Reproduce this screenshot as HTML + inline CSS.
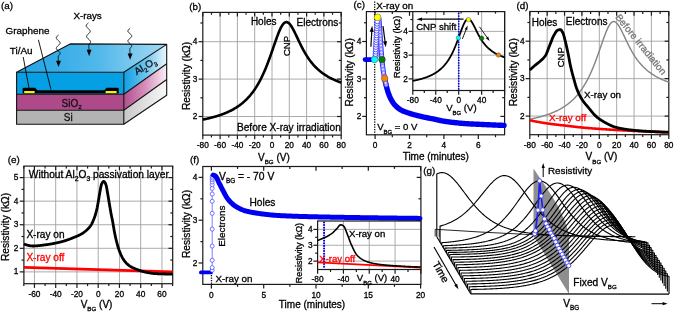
<!DOCTYPE html>
<html><head><meta charset="utf-8"><style>
html,body{margin:0;padding:0;background:#fff;}
svg{display:block;will-change:transform;}
text{font-family:"Liberation Sans", sans-serif;stroke-width:0.3px;}
</style></head><body>
<svg xmlns="http://www.w3.org/2000/svg" width="675" height="313" viewBox="0 0 675 313">
<rect width="675" height="313" fill="#fff"/>
<line x1="220.1" y1="12.4" x2="220.1" y2="135.1" stroke="#a2a2a2" stroke-width="0.9"/>
<line x1="237.4" y1="12.4" x2="237.4" y2="135.1" stroke="#a2a2a2" stroke-width="0.9"/>
<line x1="254.7" y1="12.4" x2="254.7" y2="135.1" stroke="#a2a2a2" stroke-width="0.9"/>
<line x1="272" y1="12.4" x2="272" y2="135.1" stroke="#a2a2a2" stroke-width="0.9"/>
<line x1="289.3" y1="12.4" x2="289.3" y2="135.1" stroke="#a2a2a2" stroke-width="0.9"/>
<line x1="306.6" y1="12.4" x2="306.6" y2="135.1" stroke="#a2a2a2" stroke-width="0.9"/>
<line x1="323.9" y1="12.4" x2="323.9" y2="135.1" stroke="#a2a2a2" stroke-width="0.9"/>
<line x1="202.8" y1="116.5" x2="341.2" y2="116.5" stroke="#a2a2a2" stroke-width="0.9"/>
<line x1="202.8" y1="79.1" x2="341.2" y2="79.1" stroke="#a2a2a2" stroke-width="0.9"/>
<line x1="202.8" y1="41.7" x2="341.2" y2="41.7" stroke="#a2a2a2" stroke-width="0.9"/>
<line x1="202.8" y1="135.1" x2="202.8" y2="139.3" stroke="#1a1a1a" stroke-width="1.2"/>
<line x1="202.8" y1="12.4" x2="202.8" y2="16.6" stroke="#1a1a1a" stroke-width="1.2"/>
<line x1="220.1" y1="135.1" x2="220.1" y2="139.3" stroke="#1a1a1a" stroke-width="1.2"/>
<line x1="220.1" y1="12.4" x2="220.1" y2="16.6" stroke="#1a1a1a" stroke-width="1.2"/>
<line x1="237.4" y1="135.1" x2="237.4" y2="139.3" stroke="#1a1a1a" stroke-width="1.2"/>
<line x1="237.4" y1="12.4" x2="237.4" y2="16.6" stroke="#1a1a1a" stroke-width="1.2"/>
<line x1="254.7" y1="135.1" x2="254.7" y2="139.3" stroke="#1a1a1a" stroke-width="1.2"/>
<line x1="254.7" y1="12.4" x2="254.7" y2="16.6" stroke="#1a1a1a" stroke-width="1.2"/>
<line x1="272" y1="135.1" x2="272" y2="139.3" stroke="#1a1a1a" stroke-width="1.2"/>
<line x1="272" y1="12.4" x2="272" y2="16.6" stroke="#1a1a1a" stroke-width="1.2"/>
<line x1="289.3" y1="135.1" x2="289.3" y2="139.3" stroke="#1a1a1a" stroke-width="1.2"/>
<line x1="289.3" y1="12.4" x2="289.3" y2="16.6" stroke="#1a1a1a" stroke-width="1.2"/>
<line x1="306.6" y1="135.1" x2="306.6" y2="139.3" stroke="#1a1a1a" stroke-width="1.2"/>
<line x1="306.6" y1="12.4" x2="306.6" y2="16.6" stroke="#1a1a1a" stroke-width="1.2"/>
<line x1="323.9" y1="135.1" x2="323.9" y2="139.3" stroke="#1a1a1a" stroke-width="1.2"/>
<line x1="323.9" y1="12.4" x2="323.9" y2="16.6" stroke="#1a1a1a" stroke-width="1.2"/>
<line x1="341.2" y1="135.1" x2="341.2" y2="139.3" stroke="#1a1a1a" stroke-width="1.2"/>
<line x1="341.2" y1="12.4" x2="341.2" y2="16.6" stroke="#1a1a1a" stroke-width="1.2"/>
<line x1="211.45" y1="135.1" x2="211.45" y2="137.5" stroke="#1a1a1a" stroke-width="1.2"/>
<line x1="211.45" y1="12.4" x2="211.45" y2="14.8" stroke="#1a1a1a" stroke-width="1.2"/>
<line x1="228.75" y1="135.1" x2="228.75" y2="137.5" stroke="#1a1a1a" stroke-width="1.2"/>
<line x1="228.75" y1="12.4" x2="228.75" y2="14.8" stroke="#1a1a1a" stroke-width="1.2"/>
<line x1="246.05" y1="135.1" x2="246.05" y2="137.5" stroke="#1a1a1a" stroke-width="1.2"/>
<line x1="246.05" y1="12.4" x2="246.05" y2="14.8" stroke="#1a1a1a" stroke-width="1.2"/>
<line x1="263.35" y1="135.1" x2="263.35" y2="137.5" stroke="#1a1a1a" stroke-width="1.2"/>
<line x1="263.35" y1="12.4" x2="263.35" y2="14.8" stroke="#1a1a1a" stroke-width="1.2"/>
<line x1="280.65" y1="135.1" x2="280.65" y2="137.5" stroke="#1a1a1a" stroke-width="1.2"/>
<line x1="280.65" y1="12.4" x2="280.65" y2="14.8" stroke="#1a1a1a" stroke-width="1.2"/>
<line x1="297.95" y1="135.1" x2="297.95" y2="137.5" stroke="#1a1a1a" stroke-width="1.2"/>
<line x1="297.95" y1="12.4" x2="297.95" y2="14.8" stroke="#1a1a1a" stroke-width="1.2"/>
<line x1="315.25" y1="135.1" x2="315.25" y2="137.5" stroke="#1a1a1a" stroke-width="1.2"/>
<line x1="315.25" y1="12.4" x2="315.25" y2="14.8" stroke="#1a1a1a" stroke-width="1.2"/>
<line x1="332.55" y1="135.1" x2="332.55" y2="137.5" stroke="#1a1a1a" stroke-width="1.2"/>
<line x1="332.55" y1="12.4" x2="332.55" y2="14.8" stroke="#1a1a1a" stroke-width="1.2"/>
<line x1="198.6" y1="116.5" x2="202.8" y2="116.5" stroke="#1a1a1a" stroke-width="1.2"/>
<line x1="337" y1="116.5" x2="341.2" y2="116.5" stroke="#1a1a1a" stroke-width="1.2"/>
<line x1="198.6" y1="79.1" x2="202.8" y2="79.1" stroke="#1a1a1a" stroke-width="1.2"/>
<line x1="337" y1="79.1" x2="341.2" y2="79.1" stroke="#1a1a1a" stroke-width="1.2"/>
<line x1="198.6" y1="41.7" x2="202.8" y2="41.7" stroke="#1a1a1a" stroke-width="1.2"/>
<line x1="337" y1="41.7" x2="341.2" y2="41.7" stroke="#1a1a1a" stroke-width="1.2"/>
<line x1="200.4" y1="97.8" x2="202.8" y2="97.8" stroke="#1a1a1a" stroke-width="1.2"/>
<line x1="338.8" y1="97.8" x2="341.2" y2="97.8" stroke="#1a1a1a" stroke-width="1.2"/>
<line x1="200.4" y1="60.4" x2="202.8" y2="60.4" stroke="#1a1a1a" stroke-width="1.2"/>
<line x1="338.8" y1="60.4" x2="341.2" y2="60.4" stroke="#1a1a1a" stroke-width="1.2"/>
<line x1="200.4" y1="23" x2="202.8" y2="23" stroke="#1a1a1a" stroke-width="1.2"/>
<line x1="338.8" y1="23" x2="341.2" y2="23" stroke="#1a1a1a" stroke-width="1.2"/>
<rect x="202.8" y="12.4" width="138.4" height="122.7" fill="none" stroke="#1a1a1a" stroke-width="1.2"/>
<text x="202.8" y="147.8" font-size="8.3" text-anchor="middle" fill="#000" stroke="#000">-80</text>
<text x="220.1" y="147.8" font-size="8.3" text-anchor="middle" fill="#000" stroke="#000">-60</text>
<text x="237.4" y="147.8" font-size="8.3" text-anchor="middle" fill="#000" stroke="#000">-40</text>
<text x="254.7" y="147.8" font-size="8.3" text-anchor="middle" fill="#000" stroke="#000">-20</text>
<text x="272" y="147.8" font-size="8.3" text-anchor="middle" fill="#000" stroke="#000">0</text>
<text x="289.3" y="147.8" font-size="8.3" text-anchor="middle" fill="#000" stroke="#000">20</text>
<text x="306.6" y="147.8" font-size="8.3" text-anchor="middle" fill="#000" stroke="#000">40</text>
<text x="323.9" y="147.8" font-size="8.3" text-anchor="middle" fill="#000" stroke="#000">60</text>
<text x="341.2" y="147.8" font-size="8.3" text-anchor="middle" fill="#000" stroke="#000">80</text>
<text x="197.4" y="119.1" font-size="8.3" text-anchor="end" fill="#000" stroke="#000">2</text>
<text x="197.4" y="81.7" font-size="8.3" text-anchor="end" fill="#000" stroke="#000">3</text>
<text x="197.4" y="44.3" font-size="8.3" text-anchor="end" fill="#000" stroke="#000">4</text>
<path d="M202.8 119.58 L203.26 119.49 L203.73 119.39 L204.19 119.3 L204.65 119.2 L205.11 119.11 L205.58 119.01 L206.04 118.91 L206.5 118.8 L206.97 118.7 L207.43 118.6 L207.89 118.49 L208.35 118.38 L208.82 118.27 L209.28 118.16 L209.74 118.05 L210.21 117.94 L210.67 117.82 L211.13 117.71 L211.59 117.59 L212.06 117.47 L212.52 117.35 L212.98 117.22 L213.45 117.1 L213.91 116.97 L214.37 116.84 L214.83 116.71 L215.3 116.57 L215.76 116.44 L216.22 116.3 L216.69 116.16 L217.15 116.02 L217.61 115.88 L218.07 115.73 L218.54 115.58 L219 115.43 L219.46 115.28 L219.93 115.12 L220.39 114.97 L220.85 114.81 L221.32 114.64 L221.78 114.48 L222.24 114.31 L222.7 114.14 L223.17 113.96 L223.63 113.79 L224.09 113.61 L224.56 113.42 L225.02 113.24 L225.48 113.05 L225.94 112.85 L226.41 112.66 L226.87 112.46 L227.33 112.26 L227.8 112.05 L228.26 111.84 L228.72 111.63 L229.18 111.41 L229.65 111.19 L230.11 110.96 L230.57 110.73 L231.04 110.5 L231.5 110.26 L231.96 110.02 L232.42 109.77 L232.89 109.52 L233.35 109.26 L233.81 109 L234.28 108.73 L234.74 108.46 L235.2 108.19 L235.66 107.9 L236.13 107.62 L236.59 107.32 L237.05 107.02 L237.52 106.72 L237.98 106.41 L238.44 106.09 L238.9 105.77 L239.37 105.44 L239.83 105.1 L240.29 104.76 L240.76 104.4 L241.22 104.05 L241.68 103.68 L242.14 103.31 L242.61 102.93 L243.07 102.54 L243.53 102.14 L244 101.73 L244.46 101.32 L244.92 100.9 L245.38 100.46 L245.85 100.02 L246.31 99.57 L246.77 99.11 L247.24 98.64 L247.7 98.16 L248.16 97.66 L248.62 97.16 L249.09 96.65 L249.55 96.12 L250.01 95.58 L250.48 95.03 L250.94 94.47 L251.4 93.9 L251.86 93.31 L252.33 92.71 L252.79 92.1 L253.25 91.47 L253.72 90.83 L254.18 90.17 L254.64 89.5 L255.11 88.82 L255.57 88.12 L256.03 87.4 L256.49 86.67 L256.96 85.92 L257.42 85.15 L257.88 84.36 L258.35 83.56 L258.81 82.74 L259.27 81.91 L259.73 81.05 L260.2 80.18 L260.66 79.29 L261.12 78.37 L261.59 77.44 L262.05 76.49 L262.51 75.52 L262.97 74.53 L263.44 73.52 L263.9 72.48 L264.36 71.43 L264.83 70.36 L265.29 69.27 L265.75 68.15 L266.21 67.02 L266.68 65.87 L267.14 64.7 L267.6 63.51 L268.07 62.3 L268.53 61.07 L268.99 59.82 L269.45 58.56 L269.92 57.29 L270.38 55.99 L270.84 54.69 L271.31 53.37 L271.77 52.05 L272.23 50.71 L272.69 49.37 L273.16 48.02 L273.62 46.68 L274.08 45.33 L274.55 43.98 L275.01 42.65 L275.47 41.32 L275.93 40 L276.4 38.7 L276.86 37.42 L277.32 36.16 L277.79 34.93 L278.25 33.74 L278.71 32.57 L279.17 31.45 L279.64 30.38 L280.1 29.35 L280.56 28.38 L281.03 27.46 L281.49 26.61 L281.95 25.82 L282.41 25.1 L282.88 24.45 L283.34 23.87 L283.8 23.38 L284.27 22.96 L284.73 22.62 L285.19 22.37 L285.65 22.19 L286.12 22.1 L286.58 22.09 L287.04 22.16 L287.51 22.31 L287.97 22.54 L288.43 22.84 L288.89 23.21 L289.36 23.65 L289.82 24.16 L290.28 24.72 L290.75 25.34 L291.21 26.02 L291.67 26.74 L292.14 27.5 L292.6 28.31 L293.06 29.15 L293.52 30.02 L293.99 30.92 L294.45 31.84 L294.91 32.78 L295.38 33.73 L295.84 34.7 L296.3 35.67 L296.76 36.65 L297.23 37.64 L297.69 38.62 L298.15 39.6 L298.62 40.58 L299.08 41.55 L299.54 42.52 L300 43.47 L300.47 44.42 L300.93 45.35 L301.39 46.27 L301.86 47.18 L302.32 48.07 L302.78 48.95 L303.24 49.81 L303.71 50.65 L304.17 51.48 L304.63 52.3 L305.1 53.1 L305.56 53.88 L306.02 54.64 L306.48 55.39 L306.95 56.13 L307.41 56.84 L307.87 57.54 L308.34 58.23 L308.8 58.9 L309.26 59.55 L309.72 60.19 L310.19 60.81 L310.65 61.42 L311.11 62.02 L311.58 62.6 L312.04 63.17 L312.5 63.73 L312.96 64.27 L313.43 64.8 L313.89 65.32 L314.35 65.82 L314.82 66.32 L315.28 66.8 L315.74 67.27 L316.2 67.73 L316.67 68.19 L317.13 68.63 L317.59 69.06 L318.06 69.48 L318.52 69.89 L318.98 70.29 L319.44 70.69 L319.91 71.07 L320.37 71.45 L320.83 71.82 L321.3 72.18 L321.76 72.54 L322.22 72.88 L322.68 73.22 L323.15 73.55 L323.61 73.88 L324.07 74.2 L324.54 74.51 L325 74.82 L325.46 75.12 L325.93 75.41 L326.39 75.7 L326.85 75.98 L327.31 76.26 L327.78 76.53 L328.24 76.8 L328.7 77.06 L329.17 77.31 L329.63 77.57 L330.09 77.81 L330.55 78.06 L331.02 78.29 L331.48 78.53 L331.94 78.76 L332.41 78.98 L332.87 79.2 L333.33 79.42 L333.79 79.64 L334.26 79.85 L334.72 80.05 L335.18 80.25 L335.65 80.45 L336.11 80.65 L336.57 80.84 L337.03 81.03 L337.5 81.22 L337.96 81.4 L338.42 81.58 L338.89 81.76 L339.35 81.93 L339.81 82.1 L340.27 82.27 L340.74 82.44 L341.2 82.6" stroke="#000" stroke-width="2.6" fill="none" stroke-linejoin="round"/>
<text x="250.9" y="24.7" font-size="10" text-anchor="start" fill="#000" stroke="#000">Holes</text>
<text x="296.6" y="25.5" font-size="10" text-anchor="start" fill="#000" stroke="#000">Electrons</text>
<text x="290.2" y="46" font-size="9.5" text-anchor="middle" fill="#000" stroke="#000" transform="rotate(-90 290.2 46)">CNP</text>
<text x="237" y="131.2" font-size="10.1" text-anchor="start" fill="#000" stroke="#000">Before X-ray irradiation</text>
<text x="258" y="160.5" font-size="10" text-anchor="start" fill="#000" stroke="#000">V<tspan font-size="6.2" dy="3.5">BG</tspan><tspan dy="-3.5"> (V)</tspan></text>
<text x="190.3" y="76" font-size="10.2" text-anchor="middle" fill="#000" stroke="#000" transform="rotate(-90 190.3 76)">Resistivity (k&#937;)</text>
<text x="189.3" y="9.6" font-size="9.8" text-anchor="start" fill="#000" stroke="#000">(b)</text>
<line x1="375.1" y1="134.8" x2="375.1" y2="139" stroke="#1a1a1a" stroke-width="1.2"/>
<line x1="375.1" y1="11.6" x2="375.1" y2="15.8" stroke="#1a1a1a" stroke-width="1.2"/>
<line x1="409.5" y1="134.8" x2="409.5" y2="139" stroke="#1a1a1a" stroke-width="1.2"/>
<line x1="409.5" y1="11.6" x2="409.5" y2="15.8" stroke="#1a1a1a" stroke-width="1.2"/>
<line x1="443.9" y1="134.8" x2="443.9" y2="139" stroke="#1a1a1a" stroke-width="1.2"/>
<line x1="443.9" y1="11.6" x2="443.9" y2="15.8" stroke="#1a1a1a" stroke-width="1.2"/>
<line x1="478.3" y1="134.8" x2="478.3" y2="139" stroke="#1a1a1a" stroke-width="1.2"/>
<line x1="478.3" y1="11.6" x2="478.3" y2="15.8" stroke="#1a1a1a" stroke-width="1.2"/>
<line x1="392.3" y1="134.8" x2="392.3" y2="137.2" stroke="#1a1a1a" stroke-width="1.2"/>
<line x1="392.3" y1="11.6" x2="392.3" y2="14" stroke="#1a1a1a" stroke-width="1.2"/>
<line x1="426.7" y1="134.8" x2="426.7" y2="137.2" stroke="#1a1a1a" stroke-width="1.2"/>
<line x1="426.7" y1="11.6" x2="426.7" y2="14" stroke="#1a1a1a" stroke-width="1.2"/>
<line x1="461.1" y1="134.8" x2="461.1" y2="137.2" stroke="#1a1a1a" stroke-width="1.2"/>
<line x1="461.1" y1="11.6" x2="461.1" y2="14" stroke="#1a1a1a" stroke-width="1.2"/>
<line x1="495.5" y1="134.8" x2="495.5" y2="137.2" stroke="#1a1a1a" stroke-width="1.2"/>
<line x1="495.5" y1="11.6" x2="495.5" y2="14" stroke="#1a1a1a" stroke-width="1.2"/>
<line x1="362.2" y1="116.4" x2="366.4" y2="116.4" stroke="#1a1a1a" stroke-width="1.2"/>
<line x1="500.4" y1="116.4" x2="504.6" y2="116.4" stroke="#1a1a1a" stroke-width="1.2"/>
<line x1="362.2" y1="78.95" x2="366.4" y2="78.95" stroke="#1a1a1a" stroke-width="1.2"/>
<line x1="500.4" y1="78.95" x2="504.6" y2="78.95" stroke="#1a1a1a" stroke-width="1.2"/>
<line x1="362.2" y1="41.5" x2="366.4" y2="41.5" stroke="#1a1a1a" stroke-width="1.2"/>
<line x1="500.4" y1="41.5" x2="504.6" y2="41.5" stroke="#1a1a1a" stroke-width="1.2"/>
<line x1="364" y1="97.68" x2="366.4" y2="97.68" stroke="#1a1a1a" stroke-width="1.2"/>
<line x1="502.2" y1="97.68" x2="504.6" y2="97.68" stroke="#1a1a1a" stroke-width="1.2"/>
<line x1="364" y1="60.23" x2="366.4" y2="60.23" stroke="#1a1a1a" stroke-width="1.2"/>
<line x1="502.2" y1="60.23" x2="504.6" y2="60.23" stroke="#1a1a1a" stroke-width="1.2"/>
<line x1="364" y1="22.77" x2="366.4" y2="22.77" stroke="#1a1a1a" stroke-width="1.2"/>
<line x1="502.2" y1="22.77" x2="504.6" y2="22.77" stroke="#1a1a1a" stroke-width="1.2"/>
<rect x="366.4" y="11.6" width="138.2" height="123.2" fill="none" stroke="#1a1a1a" stroke-width="1.2"/>
<text x="375.1" y="147.8" font-size="8.3" text-anchor="middle" fill="#000" stroke="#000">0</text>
<text x="409.5" y="147.8" font-size="8.3" text-anchor="middle" fill="#000" stroke="#000">2</text>
<text x="443.9" y="147.8" font-size="8.3" text-anchor="middle" fill="#000" stroke="#000">4</text>
<text x="478.3" y="147.8" font-size="8.3" text-anchor="middle" fill="#000" stroke="#000">6</text>
<text x="361.3" y="119" font-size="8.3" text-anchor="end" fill="#000" stroke="#000">2</text>
<text x="361.3" y="81.55" font-size="8.3" text-anchor="end" fill="#000" stroke="#000">3</text>
<text x="361.3" y="44.1" font-size="8.3" text-anchor="end" fill="#000" stroke="#000">4</text>
<text x="353.6" y="8" font-size="9.8" text-anchor="start" fill="#000" stroke="#000">(c)</text>
<text x="376.2" y="9.3" font-size="9.8" text-anchor="start" fill="#000" stroke="#000">X-ray on</text>
<text x="352.6" y="72.3" font-size="10.2" text-anchor="middle" fill="#000" stroke="#000" transform="rotate(-90 352.6 72.3)">Resistivity (k&#937;)</text>
<text x="435.8" y="159.9" font-size="10" text-anchor="middle" fill="#000" stroke="#000">Time (minutes)</text>
<line x1="374.7" y1="1.5" x2="374.7" y2="134.8" stroke="#000" stroke-width="1.3" stroke-dasharray="1.3 1.2"/>
<line x1="365" y1="59.6" x2="374.5" y2="59.6" stroke="#0000f0" stroke-width="4.6" stroke-linecap="round"/>
<path d="M384.6 78.3 L384.73 79 L384.86 79.7 L385 80.4 L385.14 81.1 L385.29 81.8 L385.45 82.49 L385.61 83.18 L385.77 83.88 L385.94 84.57 L386.11 85.26 L386.29 85.94 L386.47 86.63 L386.65 87.32 L386.83 88 L387.02 88.68 L387.22 89.37 L387.41 90.05 L387.62 90.74 L387.83 91.42 L388.04 92.1 L388.27 92.78 L388.5 93.46 L388.74 94.13 L388.99 94.79 L389.25 95.44 L389.52 96.09 L389.81 96.74 L390.1 97.39 L390.41 98.04 L390.73 98.7 L391.06 99.34 L391.41 99.98 L391.76 100.61 L392.13 101.24 L392.51 101.85 L392.9 102.44 L393.3 103.02 L393.71 103.58 L394.13 104.12 L394.57 104.64 L395.03 105.16 L395.52 105.68 L396.03 106.18 L396.56 106.68 L397.1 107.17 L397.66 107.65 L398.23 108.1 L398.81 108.55 L399.4 108.97 L400 109.37 L400.59 109.74 L401.19 110.09 L401.8 110.41 L402.41 110.72 L403.05 111.01 L403.69 111.29 L404.35 111.56 L405.01 111.82 L405.69 112.07 L406.36 112.31 L407.05 112.55 L407.74 112.78 L408.42 113 L409.11 113.22 L409.8 113.43 L410.48 113.64 L411.16 113.85 L411.84 114.05 L412.52 114.26 L413.2 114.45 L413.88 114.65 L414.57 114.83 L415.26 115.02 L415.94 115.2 L416.63 115.38 L417.32 115.56 L418.01 115.73 L418.71 115.9 L419.4 116.06 L420.09 116.23 L420.78 116.39 L421.48 116.55 L422.17 116.71 L422.86 116.87 L423.56 117.02 L424.25 117.17 L424.95 117.32 L425.64 117.46 L426.34 117.61 L427.04 117.74 L427.73 117.88 L428.43 118.02 L429.13 118.15 L429.83 118.28 L430.53 118.42 L431.23 118.55 L431.92 118.68 L432.62 118.82 L433.32 118.96 L434.02 119.1 L434.71 119.24 L435.41 119.39 L436.1 119.54 L436.8 119.7 L437.49 119.86 L438.18 120.02 L438.88 120.18 L439.57 120.34 L440.26 120.5 L440.96 120.65 L441.66 120.79 L442.35 120.92 L443.05 121.04 L443.75 121.16 L444.45 121.27 L445.15 121.38 L445.86 121.48 L446.56 121.59 L447.26 121.69 L447.97 121.79 L448.67 121.88 L449.38 121.98 L450.09 122.07 L450.79 122.15 L451.5 122.24 L452.21 122.32 L452.91 122.41 L453.62 122.49 L454.33 122.56 L455.03 122.64 L455.74 122.71 L456.45 122.79 L457.15 122.86 L457.86 122.93 L458.57 123 L459.28 123.07 L459.98 123.14 L460.69 123.21 L461.4 123.27 L462.11 123.33 L462.82 123.4 L463.53 123.45 L464.23 123.51 L464.94 123.57 L465.65 123.62 L466.36 123.67 L467.07 123.72 L467.78 123.77 L468.49 123.81 L469.2 123.85 L469.91 123.89 L470.62 123.93 L471.33 123.97 L472.04 124 L472.75 124.03 L473.46 124.07 L474.17 124.1 L474.88 124.13 L475.59 124.16 L476.3 124.19 L477.01 124.22 L477.72 124.25 L478.43 124.28 L479.14 124.31 L479.85 124.34 L480.56 124.38 L481.27 124.41 L481.98 124.44 L482.69 124.48 L483.4 124.51 L484.11 124.54 L484.82 124.58 L485.53 124.61 L486.24 124.65 L486.95 124.68 L487.66 124.71 L488.37 124.75 L489.08 124.78 L489.79 124.82 L490.5 124.85 L491.21 124.88 L491.92 124.91 L492.63 124.94 L493.34 124.98 L494.05 125.01 L494.76 125.04 L495.48 125.07 L496.19 125.1 L496.9 125.13 L497.61 125.15 L498.32 125.18 L499.03 125.21 L499.74 125.24 L500.45 125.27 L501.16 125.29 L501.87 125.32 L502.58 125.35 L503.29 125.37 L504 125.4" stroke="#0000f0" stroke-width="5.4" fill="none" stroke-linecap="round" stroke-linejoin="round"/>
<path d="M372.6 57.5 L378.8 57.5 L380.2 20.5 L375 20.5Z" stroke="none" stroke-width="0" fill="#9c9cff"/>
<path d="M379 18.5 L379.08 19.63 L379.16 20.77 L379.24 21.9 L379.32 23.03 L379.4 24.16 L379.48 25.3 L379.55 26.43 L379.63 27.56 L379.71 28.69 L379.79 29.83 L379.86 30.96 L379.94 32.09 L380.01 33.23 L380.09 34.36 L380.16 35.49 L380.23 36.62 L380.31 37.76 L380.38 38.89 L380.45 40.02 L380.53 41.16 L380.61 42.29 L380.69 43.42 L380.77 44.55 L380.85 45.69 L380.94 46.82 L381.02 47.95 L381.11 49.08 L381.2 50.22 L381.29 51.35 L381.38 52.48 L381.47 53.61 L381.57 54.74 L381.66 55.87 L381.76 57 L381.86 58.14 L381.97 59.27 L382.07 60.4 L382.18 61.53 L382.29 62.66 L382.4 63.79 L382.52 64.92 L382.64 66.05 L382.77 67.17 L382.91 68.3 L383.06 69.43 L383.22 70.55 L383.39 71.67 L383.57 72.79 L383.76 73.91 L383.97 75.03 L384.18 76.15 L384.39 77.26 L384.62 78.37 L384.85 79.48 L385.1 80.59 L385.36 81.7 L385.63 82.8 L385.91 83.9 L386.2 85" stroke="#3030ff" stroke-width="5" fill="none" stroke-linecap="round" stroke-linejoin="round"/>
<path d="M379 18.5 L379.08 19.63 L379.16 20.77 L379.24 21.9 L379.32 23.03 L379.4 24.16 L379.48 25.3 L379.55 26.43 L379.63 27.56 L379.71 28.69 L379.79 29.83 L379.86 30.96 L379.94 32.09 L380.01 33.23 L380.09 34.36 L380.16 35.49 L380.23 36.62 L380.31 37.76 L380.38 38.89 L380.45 40.02 L380.53 41.16 L380.61 42.29 L380.69 43.42 L380.77 44.55 L380.85 45.69 L380.94 46.82 L381.02 47.95 L381.11 49.08 L381.2 50.22 L381.29 51.35 L381.38 52.48 L381.47 53.61 L381.57 54.74 L381.66 55.87 L381.76 57 L381.86 58.14 L381.97 59.27 L382.07 60.4 L382.18 61.53 L382.29 62.66 L382.4 63.79 L382.52 64.92 L382.64 66.05 L382.77 67.17 L382.91 68.3 L383.06 69.43 L383.22 70.55 L383.39 71.67 L383.57 72.79 L383.76 73.91 L383.97 75.03 L384.18 76.15 L384.39 77.26 L384.62 78.37 L384.85 79.48 L385.1 80.59 L385.36 81.7 L385.63 82.8 L385.91 83.9 L386.2 85" stroke="#b4b4ff" stroke-width="3" fill="none" stroke-linecap="round" stroke-linejoin="round"/>
<circle cx="379" cy="18.5" r="1.5" fill="#e0e0ff" stroke="#5050ff" stroke-width="0.5"/>
<circle cx="379.24" cy="21.9" r="1.5" fill="#e0e0ff" stroke="#5050ff" stroke-width="0.5"/>
<circle cx="379.48" cy="25.3" r="1.5" fill="#e0e0ff" stroke="#5050ff" stroke-width="0.5"/>
<circle cx="379.71" cy="28.69" r="1.5" fill="#e0e0ff" stroke="#5050ff" stroke-width="0.5"/>
<circle cx="379.94" cy="32.09" r="1.5" fill="#e0e0ff" stroke="#5050ff" stroke-width="0.5"/>
<circle cx="380.16" cy="35.49" r="1.5" fill="#e0e0ff" stroke="#5050ff" stroke-width="0.5"/>
<circle cx="380.38" cy="38.89" r="1.5" fill="#e0e0ff" stroke="#5050ff" stroke-width="0.5"/>
<circle cx="380.61" cy="42.29" r="1.5" fill="#e0e0ff" stroke="#5050ff" stroke-width="0.5"/>
<circle cx="380.85" cy="45.69" r="1.5" fill="#e0e0ff" stroke="#5050ff" stroke-width="0.5"/>
<circle cx="381.11" cy="49.08" r="1.5" fill="#e0e0ff" stroke="#5050ff" stroke-width="0.5"/>
<circle cx="381.38" cy="52.48" r="1.5" fill="#e0e0ff" stroke="#5050ff" stroke-width="0.5"/>
<circle cx="381.66" cy="55.87" r="1.5" fill="#e0e0ff" stroke="#5050ff" stroke-width="0.5"/>
<circle cx="381.97" cy="59.27" r="1.5" fill="#e0e0ff" stroke="#5050ff" stroke-width="0.5"/>
<circle cx="382.29" cy="62.66" r="1.5" fill="#e0e0ff" stroke="#5050ff" stroke-width="0.5"/>
<circle cx="382.64" cy="66.05" r="1.5" fill="#e0e0ff" stroke="#5050ff" stroke-width="0.5"/>
<circle cx="383.06" cy="69.43" r="1.5" fill="#e0e0ff" stroke="#5050ff" stroke-width="0.5"/>
<circle cx="383.57" cy="72.79" r="1.5" fill="#e0e0ff" stroke="#5050ff" stroke-width="0.5"/>
<circle cx="384.18" cy="76.15" r="1.5" fill="#e0e0ff" stroke="#5050ff" stroke-width="0.5"/>
<circle cx="384.85" cy="79.48" r="1.5" fill="#e0e0ff" stroke="#5050ff" stroke-width="0.5"/>
<circle cx="385.63" cy="82.8" r="1.5" fill="#e0e0ff" stroke="#5050ff" stroke-width="0.5"/>
<circle cx="375.4" cy="56.5" r="2.3" fill="#fff" stroke="#3030ff" stroke-width="0.8"/>
<circle cx="375.52" cy="54.17" r="2.3" fill="#fff" stroke="#3030ff" stroke-width="0.8"/>
<circle cx="375.64" cy="51.83" r="2.3" fill="#fff" stroke="#3030ff" stroke-width="0.8"/>
<circle cx="375.76" cy="49.5" r="2.3" fill="#fff" stroke="#3030ff" stroke-width="0.8"/>
<circle cx="375.88" cy="47.17" r="2.3" fill="#fff" stroke="#3030ff" stroke-width="0.8"/>
<circle cx="376" cy="44.83" r="2.3" fill="#fff" stroke="#3030ff" stroke-width="0.8"/>
<circle cx="376.12" cy="42.5" r="2.3" fill="#fff" stroke="#3030ff" stroke-width="0.8"/>
<circle cx="376.24" cy="40.17" r="2.3" fill="#fff" stroke="#3030ff" stroke-width="0.8"/>
<circle cx="376.36" cy="37.83" r="2.3" fill="#fff" stroke="#3030ff" stroke-width="0.8"/>
<circle cx="376.48" cy="35.5" r="2.3" fill="#fff" stroke="#3030ff" stroke-width="0.8"/>
<circle cx="376.6" cy="33.17" r="2.3" fill="#fff" stroke="#3030ff" stroke-width="0.8"/>
<circle cx="376.72" cy="30.83" r="2.3" fill="#fff" stroke="#3030ff" stroke-width="0.8"/>
<circle cx="376.84" cy="28.5" r="2.3" fill="#fff" stroke="#3030ff" stroke-width="0.8"/>
<circle cx="376.96" cy="26.17" r="2.3" fill="#fff" stroke="#3030ff" stroke-width="0.8"/>
<circle cx="377.08" cy="23.83" r="2.3" fill="#fff" stroke="#3030ff" stroke-width="0.8"/>
<circle cx="377.2" cy="21.5" r="2.3" fill="#fff" stroke="#3030ff" stroke-width="0.8"/>
<line x1="370.9" y1="46.8" x2="371.79" y2="31.29" stroke="#000" stroke-width="1.2"/>
<path d="M372.1 25.8 L373.75 31.9 L369.76 31.68Z" stroke="none" stroke-width="0" fill="#000"/>
<line x1="383" y1="26.2" x2="385.07" y2="41.75" stroke="#000" stroke-width="1.2"/>
<path d="M385.8 47.2 L383.02 41.52 L386.99 40.99Z" stroke="none" stroke-width="0" fill="#000"/>
<circle cx="377.6" cy="17.4" r="3.4" fill="#ffff00" stroke="#555" stroke-width="0.5"/>
<circle cx="374.5" cy="59.6" r="3.3" fill="#00ffff" stroke="#555" stroke-width="0.5"/>
<circle cx="382" cy="59.6" r="3.3" fill="#008000" stroke="#333" stroke-width="0.5"/>
<circle cx="384.6" cy="78.4" r="3.3" fill="#ff8000" stroke="#555" stroke-width="0.5"/>
<rect x="412.8" y="11.6" width="91.8" height="78.9" fill="#fff"/>
<line x1="435.75" y1="11.6" x2="435.75" y2="90.5" stroke="#a2a2a2" stroke-width="0.9"/>
<line x1="458.7" y1="11.6" x2="458.7" y2="90.5" stroke="#a2a2a2" stroke-width="0.9"/>
<line x1="481.65" y1="11.6" x2="481.65" y2="90.5" stroke="#a2a2a2" stroke-width="0.9"/>
<line x1="412.8" y1="78.9" x2="504.6" y2="78.9" stroke="#a2a2a2" stroke-width="0.9"/>
<line x1="412.8" y1="55.15" x2="504.6" y2="55.15" stroke="#a2a2a2" stroke-width="0.9"/>
<line x1="412.8" y1="31.4" x2="504.6" y2="31.4" stroke="#a2a2a2" stroke-width="0.9"/>
<line x1="412.8" y1="90.5" x2="412.8" y2="94.7" stroke="#1a1a1a" stroke-width="1.2"/>
<line x1="435.75" y1="90.5" x2="435.75" y2="94.7" stroke="#1a1a1a" stroke-width="1.2"/>
<line x1="458.7" y1="90.5" x2="458.7" y2="94.7" stroke="#1a1a1a" stroke-width="1.2"/>
<line x1="481.65" y1="90.5" x2="481.65" y2="94.7" stroke="#1a1a1a" stroke-width="1.2"/>
<line x1="504.6" y1="90.5" x2="504.6" y2="94.7" stroke="#1a1a1a" stroke-width="1.2"/>
<line x1="424.28" y1="90.5" x2="424.28" y2="92.9" stroke="#1a1a1a" stroke-width="1.2"/>
<line x1="447.23" y1="90.5" x2="447.23" y2="92.9" stroke="#1a1a1a" stroke-width="1.2"/>
<line x1="470.18" y1="90.5" x2="470.18" y2="92.9" stroke="#1a1a1a" stroke-width="1.2"/>
<line x1="493.12" y1="90.5" x2="493.12" y2="92.9" stroke="#1a1a1a" stroke-width="1.2"/>
<line x1="408.6" y1="78.9" x2="412.8" y2="78.9" stroke="#1a1a1a" stroke-width="1.2"/>
<line x1="408.6" y1="55.15" x2="412.8" y2="55.15" stroke="#1a1a1a" stroke-width="1.2"/>
<line x1="408.6" y1="31.4" x2="412.8" y2="31.4" stroke="#1a1a1a" stroke-width="1.2"/>
<line x1="410.4" y1="67.03" x2="412.8" y2="67.03" stroke="#1a1a1a" stroke-width="1.2"/>
<line x1="410.4" y1="43.27" x2="412.8" y2="43.27" stroke="#1a1a1a" stroke-width="1.2"/>
<line x1="410.4" y1="19.52" x2="412.8" y2="19.52" stroke="#1a1a1a" stroke-width="1.2"/>
<rect x="412.8" y="11.6" width="91.8" height="78.9" fill="none" stroke="#1a1a1a" stroke-width="1.2"/>
<line x1="426.7" y1="11.6" x2="426.7" y2="13.6" stroke="#1a1a1a" stroke-width="1.2"/>
<line x1="461.1" y1="11.6" x2="461.1" y2="13.6" stroke="#1a1a1a" stroke-width="1.2"/>
<line x1="495.5" y1="11.6" x2="495.5" y2="13.6" stroke="#1a1a1a" stroke-width="1.2"/>
<line x1="443.9" y1="11.6" x2="443.9" y2="15.1" stroke="#1a1a1a" stroke-width="1.2"/>
<line x1="478.3" y1="11.6" x2="478.3" y2="15.1" stroke="#1a1a1a" stroke-width="1.2"/>
<text x="412.8" y="103.3" font-size="8.3" text-anchor="middle" fill="#000" stroke="#000">-80</text>
<text x="435.75" y="103.3" font-size="8.3" text-anchor="middle" fill="#000" stroke="#000">-40</text>
<text x="458.7" y="103.3" font-size="8.3" text-anchor="middle" fill="#000" stroke="#000">0</text>
<text x="481.65" y="103.3" font-size="8.3" text-anchor="middle" fill="#000" stroke="#000">40</text>
<text x="407.8" y="81.5" font-size="8.3" text-anchor="end" fill="#000" stroke="#000">2</text>
<text x="407.8" y="57.75" font-size="8.3" text-anchor="end" fill="#000" stroke="#000">3</text>
<text x="407.8" y="34" font-size="8.3" text-anchor="end" fill="#000" stroke="#000">4</text>
<text x="446.2" y="111.2" font-size="9.6" text-anchor="start" fill="#000" stroke="#000">V<tspan font-size="5.95" dy="3.36">BG</tspan><tspan dy="-3.36"> (V)</tspan></text>
<text x="400.4" y="46.8" font-size="9.3" text-anchor="middle" fill="#000" stroke="#000" transform="rotate(-90 400.4 46.8)">Resistivity (k&#937;)</text>
<circle cx="458.7" cy="13.5" r="0.9" fill="#0000f0" stroke="none" stroke-width="0"/>
<circle cx="458.7" cy="16.1" r="0.9" fill="#0000f0" stroke="none" stroke-width="0"/>
<circle cx="458.7" cy="18.7" r="0.9" fill="#0000f0" stroke="none" stroke-width="0"/>
<circle cx="458.7" cy="21.3" r="0.9" fill="#0000f0" stroke="none" stroke-width="0"/>
<circle cx="458.7" cy="23.9" r="0.9" fill="#0000f0" stroke="none" stroke-width="0"/>
<circle cx="458.7" cy="26.5" r="0.9" fill="#0000f0" stroke="none" stroke-width="0"/>
<circle cx="458.7" cy="29.1" r="0.9" fill="#0000f0" stroke="none" stroke-width="0"/>
<circle cx="458.7" cy="31.7" r="0.9" fill="#0000f0" stroke="none" stroke-width="0"/>
<circle cx="458.7" cy="34.3" r="0.9" fill="#0000f0" stroke="none" stroke-width="0"/>
<circle cx="458.7" cy="36.9" r="0.9" fill="#0000f0" stroke="none" stroke-width="0"/>
<circle cx="458.7" cy="39.5" r="0.9" fill="#0000f0" stroke="none" stroke-width="0"/>
<circle cx="458.7" cy="42.1" r="0.9" fill="#0000f0" stroke="none" stroke-width="0"/>
<circle cx="458.7" cy="44.7" r="0.9" fill="#0000f0" stroke="none" stroke-width="0"/>
<circle cx="458.7" cy="47.3" r="0.9" fill="#0000f0" stroke="none" stroke-width="0"/>
<circle cx="458.7" cy="49.9" r="0.9" fill="#0000f0" stroke="none" stroke-width="0"/>
<circle cx="458.7" cy="52.5" r="0.9" fill="#0000f0" stroke="none" stroke-width="0"/>
<circle cx="458.7" cy="55.1" r="0.9" fill="#0000f0" stroke="none" stroke-width="0"/>
<circle cx="458.7" cy="57.7" r="0.9" fill="#0000f0" stroke="none" stroke-width="0"/>
<circle cx="458.7" cy="60.3" r="0.9" fill="#0000f0" stroke="none" stroke-width="0"/>
<circle cx="458.7" cy="62.9" r="0.9" fill="#0000f0" stroke="none" stroke-width="0"/>
<circle cx="458.7" cy="65.5" r="0.9" fill="#0000f0" stroke="none" stroke-width="0"/>
<circle cx="458.7" cy="68.1" r="0.9" fill="#0000f0" stroke="none" stroke-width="0"/>
<circle cx="458.7" cy="70.7" r="0.9" fill="#0000f0" stroke="none" stroke-width="0"/>
<circle cx="458.7" cy="73.3" r="0.9" fill="#0000f0" stroke="none" stroke-width="0"/>
<circle cx="458.7" cy="75.9" r="0.9" fill="#0000f0" stroke="none" stroke-width="0"/>
<circle cx="458.7" cy="78.5" r="0.9" fill="#0000f0" stroke="none" stroke-width="0"/>
<circle cx="458.7" cy="81.1" r="0.9" fill="#0000f0" stroke="none" stroke-width="0"/>
<circle cx="458.7" cy="83.7" r="0.9" fill="#0000f0" stroke="none" stroke-width="0"/>
<circle cx="458.7" cy="86.3" r="0.9" fill="#0000f0" stroke="none" stroke-width="0"/>
<circle cx="458.7" cy="88.9" r="0.9" fill="#0000f0" stroke="none" stroke-width="0"/>
<path d="M412.8 80.86 L413.11 80.8 L413.41 80.74 L413.72 80.68 L414.03 80.62 L414.34 80.55 L414.64 80.49 L414.95 80.43 L415.26 80.36 L415.56 80.3 L415.87 80.23 L416.18 80.16 L416.48 80.1 L416.79 80.03 L417.1 79.96 L417.41 79.89 L417.71 79.81 L418.02 79.74 L418.33 79.67 L418.63 79.59 L418.94 79.51 L419.25 79.44 L419.55 79.36 L419.86 79.28 L420.17 79.2 L420.48 79.12 L420.78 79.03 L421.09 78.95 L421.4 78.86 L421.7 78.77 L422.01 78.69 L422.32 78.6 L422.62 78.5 L422.93 78.41 L423.24 78.32 L423.55 78.22 L423.85 78.12 L424.16 78.03 L424.47 77.93 L424.77 77.82 L425.08 77.72 L425.39 77.62 L425.69 77.51 L426 77.4 L426.31 77.29 L426.62 77.18 L426.92 77.06 L427.23 76.95 L427.54 76.83 L427.84 76.71 L428.15 76.59 L428.46 76.46 L428.77 76.33 L429.07 76.21 L429.38 76.07 L429.69 75.94 L429.99 75.81 L430.3 75.67 L430.61 75.53 L430.91 75.38 L431.22 75.24 L431.53 75.09 L431.84 74.94 L432.14 74.78 L432.45 74.63 L432.76 74.47 L433.06 74.3 L433.37 74.14 L433.68 73.97 L433.98 73.8 L434.29 73.62 L434.6 73.44 L434.91 73.26 L435.21 73.07 L435.52 72.88 L435.83 72.69 L436.13 72.49 L436.44 72.29 L436.75 72.08 L437.05 71.87 L437.36 71.66 L437.67 71.44 L437.98 71.22 L438.28 70.99 L438.59 70.76 L438.9 70.52 L439.2 70.28 L439.51 70.03 L439.82 69.78 L440.13 69.52 L440.43 69.26 L440.74 68.99 L441.05 68.72 L441.35 68.44 L441.66 68.15 L441.97 67.86 L442.27 67.56 L442.58 67.25 L442.89 66.94 L443.2 66.62 L443.5 66.29 L443.81 65.96 L444.12 65.62 L444.42 65.27 L444.73 64.91 L445.04 64.55 L445.34 64.18 L445.65 63.79 L445.96 63.4 L446.27 63.01 L446.57 62.6 L446.88 62.18 L447.19 61.76 L447.49 61.32 L447.8 60.88 L448.11 60.42 L448.41 59.95 L448.72 59.48 L449.03 58.99 L449.34 58.49 L449.64 57.98 L449.95 57.46 L450.26 56.93 L450.56 56.39 L450.87 55.83 L451.18 55.27 L451.48 54.69 L451.79 54.1 L452.1 53.49 L452.41 52.88 L452.71 52.25 L453.02 51.6 L453.33 50.95 L453.63 50.28 L453.94 49.6 L454.25 48.91 L454.56 48.2 L454.86 47.48 L455.17 46.75 L455.48 46 L455.78 45.25 L456.09 44.48 L456.4 43.7 L456.7 42.91 L457.01 42.11 L457.32 41.3 L457.63 40.48 L457.93 39.65 L458.24 38.81 L458.55 37.97 L458.85 37.12 L459.16 36.27 L459.47 35.42 L459.77 34.56 L460.08 33.7 L460.39 32.85 L460.7 32 L461 31.16 L461.31 30.32 L461.62 29.5 L461.92 28.68 L462.23 27.88 L462.54 27.1 L462.84 26.34 L463.15 25.61 L463.46 24.89 L463.77 24.21 L464.07 23.56 L464.38 22.94 L464.69 22.36 L464.99 21.81 L465.3 21.31 L465.61 20.86 L465.92 20.44 L466.22 20.08 L466.53 19.76 L466.84 19.5 L467.14 19.28 L467.45 19.12 L467.76 19.01 L468.06 18.95 L468.37 18.95 L468.68 18.99 L468.99 19.09 L469.29 19.23 L469.6 19.42 L469.91 19.66 L470.21 19.94 L470.52 20.26 L470.83 20.62 L471.13 21.01 L471.44 21.44 L471.75 21.9 L472.06 22.39 L472.36 22.9 L472.67 23.43 L472.98 23.98 L473.28 24.55 L473.59 25.14 L473.9 25.73 L474.2 26.34 L474.51 26.95 L474.82 27.57 L475.13 28.2 L475.43 28.82 L475.74 29.44 L476.05 30.07 L476.35 30.69 L476.66 31.31 L476.97 31.92 L477.27 32.52 L477.58 33.12 L477.89 33.72 L478.2 34.3 L478.5 34.88 L478.81 35.44 L479.12 36 L479.42 36.55 L479.73 37.09 L480.04 37.61 L480.35 38.13 L480.65 38.64 L480.96 39.13 L481.27 39.62 L481.57 40.1 L481.88 40.56 L482.19 41.02 L482.49 41.46 L482.8 41.9 L483.11 42.32 L483.42 42.74 L483.72 43.14 L484.03 43.54 L484.34 43.93 L484.64 44.3 L484.95 44.67 L485.26 45.03 L485.56 45.39 L485.87 45.73 L486.18 46.07 L486.49 46.4 L486.79 46.72 L487.1 47.03 L487.41 47.34 L487.71 47.64 L488.02 47.93 L488.33 48.22 L488.63 48.5 L488.94 48.77 L489.25 49.04 L489.56 49.3 L489.86 49.56 L490.17 49.81 L490.48 50.05 L490.78 50.29 L491.09 50.53 L491.4 50.76 L491.71 50.98 L492.01 51.2 L492.32 51.42 L492.63 51.63 L492.93 51.83 L493.24 52.04 L493.55 52.24 L493.85 52.43 L494.16 52.62 L494.47 52.81 L494.78 52.99 L495.08 53.17 L495.39 53.35 L495.7 53.52 L496 53.69 L496.31 53.85 L496.62 54.02 L496.92 54.18 L497.23 54.33 L497.54 54.49 L497.85 54.64 L498.15 54.79 L498.46 54.93 L498.77 55.08 L499.07 55.22 L499.38 55.35 L499.69 55.49 L499.99 55.62 L500.3 55.75 L500.61 55.88 L500.92 56.01 L501.22 56.13 L501.53 56.26 L501.84 56.38 L502.14 56.49 L502.45 56.61 L502.76 56.72 L503.06 56.84 L503.37 56.95 L503.68 57.06 L503.99 57.16 L504.29 57.27 L504.6 57.37" stroke="#000" stroke-width="1.8" fill="none" stroke-linejoin="round"/>
<line x1="463.5" y1="19.2" x2="421.5" y2="19.2" stroke="#000" stroke-width="1.3"/>
<path d="M416.5 19.2 L422 17.4 L422 21Z" stroke="none" stroke-width="0" fill="#000"/>
<text x="416.2" y="29.6" font-size="9.6" text-anchor="start" fill="#000" stroke="#000">CNP shift</text>
<line x1="462.4" y1="38.9" x2="466.14" y2="29.33" stroke="#000" stroke-width="0.9"/>
<path d="M467.6 25.6 L467.27 30.3 L464.66 29.28Z" stroke="none" stroke-width="0" fill="#000"/>
<line x1="479.5" y1="26.8" x2="487.28" y2="37.74" stroke="#000" stroke-width="0.9"/>
<path d="M489.6 41 L485.85 38.14 L488.13 36.52Z" stroke="none" stroke-width="0" fill="#000"/>
<circle cx="468.5" cy="19.6" r="2.2" fill="#ffff00" stroke="#555" stroke-width="0.5"/>
<circle cx="458.4" cy="37.9" r="2.2" fill="#00ffff" stroke="#555" stroke-width="0.5"/>
<circle cx="481.6" cy="38.2" r="2.2" fill="#008000" stroke="#333" stroke-width="0.5"/>
<circle cx="498.5" cy="55" r="2.2" fill="#ff8000" stroke="#555" stroke-width="0.5"/>
<text x="377.2" y="130.2" font-size="9.6" text-anchor="start" fill="#000" stroke="#000">V<tspan font-size="5.95" dy="3.36">BG</tspan><tspan dy="-3.36"> = 0 V</tspan></text>
<line x1="547.17" y1="11.5" x2="547.17" y2="134.7" stroke="#a2a2a2" stroke-width="0.9"/>
<line x1="564.55" y1="11.5" x2="564.55" y2="134.7" stroke="#a2a2a2" stroke-width="0.9"/>
<line x1="581.92" y1="11.5" x2="581.92" y2="134.7" stroke="#a2a2a2" stroke-width="0.9"/>
<line x1="599.3" y1="11.5" x2="599.3" y2="134.7" stroke="#a2a2a2" stroke-width="0.9"/>
<line x1="616.67" y1="11.5" x2="616.67" y2="134.7" stroke="#a2a2a2" stroke-width="0.9"/>
<line x1="634.05" y1="11.5" x2="634.05" y2="134.7" stroke="#a2a2a2" stroke-width="0.9"/>
<line x1="651.42" y1="11.5" x2="651.42" y2="134.7" stroke="#a2a2a2" stroke-width="0.9"/>
<line x1="529.8" y1="116.1" x2="668.8" y2="116.1" stroke="#a2a2a2" stroke-width="0.9"/>
<line x1="529.8" y1="78.65" x2="668.8" y2="78.65" stroke="#a2a2a2" stroke-width="0.9"/>
<line x1="529.8" y1="41.2" x2="668.8" y2="41.2" stroke="#a2a2a2" stroke-width="0.9"/>
<line x1="529.8" y1="134.7" x2="529.8" y2="138.9" stroke="#1a1a1a" stroke-width="1.2"/>
<line x1="529.8" y1="11.5" x2="529.8" y2="15.7" stroke="#1a1a1a" stroke-width="1.2"/>
<line x1="547.17" y1="134.7" x2="547.17" y2="138.9" stroke="#1a1a1a" stroke-width="1.2"/>
<line x1="547.17" y1="11.5" x2="547.17" y2="15.7" stroke="#1a1a1a" stroke-width="1.2"/>
<line x1="564.55" y1="134.7" x2="564.55" y2="138.9" stroke="#1a1a1a" stroke-width="1.2"/>
<line x1="564.55" y1="11.5" x2="564.55" y2="15.7" stroke="#1a1a1a" stroke-width="1.2"/>
<line x1="581.92" y1="134.7" x2="581.92" y2="138.9" stroke="#1a1a1a" stroke-width="1.2"/>
<line x1="581.92" y1="11.5" x2="581.92" y2="15.7" stroke="#1a1a1a" stroke-width="1.2"/>
<line x1="599.3" y1="134.7" x2="599.3" y2="138.9" stroke="#1a1a1a" stroke-width="1.2"/>
<line x1="599.3" y1="11.5" x2="599.3" y2="15.7" stroke="#1a1a1a" stroke-width="1.2"/>
<line x1="616.67" y1="134.7" x2="616.67" y2="138.9" stroke="#1a1a1a" stroke-width="1.2"/>
<line x1="616.67" y1="11.5" x2="616.67" y2="15.7" stroke="#1a1a1a" stroke-width="1.2"/>
<line x1="634.05" y1="134.7" x2="634.05" y2="138.9" stroke="#1a1a1a" stroke-width="1.2"/>
<line x1="634.05" y1="11.5" x2="634.05" y2="15.7" stroke="#1a1a1a" stroke-width="1.2"/>
<line x1="651.42" y1="134.7" x2="651.42" y2="138.9" stroke="#1a1a1a" stroke-width="1.2"/>
<line x1="651.42" y1="11.5" x2="651.42" y2="15.7" stroke="#1a1a1a" stroke-width="1.2"/>
<line x1="668.8" y1="134.7" x2="668.8" y2="138.9" stroke="#1a1a1a" stroke-width="1.2"/>
<line x1="668.8" y1="11.5" x2="668.8" y2="15.7" stroke="#1a1a1a" stroke-width="1.2"/>
<line x1="538.49" y1="134.7" x2="538.49" y2="137.1" stroke="#1a1a1a" stroke-width="1.2"/>
<line x1="538.49" y1="11.5" x2="538.49" y2="13.9" stroke="#1a1a1a" stroke-width="1.2"/>
<line x1="555.86" y1="134.7" x2="555.86" y2="137.1" stroke="#1a1a1a" stroke-width="1.2"/>
<line x1="555.86" y1="11.5" x2="555.86" y2="13.9" stroke="#1a1a1a" stroke-width="1.2"/>
<line x1="573.24" y1="134.7" x2="573.24" y2="137.1" stroke="#1a1a1a" stroke-width="1.2"/>
<line x1="573.24" y1="11.5" x2="573.24" y2="13.9" stroke="#1a1a1a" stroke-width="1.2"/>
<line x1="590.61" y1="134.7" x2="590.61" y2="137.1" stroke="#1a1a1a" stroke-width="1.2"/>
<line x1="590.61" y1="11.5" x2="590.61" y2="13.9" stroke="#1a1a1a" stroke-width="1.2"/>
<line x1="607.99" y1="134.7" x2="607.99" y2="137.1" stroke="#1a1a1a" stroke-width="1.2"/>
<line x1="607.99" y1="11.5" x2="607.99" y2="13.9" stroke="#1a1a1a" stroke-width="1.2"/>
<line x1="625.36" y1="134.7" x2="625.36" y2="137.1" stroke="#1a1a1a" stroke-width="1.2"/>
<line x1="625.36" y1="11.5" x2="625.36" y2="13.9" stroke="#1a1a1a" stroke-width="1.2"/>
<line x1="642.74" y1="134.7" x2="642.74" y2="137.1" stroke="#1a1a1a" stroke-width="1.2"/>
<line x1="642.74" y1="11.5" x2="642.74" y2="13.9" stroke="#1a1a1a" stroke-width="1.2"/>
<line x1="660.11" y1="134.7" x2="660.11" y2="137.1" stroke="#1a1a1a" stroke-width="1.2"/>
<line x1="660.11" y1="11.5" x2="660.11" y2="13.9" stroke="#1a1a1a" stroke-width="1.2"/>
<line x1="525.6" y1="116.1" x2="529.8" y2="116.1" stroke="#1a1a1a" stroke-width="1.2"/>
<line x1="664.6" y1="116.1" x2="668.8" y2="116.1" stroke="#1a1a1a" stroke-width="1.2"/>
<line x1="525.6" y1="78.65" x2="529.8" y2="78.65" stroke="#1a1a1a" stroke-width="1.2"/>
<line x1="664.6" y1="78.65" x2="668.8" y2="78.65" stroke="#1a1a1a" stroke-width="1.2"/>
<line x1="525.6" y1="41.2" x2="529.8" y2="41.2" stroke="#1a1a1a" stroke-width="1.2"/>
<line x1="664.6" y1="41.2" x2="668.8" y2="41.2" stroke="#1a1a1a" stroke-width="1.2"/>
<line x1="527.4" y1="97.38" x2="529.8" y2="97.38" stroke="#1a1a1a" stroke-width="1.2"/>
<line x1="666.4" y1="97.38" x2="668.8" y2="97.38" stroke="#1a1a1a" stroke-width="1.2"/>
<line x1="527.4" y1="59.93" x2="529.8" y2="59.93" stroke="#1a1a1a" stroke-width="1.2"/>
<line x1="666.4" y1="59.93" x2="668.8" y2="59.93" stroke="#1a1a1a" stroke-width="1.2"/>
<line x1="527.4" y1="22.48" x2="529.8" y2="22.48" stroke="#1a1a1a" stroke-width="1.2"/>
<line x1="666.4" y1="22.48" x2="668.8" y2="22.48" stroke="#1a1a1a" stroke-width="1.2"/>
<rect x="529.8" y="11.5" width="139" height="123.2" fill="none" stroke="#1a1a1a" stroke-width="1.2"/>
<text x="529.8" y="147.8" font-size="8.3" text-anchor="middle" fill="#000" stroke="#000">-80</text>
<text x="547.17" y="147.8" font-size="8.3" text-anchor="middle" fill="#000" stroke="#000">-60</text>
<text x="564.55" y="147.8" font-size="8.3" text-anchor="middle" fill="#000" stroke="#000">-40</text>
<text x="581.92" y="147.8" font-size="8.3" text-anchor="middle" fill="#000" stroke="#000">-20</text>
<text x="599.3" y="147.8" font-size="8.3" text-anchor="middle" fill="#000" stroke="#000">0</text>
<text x="616.67" y="147.8" font-size="8.3" text-anchor="middle" fill="#000" stroke="#000">20</text>
<text x="634.05" y="147.8" font-size="8.3" text-anchor="middle" fill="#000" stroke="#000">40</text>
<text x="651.42" y="147.8" font-size="8.3" text-anchor="middle" fill="#000" stroke="#000">60</text>
<text x="668.8" y="147.8" font-size="8.3" text-anchor="middle" fill="#000" stroke="#000">80</text>
<text x="524.7" y="118.7" font-size="8.3" text-anchor="end" fill="#000" stroke="#000">2</text>
<text x="524.7" y="81.25" font-size="8.3" text-anchor="end" fill="#000" stroke="#000">3</text>
<text x="524.7" y="43.8" font-size="8.3" text-anchor="end" fill="#000" stroke="#000">4</text>
<text x="516.5" y="8.8" font-size="9.8" text-anchor="start" fill="#000" stroke="#000">(d)</text>
<text x="516.6" y="72.2" font-size="10.2" text-anchor="middle" fill="#000" stroke="#000" transform="rotate(-90 516.6 72.2)">Resistivity (k&#937;)</text>
<text x="585.6" y="160.4" font-size="10" text-anchor="start" fill="#000" stroke="#000">V<tspan font-size="6.2" dy="3.5">BG</tspan><tspan dy="-3.5"> (V)</tspan></text>
<path d="M529.8 119.19 L530.26 119.09 L530.73 119 L531.19 118.9 L531.66 118.81 L532.12 118.71 L532.59 118.61 L533.05 118.51 L533.52 118.41 L533.98 118.3 L534.45 118.2 L534.91 118.09 L535.38 117.99 L535.84 117.88 L536.31 117.77 L536.77 117.65 L537.24 117.54 L537.7 117.42 L538.17 117.31 L538.63 117.19 L539.1 117.07 L539.56 116.95 L540.03 116.82 L540.49 116.7 L540.96 116.57 L541.42 116.44 L541.89 116.31 L542.35 116.17 L542.82 116.04 L543.28 115.9 L543.75 115.76 L544.21 115.62 L544.68 115.48 L545.14 115.33 L545.61 115.18 L546.07 115.03 L546.54 114.88 L547 114.72 L547.47 114.56 L547.93 114.4 L548.4 114.24 L548.86 114.07 L549.33 113.91 L549.79 113.73 L550.25 113.56 L550.72 113.38 L551.18 113.2 L551.65 113.02 L552.11 112.83 L552.58 112.64 L553.04 112.45 L553.51 112.25 L553.97 112.05 L554.44 111.85 L554.9 111.64 L555.37 111.43 L555.83 111.22 L556.3 111 L556.76 110.78 L557.23 110.55 L557.69 110.32 L558.16 110.09 L558.62 109.85 L559.09 109.61 L559.55 109.36 L560.02 109.11 L560.48 108.85 L560.95 108.59 L561.41 108.32 L561.88 108.05 L562.34 107.77 L562.81 107.49 L563.27 107.2 L563.74 106.91 L564.2 106.61 L564.67 106.31 L565.13 105.99 L565.6 105.68 L566.06 105.35 L566.53 105.02 L566.99 104.68 L567.46 104.34 L567.92 103.99 L568.39 103.63 L568.85 103.26 L569.32 102.89 L569.78 102.51 L570.24 102.12 L570.71 101.72 L571.17 101.31 L571.64 100.9 L572.1 100.47 L572.57 100.04 L573.03 99.6 L573.5 99.15 L573.96 98.69 L574.43 98.21 L574.89 97.73 L575.36 97.24 L575.82 96.74 L576.29 96.22 L576.75 95.69 L577.22 95.16 L577.68 94.61 L578.15 94.04 L578.61 93.47 L579.08 92.88 L579.54 92.28 L580.01 91.67 L580.47 91.04 L580.94 90.4 L581.4 89.74 L581.87 89.07 L582.33 88.38 L582.8 87.68 L583.26 86.96 L583.73 86.23 L584.19 85.47 L584.66 84.71 L585.12 83.92 L585.59 83.12 L586.05 82.3 L586.52 81.46 L586.98 80.6 L587.45 79.73 L587.91 78.84 L588.38 77.92 L588.84 76.99 L589.31 76.04 L589.77 75.06 L590.23 74.07 L590.7 73.06 L591.16 72.03 L591.63 70.97 L592.09 69.9 L592.56 68.8 L593.02 67.69 L593.49 66.56 L593.95 65.4 L594.42 64.23 L594.88 63.04 L595.35 61.82 L595.81 60.6 L596.28 59.35 L596.74 58.09 L597.21 56.81 L597.67 55.51 L598.14 54.21 L598.6 52.89 L599.07 51.56 L599.53 50.22 L600 48.88 L600.46 47.53 L600.93 46.18 L601.39 44.83 L601.86 43.49 L602.32 42.15 L602.79 40.82 L603.25 39.5 L603.72 38.2 L604.18 36.91 L604.65 35.66 L605.11 34.42 L605.58 33.23 L606.04 32.06 L606.51 30.94 L606.97 29.86 L607.44 28.83 L607.9 27.86 L608.37 26.94 L608.83 26.09 L609.29 25.3 L609.76 24.57 L610.22 23.92 L610.69 23.35 L611.15 22.85 L611.62 22.43 L612.08 22.1 L612.55 21.84 L613.01 21.67 L613.48 21.57 L613.94 21.57 L614.41 21.64 L614.87 21.79 L615.34 22.01 L615.8 22.31 L616.27 22.69 L616.73 23.13 L617.2 23.63 L617.66 24.2 L618.13 24.82 L618.59 25.5 L619.06 26.22 L619.52 26.99 L619.99 27.79 L620.45 28.63 L620.92 29.5 L621.38 30.4 L621.85 31.33 L622.31 32.27 L622.78 33.22 L623.24 34.19 L623.71 35.16 L624.17 36.15 L624.64 37.13 L625.1 38.12 L625.57 39.1 L626.03 40.08 L626.5 41.05 L626.96 42.02 L627.43 42.97 L627.89 43.92 L628.36 44.85 L628.82 45.77 L629.28 46.68 L629.75 47.58 L630.21 48.45 L630.68 49.32 L631.14 50.17 L631.61 51 L632.07 51.81 L632.54 52.61 L633 53.39 L633.47 54.16 L633.93 54.91 L634.4 55.64 L634.86 56.36 L635.33 57.06 L635.79 57.75 L636.26 58.42 L636.72 59.07 L637.19 59.71 L637.65 60.34 L638.12 60.95 L638.58 61.55 L639.05 62.13 L639.51 62.7 L639.98 63.26 L640.44 63.8 L640.91 64.33 L641.37 64.85 L641.84 65.36 L642.3 65.85 L642.77 66.33 L643.23 66.81 L643.7 67.27 L644.16 67.72 L644.63 68.16 L645.09 68.59 L645.56 69.02 L646.02 69.43 L646.49 69.83 L646.95 70.23 L647.42 70.61 L647.88 70.99 L648.35 71.36 L648.81 71.72 L649.27 72.08 L649.74 72.42 L650.2 72.76 L650.67 73.1 L651.13 73.42 L651.6 73.74 L652.06 74.05 L652.53 74.36 L652.99 74.66 L653.46 74.96 L653.92 75.24 L654.39 75.53 L654.85 75.8 L655.32 76.08 L655.78 76.34 L656.25 76.61 L656.71 76.86 L657.18 77.11 L657.64 77.36 L658.11 77.6 L658.57 77.84 L659.04 78.08 L659.5 78.31 L659.97 78.53 L660.43 78.75 L660.9 78.97 L661.36 79.19 L661.83 79.4 L662.29 79.6 L662.76 79.81 L663.22 80.01 L663.69 80.2 L664.15 80.39 L664.62 80.58 L665.08 80.77 L665.55 80.95 L666.01 81.13 L666.48 81.31 L666.94 81.48 L667.41 81.66 L667.87 81.83 L668.34 81.99 L668.8 82.15" stroke="#858585" stroke-width="1.45" fill="none" stroke-linejoin="round"/>
<path d="M529.8 120.3 L530.5 120.45 L531.2 120.59 L531.9 120.73 L532.59 120.87 L533.29 121.01 L533.99 121.15 L534.69 121.29 L535.39 121.42 L536.09 121.55 L536.78 121.69 L537.48 121.82 L538.18 121.95 L538.88 122.07 L539.58 122.2 L540.28 122.32 L540.98 122.44 L541.67 122.56 L542.37 122.68 L543.07 122.79 L543.77 122.9 L544.47 123.02 L545.17 123.12 L545.87 123.23 L546.56 123.34 L547.26 123.44 L547.96 123.54 L548.66 123.64 L549.36 123.73 L550.06 123.83 L550.75 123.92 L551.45 124.01 L552.15 124.1 L552.85 124.19 L553.55 124.27 L554.25 124.36 L554.95 124.44 L555.64 124.52 L556.34 124.61 L557.04 124.69 L557.74 124.77 L558.44 124.85 L559.14 124.93 L559.84 125.01 L560.53 125.09 L561.23 125.17 L561.93 125.25 L562.63 125.33 L563.33 125.41 L564.03 125.49 L564.72 125.57 L565.42 125.65 L566.12 125.73 L566.82 125.81 L567.52 125.89 L568.22 125.98 L568.92 126.06 L569.61 126.14 L570.31 126.22 L571.01 126.31 L571.71 126.39 L572.41 126.47 L573.11 126.55 L573.81 126.63 L574.5 126.71 L575.2 126.79 L575.9 126.87 L576.6 126.95 L577.3 127.03 L578 127.1 L578.69 127.18 L579.39 127.25 L580.09 127.32 L580.79 127.39 L581.49 127.46 L582.19 127.53 L582.89 127.6 L583.58 127.66 L584.28 127.73 L584.98 127.79 L585.68 127.85 L586.38 127.91 L587.08 127.97 L587.77 128.03 L588.47 128.09 L589.17 128.15 L589.87 128.2 L590.57 128.26 L591.27 128.32 L591.97 128.37 L592.66 128.43 L593.36 128.48 L594.06 128.53 L594.76 128.59 L595.46 128.64 L596.16 128.69 L596.86 128.74 L597.55 128.79 L598.25 128.84 L598.95 128.89 L599.65 128.94 L600.35 128.99 L601.05 129.04 L601.74 129.09 L602.44 129.13 L603.14 129.18 L603.84 129.23 L604.54 129.28 L605.24 129.32 L605.94 129.37 L606.63 129.41 L607.33 129.46 L608.03 129.5 L608.73 129.55 L609.43 129.59 L610.13 129.63 L610.83 129.68 L611.52 129.72 L612.22 129.76 L612.92 129.8 L613.62 129.85 L614.32 129.89 L615.02 129.93 L615.71 129.97 L616.41 130.01 L617.11 130.05 L617.81 130.09 L618.51 130.13 L619.21 130.16 L619.91 130.2 L620.6 130.24 L621.3 130.28 L622 130.32 L622.7 130.35 L623.4 130.39 L624.1 130.43 L624.79 130.46 L625.49 130.5 L626.19 130.53 L626.89 130.57 L627.59 130.61 L628.29 130.64 L628.99 130.67 L629.68 130.71 L630.38 130.74 L631.08 130.78 L631.78 130.81 L632.48 130.84 L633.18 130.88 L633.88 130.91 L634.57 130.94 L635.27 130.97 L635.97 131 L636.67 131.04 L637.37 131.07 L638.07 131.1 L638.76 131.13 L639.46 131.16 L640.16 131.19 L640.86 131.22 L641.56 131.25 L642.26 131.28 L642.96 131.31 L643.65 131.34 L644.35 131.37 L645.05 131.4 L645.75 131.43 L646.45 131.46 L647.15 131.48 L647.85 131.51 L648.54 131.54 L649.24 131.57 L649.94 131.6 L650.64 131.63 L651.34 131.65 L652.04 131.68 L652.73 131.71 L653.43 131.74 L654.13 131.76 L654.83 131.79 L655.53 131.82 L656.23 131.84 L656.93 131.87 L657.62 131.9 L658.32 131.92 L659.02 131.95 L659.72 131.98 L660.42 132 L661.12 132.03 L661.82 132.05 L662.51 132.08 L663.21 132.1 L663.91 132.13 L664.61 132.15 L665.31 132.18 L666.01 132.2 L666.7 132.23 L667.4 132.25 L668.1 132.28 L668.8 132.3" stroke="#ff0000" stroke-width="2.6" fill="none" stroke-linejoin="round"/>
<path d="M529.8 70 L530.08 69.74 L530.36 69.48 L530.64 69.23 L530.91 68.97 L531.19 68.72 L531.47 68.46 L531.75 68.21 L532.03 67.96 L532.31 67.71 L532.59 67.46 L532.86 67.22 L533.14 66.97 L533.42 66.73 L533.7 66.49 L533.98 66.24 L534.26 66 L534.54 65.76 L534.81 65.53 L535.09 65.29 L535.37 65.06 L535.65 64.83 L535.93 64.6 L536.21 64.38 L536.49 64.17 L536.76 63.95 L537.04 63.74 L537.32 63.53 L537.6 63.31 L537.88 63.1 L538.16 62.89 L538.44 62.67 L538.71 62.45 L538.99 62.23 L539.27 62 L539.55 61.76 L539.83 61.52 L540.11 61.28 L540.39 61.02 L540.66 60.77 L540.94 60.51 L541.22 60.26 L541.5 60.01 L541.78 59.75 L542.06 59.49 L542.34 59.22 L542.61 58.95 L542.89 58.67 L543.17 58.39 L543.45 58.09 L543.73 57.78 L544.01 57.45 L544.28 57.12 L544.56 56.76 L544.84 56.4 L545.12 56.01 L545.4 55.6 L545.68 55.16 L545.96 54.65 L546.23 54.1 L546.51 53.51 L546.79 52.88 L547.07 52.21 L547.35 51.52 L547.63 50.8 L547.91 50.07 L548.18 49.33 L548.46 48.58 L548.74 47.83 L549.02 47.09 L549.3 46.36 L549.58 45.64 L549.86 44.95 L550.13 44.27 L550.41 43.58 L550.69 42.88 L550.97 42.16 L551.25 41.43 L551.53 40.7 L551.81 39.98 L552.08 39.27 L552.36 38.58 L552.64 37.91 L552.92 37.26 L553.2 36.66 L553.48 36.09 L553.76 35.58 L554.03 35.09 L554.31 34.6 L554.59 34.11 L554.87 33.62 L555.15 33.15 L555.43 32.69 L555.71 32.25 L555.98 31.84 L556.26 31.46 L556.54 31.12 L556.82 30.82 L557.1 30.57 L557.38 30.36 L557.66 30.22 L557.93 30.11 L558.21 30.01 L558.49 29.92 L558.77 29.84 L559.05 29.77 L559.33 29.7 L559.61 29.65 L559.88 29.62 L560.16 29.6 L560.44 29.61 L560.72 29.73 L561 29.93 L561.28 30.23 L561.56 30.59 L561.83 31.01 L562.11 31.47 L562.39 31.96 L562.67 32.46 L562.95 32.99 L563.23 33.66 L563.51 34.47 L563.78 35.38 L564.06 36.39 L564.34 37.46 L564.62 38.57 L564.9 39.7 L565.18 40.82 L565.46 41.92 L565.73 43.03 L566.01 44.18 L566.29 45.37 L566.57 46.59 L566.85 47.84 L567.13 49.11 L567.41 50.4 L567.68 51.7 L567.96 53.02 L568.24 54.37 L568.52 55.79 L568.8 57.26 L569.08 58.75 L569.36 60.25 L569.63 61.73 L569.91 63.17 L570.19 64.56 L570.47 65.86 L570.75 67.09 L571.03 68.28 L571.31 69.44 L571.58 70.56 L571.86 71.66 L572.14 72.73 L572.42 73.78 L572.7 74.82 L572.98 75.85 L573.25 76.87 L573.53 77.89 L573.81 78.92 L574.09 79.95 L574.37 80.97 L574.65 81.97 L574.93 82.97 L575.2 83.93 L575.48 84.88 L575.76 85.79 L576.04 86.67 L576.32 87.5 L576.6 88.3 L576.88 89.04 L577.15 89.74 L577.43 90.43 L577.71 91.1 L577.99 91.75 L578.27 92.38 L578.55 92.99 L578.83 93.59 L579.1 94.18 L579.38 94.74 L579.66 95.3 L579.94 95.83 L580.22 96.36 L580.5 96.87 L580.78 97.36 L581.05 97.85 L581.33 98.32 L581.61 98.78 L581.89 99.23 L582.17 99.66 L582.45 100.09 L582.73 100.5 L583 100.9 L583.28 101.29 L583.56 101.68 L583.84 102.05 L584.12 102.41 L584.4 102.77 L584.68 103.12 L584.95 103.47 L585.23 103.81 L585.51 104.14 L585.79 104.48 L586.07 104.8 L586.35 105.13 L586.63 105.45 L586.9 105.78 L587.18 106.1 L587.46 106.42 L587.74 106.75 L588.02 107.07 L588.3 107.4 L588.58 107.73 L588.85 108.07 L589.13 108.4 L589.41 108.75 L589.69 109.09 L589.97 109.44 L590.25 109.78 L590.53 110.13 L590.8 110.48 L591.08 110.83 L591.36 111.18 L591.64 111.53 L591.92 111.87 L592.2 112.21 L592.48 112.55 L592.75 112.88 L593.03 113.21 L593.31 113.54 L593.59 113.86 L593.87 114.17 L594.15 114.48 L594.43 114.78 L594.7 115.07 L594.98 115.35 L595.26 115.62 L595.54 115.89 L595.82 116.14 L596.1 116.38 L596.38 116.62 L596.65 116.85 L596.93 117.08 L597.21 117.31 L597.49 117.53 L597.77 117.75 L598.05 117.97 L598.33 118.18 L598.6 118.39 L598.88 118.6 L599.16 118.8 L599.44 119 L599.72 119.2 L600 119.39 L600.27 119.58 L600.55 119.77 L600.83 119.96 L601.11 120.14 L601.39 120.32 L601.67 120.5 L601.95 120.68 L602.22 120.85 L602.5 121.02 L602.78 121.19 L603.06 121.36 L603.34 121.52 L603.62 121.69 L603.9 121.85 L604.17 122.01 L604.45 122.17 L604.73 122.32 L605.01 122.48 L605.29 122.63 L605.57 122.78 L605.85 122.93 L606.12 123.08 L606.4 123.23 L606.68 123.38 L606.96 123.53 L607.24 123.68 L607.52 123.83 L607.8 123.98 L608.07 124.12 L608.35 124.27 L608.63 124.41 L608.91 124.55 L609.19 124.69 L609.47 124.83 L609.75 124.97 L610.02 125.1 L610.3 125.24 L610.58 125.37 L610.86 125.5 L611.14 125.62 L611.42 125.75 L611.7 125.87 L611.97 125.99 L612.25 126.1 L612.53 126.22 L612.81 126.33 L613.09 126.43 L613.37 126.54 L613.65 126.64 L613.92 126.73 L614.2 126.83 L614.48 126.92 L614.76 127 L615.04 127.08 L615.32 127.16 L615.6 127.24 L615.87 127.31 L616.15 127.39 L616.43 127.46 L616.71 127.53 L616.99 127.6 L617.27 127.67 L617.55 127.74 L617.82 127.81 L618.1 127.88 L618.38 127.94 L618.66 128.01 L618.94 128.07 L619.22 128.13 L619.5 128.19 L619.77 128.25 L620.05 128.31 L620.33 128.37 L620.61 128.43 L620.89 128.48 L621.17 128.54 L621.45 128.59 L621.72 128.64 L622 128.7 L622.28 128.75 L622.56 128.8 L622.84 128.85 L623.12 128.9 L623.4 128.94 L623.67 128.99 L623.95 129.04 L624.23 129.08 L624.51 129.13 L624.79 129.17 L625.07 129.21 L625.35 129.25 L625.62 129.3 L625.9 129.34 L626.18 129.37 L626.46 129.41 L626.74 129.45 L627.02 129.49 L627.29 129.53 L627.57 129.56 L627.85 129.6 L628.13 129.63 L628.41 129.67 L628.69 129.7 L628.97 129.74 L629.24 129.77 L629.52 129.81 L629.8 129.84 L630.08 129.87 L630.36 129.91 L630.64 129.94 L630.92 129.97 L631.19 130 L631.47 130.04 L631.75 130.07 L632.03 130.1 L632.31 130.13 L632.59 130.16 L632.87 130.19 L633.14 130.22 L633.42 130.25 L633.7 130.28 L633.98 130.31 L634.26 130.34 L634.54 130.36 L634.82 130.39 L635.09 130.42 L635.37 130.45 L635.65 130.47 L635.93 130.5 L636.21 130.53 L636.49 130.55 L636.77 130.58 L637.04 130.6 L637.32 130.63 L637.6 130.65 L637.88 130.68 L638.16 130.7 L638.44 130.73 L638.72 130.75 L638.99 130.77 L639.27 130.8 L639.55 130.82 L639.83 130.84 L640.11 130.86 L640.39 130.89 L640.67 130.91 L640.94 130.93 L641.22 130.95 L641.5 130.97 L641.78 130.99 L642.06 131.01 L642.34 131.03 L642.62 131.05 L642.89 131.07 L643.17 131.09 L643.45 131.1 L643.73 131.12 L644.01 131.14 L644.29 131.16 L644.57 131.17 L644.84 131.19 L645.12 131.21 L645.4 131.22 L645.68 131.24 L645.96 131.26 L646.24 131.27 L646.52 131.29 L646.79 131.31 L647.07 131.32 L647.35 131.34 L647.63 131.35 L647.91 131.37 L648.19 131.39 L648.47 131.4 L648.74 131.42 L649.02 131.43 L649.3 131.45 L649.58 131.47 L649.86 131.48 L650.14 131.5 L650.42 131.51 L650.69 131.53 L650.97 131.54 L651.25 131.56 L651.53 131.57 L651.81 131.59 L652.09 131.6 L652.37 131.62 L652.64 131.63 L652.92 131.65 L653.2 131.66 L653.48 131.68 L653.76 131.69 L654.04 131.7 L654.32 131.72 L654.59 131.73 L654.87 131.75 L655.15 131.76 L655.43 131.77 L655.71 131.79 L655.99 131.8 L656.26 131.81 L656.54 131.83 L656.82 131.84 L657.1 131.85 L657.38 131.86 L657.66 131.88 L657.94 131.89 L658.21 131.9 L658.49 131.91 L658.77 131.92 L659.05 131.93 L659.33 131.95 L659.61 131.96 L659.89 131.97 L660.16 131.98 L660.44 131.99 L660.72 132 L661 132.01 L661.28 132.02 L661.56 132.03 L661.84 132.04 L662.11 132.05 L662.39 132.06 L662.67 132.06 L662.95 132.07 L663.23 132.08 L663.51 132.09 L663.79 132.1 L664.06 132.11 L664.34 132.11 L664.62 132.12 L664.9 132.13 L665.18 132.13 L665.46 132.14 L665.74 132.15 L666.01 132.15 L666.29 132.16 L666.57 132.16 L666.85 132.17 L667.13 132.18 L667.41 132.18 L667.69 132.18 L667.96 132.19 L668.24 132.19 L668.52 132.2 L668.8 132.2" stroke="#000" stroke-width="2.8" fill="none" stroke-linejoin="round"/>
<text x="531.7" y="25.7" font-size="10" text-anchor="start" fill="#000" stroke="#000">Holes</text>
<text x="565.8" y="25.4" font-size="10" text-anchor="start" fill="#000" stroke="#000">Electrons</text>
<text x="564" y="57.3" font-size="9.5" text-anchor="middle" fill="#000" stroke="#000" transform="rotate(-90 564 57.3)">CNP</text>
<text x="584" y="98.4" font-size="9.8" text-anchor="start" fill="#000" stroke="#000">X-ray on</text>
<text x="549" y="120.8" font-size="9.9" text-anchor="start" fill="#ff0000" stroke="#ff0000">X-ray off</text>
<text x="615" y="17.5" font-size="9.8" text-anchor="start" fill="#777" stroke="#777" transform="rotate(51 615 17.5)">Before irradiation</text>
<line x1="34.44" y1="166.1" x2="34.44" y2="283.7" stroke="#a2a2a2" stroke-width="0.9"/>
<line x1="55.7" y1="166.1" x2="55.7" y2="283.7" stroke="#a2a2a2" stroke-width="0.9"/>
<line x1="76.95" y1="166.1" x2="76.95" y2="283.7" stroke="#a2a2a2" stroke-width="0.9"/>
<line x1="98.2" y1="166.1" x2="98.2" y2="283.7" stroke="#a2a2a2" stroke-width="0.9"/>
<line x1="119.45" y1="166.1" x2="119.45" y2="283.7" stroke="#a2a2a2" stroke-width="0.9"/>
<line x1="140.7" y1="166.1" x2="140.7" y2="283.7" stroke="#a2a2a2" stroke-width="0.9"/>
<line x1="161.96" y1="166.1" x2="161.96" y2="283.7" stroke="#a2a2a2" stroke-width="0.9"/>
<line x1="23.9" y1="271.88" x2="172.7" y2="271.88" stroke="#a2a2a2" stroke-width="0.9"/>
<line x1="23.9" y1="248.31" x2="172.7" y2="248.31" stroke="#a2a2a2" stroke-width="0.9"/>
<line x1="23.9" y1="224.74" x2="172.7" y2="224.74" stroke="#a2a2a2" stroke-width="0.9"/>
<line x1="23.9" y1="201.17" x2="172.7" y2="201.17" stroke="#a2a2a2" stroke-width="0.9"/>
<line x1="23.9" y1="177.6" x2="172.7" y2="177.6" stroke="#a2a2a2" stroke-width="0.9"/>
<line x1="34.44" y1="283.7" x2="34.44" y2="287.9" stroke="#1a1a1a" stroke-width="1.2"/>
<line x1="34.44" y1="166.1" x2="34.44" y2="170.3" stroke="#1a1a1a" stroke-width="1.2"/>
<line x1="55.7" y1="283.7" x2="55.7" y2="287.9" stroke="#1a1a1a" stroke-width="1.2"/>
<line x1="55.7" y1="166.1" x2="55.7" y2="170.3" stroke="#1a1a1a" stroke-width="1.2"/>
<line x1="76.95" y1="283.7" x2="76.95" y2="287.9" stroke="#1a1a1a" stroke-width="1.2"/>
<line x1="76.95" y1="166.1" x2="76.95" y2="170.3" stroke="#1a1a1a" stroke-width="1.2"/>
<line x1="98.2" y1="283.7" x2="98.2" y2="287.9" stroke="#1a1a1a" stroke-width="1.2"/>
<line x1="98.2" y1="166.1" x2="98.2" y2="170.3" stroke="#1a1a1a" stroke-width="1.2"/>
<line x1="119.45" y1="283.7" x2="119.45" y2="287.9" stroke="#1a1a1a" stroke-width="1.2"/>
<line x1="119.45" y1="166.1" x2="119.45" y2="170.3" stroke="#1a1a1a" stroke-width="1.2"/>
<line x1="140.7" y1="283.7" x2="140.7" y2="287.9" stroke="#1a1a1a" stroke-width="1.2"/>
<line x1="140.7" y1="166.1" x2="140.7" y2="170.3" stroke="#1a1a1a" stroke-width="1.2"/>
<line x1="161.96" y1="283.7" x2="161.96" y2="287.9" stroke="#1a1a1a" stroke-width="1.2"/>
<line x1="161.96" y1="166.1" x2="161.96" y2="170.3" stroke="#1a1a1a" stroke-width="1.2"/>
<line x1="23.82" y1="283.7" x2="23.82" y2="286.1" stroke="#1a1a1a" stroke-width="1.2"/>
<line x1="23.82" y1="166.1" x2="23.82" y2="168.5" stroke="#1a1a1a" stroke-width="1.2"/>
<line x1="45.07" y1="283.7" x2="45.07" y2="286.1" stroke="#1a1a1a" stroke-width="1.2"/>
<line x1="45.07" y1="166.1" x2="45.07" y2="168.5" stroke="#1a1a1a" stroke-width="1.2"/>
<line x1="66.32" y1="283.7" x2="66.32" y2="286.1" stroke="#1a1a1a" stroke-width="1.2"/>
<line x1="66.32" y1="166.1" x2="66.32" y2="168.5" stroke="#1a1a1a" stroke-width="1.2"/>
<line x1="87.57" y1="283.7" x2="87.57" y2="286.1" stroke="#1a1a1a" stroke-width="1.2"/>
<line x1="87.57" y1="166.1" x2="87.57" y2="168.5" stroke="#1a1a1a" stroke-width="1.2"/>
<line x1="108.83" y1="283.7" x2="108.83" y2="286.1" stroke="#1a1a1a" stroke-width="1.2"/>
<line x1="108.83" y1="166.1" x2="108.83" y2="168.5" stroke="#1a1a1a" stroke-width="1.2"/>
<line x1="130.08" y1="283.7" x2="130.08" y2="286.1" stroke="#1a1a1a" stroke-width="1.2"/>
<line x1="130.08" y1="166.1" x2="130.08" y2="168.5" stroke="#1a1a1a" stroke-width="1.2"/>
<line x1="151.33" y1="283.7" x2="151.33" y2="286.1" stroke="#1a1a1a" stroke-width="1.2"/>
<line x1="151.33" y1="166.1" x2="151.33" y2="168.5" stroke="#1a1a1a" stroke-width="1.2"/>
<line x1="172.58" y1="283.7" x2="172.58" y2="286.1" stroke="#1a1a1a" stroke-width="1.2"/>
<line x1="172.58" y1="166.1" x2="172.58" y2="168.5" stroke="#1a1a1a" stroke-width="1.2"/>
<line x1="19.7" y1="271.88" x2="23.9" y2="271.88" stroke="#1a1a1a" stroke-width="1.2"/>
<line x1="168.5" y1="271.88" x2="172.7" y2="271.88" stroke="#1a1a1a" stroke-width="1.2"/>
<line x1="19.7" y1="248.31" x2="23.9" y2="248.31" stroke="#1a1a1a" stroke-width="1.2"/>
<line x1="168.5" y1="248.31" x2="172.7" y2="248.31" stroke="#1a1a1a" stroke-width="1.2"/>
<line x1="19.7" y1="224.74" x2="23.9" y2="224.74" stroke="#1a1a1a" stroke-width="1.2"/>
<line x1="168.5" y1="224.74" x2="172.7" y2="224.74" stroke="#1a1a1a" stroke-width="1.2"/>
<line x1="19.7" y1="201.17" x2="23.9" y2="201.17" stroke="#1a1a1a" stroke-width="1.2"/>
<line x1="168.5" y1="201.17" x2="172.7" y2="201.17" stroke="#1a1a1a" stroke-width="1.2"/>
<line x1="19.7" y1="177.6" x2="23.9" y2="177.6" stroke="#1a1a1a" stroke-width="1.2"/>
<line x1="168.5" y1="177.6" x2="172.7" y2="177.6" stroke="#1a1a1a" stroke-width="1.2"/>
<line x1="21.5" y1="260.1" x2="23.9" y2="260.1" stroke="#1a1a1a" stroke-width="1.2"/>
<line x1="170.3" y1="260.1" x2="172.7" y2="260.1" stroke="#1a1a1a" stroke-width="1.2"/>
<line x1="21.5" y1="236.52" x2="23.9" y2="236.52" stroke="#1a1a1a" stroke-width="1.2"/>
<line x1="170.3" y1="236.52" x2="172.7" y2="236.52" stroke="#1a1a1a" stroke-width="1.2"/>
<line x1="21.5" y1="212.95" x2="23.9" y2="212.95" stroke="#1a1a1a" stroke-width="1.2"/>
<line x1="170.3" y1="212.95" x2="172.7" y2="212.95" stroke="#1a1a1a" stroke-width="1.2"/>
<line x1="21.5" y1="189.38" x2="23.9" y2="189.38" stroke="#1a1a1a" stroke-width="1.2"/>
<line x1="170.3" y1="189.38" x2="172.7" y2="189.38" stroke="#1a1a1a" stroke-width="1.2"/>
<rect x="23.9" y="166.1" width="148.8" height="117.6" fill="none" stroke="#1a1a1a" stroke-width="1.2"/>
<text x="34.44" y="296.8" font-size="8.3" text-anchor="middle" fill="#000" stroke="#000">-60</text>
<text x="55.7" y="296.8" font-size="8.3" text-anchor="middle" fill="#000" stroke="#000">-40</text>
<text x="76.95" y="296.8" font-size="8.3" text-anchor="middle" fill="#000" stroke="#000">-20</text>
<text x="98.2" y="296.8" font-size="8.3" text-anchor="middle" fill="#000" stroke="#000">0</text>
<text x="119.45" y="296.8" font-size="8.3" text-anchor="middle" fill="#000" stroke="#000">20</text>
<text x="140.7" y="296.8" font-size="8.3" text-anchor="middle" fill="#000" stroke="#000">40</text>
<text x="161.96" y="296.8" font-size="8.3" text-anchor="middle" fill="#000" stroke="#000">60</text>
<text x="18.3" y="274.48" font-size="8.3" text-anchor="end" fill="#000" stroke="#000">1</text>
<text x="18.3" y="250.91" font-size="8.3" text-anchor="end" fill="#000" stroke="#000">2</text>
<text x="18.3" y="227.34" font-size="8.3" text-anchor="end" fill="#000" stroke="#000">3</text>
<text x="18.3" y="203.77" font-size="8.3" text-anchor="end" fill="#000" stroke="#000">4</text>
<text x="18.3" y="180.2" font-size="8.3" text-anchor="end" fill="#000" stroke="#000">5</text>
<text x="7.7" y="163.4" font-size="9.8" text-anchor="start" fill="#000" stroke="#000">(e)</text>
<text x="9.3" y="227" font-size="10.2" text-anchor="middle" fill="#000" stroke="#000" transform="rotate(-90 9.3 227)">Resistivity (k&#937;)</text>
<text x="80.7" y="307.7" font-size="10" text-anchor="start" fill="#000" stroke="#000">V<tspan font-size="6.2" dy="3.5">BG</tspan><tspan dy="-3.5"> (V)</tspan></text>
<path d="M23.9 267.3 L172.7 271.9" stroke="#ff0000" stroke-width="2.8" fill="none"/>
<path d="M23.9 244 L24.2 244.11 L24.5 244.21 L24.79 244.31 L25.09 244.42 L25.39 244.52 L25.69 244.62 L25.99 244.71 L26.29 244.81 L26.58 244.9 L26.88 244.99 L27.18 245.08 L27.48 245.17 L27.78 245.25 L28.07 245.33 L28.37 245.4 L28.67 245.47 L28.97 245.54 L29.27 245.61 L29.57 245.67 L29.86 245.72 L30.16 245.77 L30.46 245.82 L30.76 245.86 L31.06 245.9 L31.35 245.93 L31.65 245.95 L31.95 245.97 L32.25 245.99 L32.55 246 L32.85 246 L33.14 246 L33.44 245.99 L33.74 245.99 L34.04 245.98 L34.34 245.97 L34.64 245.96 L34.93 245.95 L35.23 245.93 L35.53 245.91 L35.83 245.9 L36.13 245.88 L36.42 245.85 L36.72 245.83 L37.02 245.81 L37.32 245.78 L37.62 245.75 L37.92 245.73 L38.21 245.7 L38.51 245.67 L38.81 245.63 L39.11 245.6 L39.41 245.57 L39.7 245.53 L40 245.5 L40.3 245.46 L40.6 245.43 L40.9 245.39 L41.2 245.35 L41.49 245.32 L41.79 245.28 L42.09 245.24 L42.39 245.2 L42.69 245.16 L42.98 245.12 L43.28 245.08 L43.58 245.05 L43.88 245.01 L44.18 244.97 L44.48 244.93 L44.77 244.89 L45.07 244.85 L45.37 244.82 L45.67 244.78 L45.97 244.74 L46.26 244.7 L46.56 244.66 L46.86 244.62 L47.16 244.58 L47.46 244.54 L47.76 244.5 L48.05 244.45 L48.35 244.41 L48.65 244.36 L48.95 244.32 L49.25 244.27 L49.54 244.22 L49.84 244.17 L50.14 244.12 L50.44 244.07 L50.74 244.02 L51.04 243.97 L51.33 243.92 L51.63 243.87 L51.93 243.81 L52.23 243.76 L52.53 243.7 L52.83 243.65 L53.12 243.59 L53.42 243.53 L53.72 243.47 L54.02 243.42 L54.32 243.36 L54.61 243.3 L54.91 243.24 L55.21 243.17 L55.51 243.11 L55.81 243.05 L56.11 242.99 L56.4 242.92 L56.7 242.86 L57 242.79 L57.3 242.73 L57.6 242.66 L57.89 242.59 L58.19 242.52 L58.49 242.46 L58.79 242.39 L59.09 242.32 L59.39 242.25 L59.68 242.18 L59.98 242.1 L60.28 242.03 L60.58 241.96 L60.88 241.88 L61.17 241.81 L61.47 241.73 L61.77 241.65 L62.07 241.57 L62.37 241.49 L62.67 241.4 L62.96 241.32 L63.26 241.23 L63.56 241.14 L63.86 241.06 L64.16 240.97 L64.45 240.88 L64.75 240.78 L65.05 240.69 L65.35 240.6 L65.65 240.5 L65.95 240.4 L66.24 240.3 L66.54 240.21 L66.84 240.11 L67.14 240 L67.44 239.9 L67.73 239.8 L68.03 239.69 L68.33 239.59 L68.63 239.48 L68.93 239.38 L69.23 239.27 L69.52 239.16 L69.82 239.05 L70.12 238.94 L70.42 238.83 L70.72 238.71 L71.02 238.6 L71.31 238.49 L71.61 238.37 L71.91 238.26 L72.21 238.14 L72.51 238.02 L72.8 237.9 L73.1 237.79 L73.4 237.67 L73.7 237.55 L74 237.43 L74.3 237.3 L74.59 237.18 L74.89 237.06 L75.19 236.94 L75.49 236.81 L75.79 236.69 L76.08 236.56 L76.38 236.44 L76.68 236.31 L76.98 236.18 L77.28 236.05 L77.58 235.92 L77.87 235.79 L78.17 235.65 L78.47 235.51 L78.77 235.37 L79.07 235.23 L79.36 235.08 L79.66 234.93 L79.96 234.78 L80.26 234.62 L80.56 234.46 L80.86 234.3 L81.15 234.14 L81.45 233.97 L81.75 233.79 L82.05 233.61 L82.35 233.43 L82.64 233.25 L82.94 233.05 L83.24 232.85 L83.54 232.65 L83.84 232.43 L84.14 232.22 L84.43 231.99 L84.73 231.76 L85.03 231.52 L85.33 231.28 L85.63 231.02 L85.92 230.77 L86.22 230.5 L86.52 230.24 L86.82 229.96 L87.12 229.68 L87.42 229.39 L87.71 229.1 L88.01 228.8 L88.31 228.49 L88.61 228.17 L88.91 227.84 L89.21 227.5 L89.5 227.14 L89.8 226.77 L90.1 226.38 L90.4 225.98 L90.7 225.56 L90.99 225.12 L91.29 224.65 L91.59 224.14 L91.89 223.59 L92.19 222.98 L92.49 222.35 L92.78 221.68 L93.08 220.99 L93.38 220.29 L93.68 219.57 L93.98 218.82 L94.27 218.04 L94.57 217.23 L94.87 216.37 L95.17 215.46 L95.47 214.51 L95.77 213.49 L96.06 212.39 L96.36 211.21 L96.66 209.96 L96.96 208.65 L97.26 207.26 L97.55 205.74 L97.85 204.12 L98.15 202.44 L98.45 200.74 L98.75 198.93 L99.05 197.06 L99.34 195.21 L99.64 193.46 L99.94 191.85 L100.24 190.19 L100.54 188.53 L100.83 186.96 L101.13 185.58 L101.43 184.47 L101.73 183.75 L102.03 183.21 L102.33 182.72 L102.62 182.28 L102.92 181.91 L103.22 181.63 L103.52 181.46 L103.82 181.4 L104.11 181.5 L104.41 181.76 L104.71 182.15 L105.01 182.65 L105.31 183.25 L105.61 183.91 L105.9 184.61 L106.2 185.57 L106.5 186.93 L106.8 188.54 L107.1 190.28 L107.39 192.02 L107.69 193.68 L107.99 195.43 L108.29 197.24 L108.59 199.08 L108.89 200.91 L109.18 202.7 L109.48 204.48 L109.78 206.26 L110.08 208.04 L110.38 209.79 L110.68 211.5 L110.97 213.16 L111.27 214.73 L111.57 216.22 L111.87 217.67 L112.17 219.11 L112.46 220.59 L112.76 222.15 L113.06 223.84 L113.36 225.7 L113.66 227.58 L113.96 229.3 L114.25 230.91 L114.55 232.47 L114.85 233.98 L115.15 235.44 L115.45 236.84 L115.74 238.18 L116.04 239.46 L116.34 240.66 L116.64 241.84 L116.94 242.99 L117.24 244.11 L117.53 245.2 L117.83 246.25 L118.13 247.26 L118.43 248.22 L118.73 249.14 L119.02 250.02 L119.32 250.84 L119.62 251.61 L119.92 252.35 L120.22 253.08 L120.52 253.78 L120.81 254.47 L121.11 255.13 L121.41 255.77 L121.71 256.39 L122.01 256.99 L122.3 257.56 L122.6 258.1 L122.9 258.62 L123.2 259.12 L123.5 259.58 L123.8 260.02 L124.09 260.43 L124.39 260.82 L124.69 261.2 L124.99 261.57 L125.29 261.93 L125.58 262.28 L125.88 262.61 L126.18 262.94 L126.48 263.25 L126.78 263.56 L127.08 263.85 L127.37 264.13 L127.67 264.4 L127.97 264.66 L128.27 264.91 L128.57 265.15 L128.87 265.38 L129.16 265.6 L129.46 265.81 L129.76 266.01 L130.06 266.2 L130.36 266.38 L130.65 266.56 L130.95 266.74 L131.25 266.91 L131.55 267.07 L131.85 267.23 L132.15 267.38 L132.44 267.53 L132.74 267.68 L133.04 267.82 L133.34 267.96 L133.64 268.09 L133.93 268.23 L134.23 268.36 L134.53 268.48 L134.83 268.61 L135.13 268.73 L135.43 268.85 L135.72 268.97 L136.02 269.09 L136.32 269.21 L136.62 269.32 L136.92 269.44 L137.21 269.56 L137.51 269.67 L137.81 269.79 L138.11 269.9 L138.41 270.01 L138.71 270.12 L139 270.23 L139.3 270.34 L139.6 270.45 L139.9 270.56 L140.2 270.66 L140.49 270.76 L140.79 270.86 L141.09 270.96 L141.39 271.06 L141.69 271.15 L141.99 271.25 L142.28 271.34 L142.58 271.42 L142.88 271.51 L143.18 271.59 L143.48 271.67 L143.77 271.75 L144.07 271.83 L144.37 271.9 L144.67 271.97 L144.97 272.03 L145.27 272.09 L145.56 272.15 L145.86 272.21 L146.16 272.27 L146.46 272.33 L146.76 272.39 L147.06 272.45 L147.35 272.51 L147.65 272.56 L147.95 272.62 L148.25 272.67 L148.55 272.73 L148.84 272.78 L149.14 272.84 L149.44 272.89 L149.74 272.94 L150.04 272.99 L150.34 273.04 L150.63 273.09 L150.93 273.13 L151.23 273.18 L151.53 273.22 L151.83 273.26 L152.12 273.3 L152.42 273.34 L152.72 273.38 L153.02 273.42 L153.32 273.45 L153.62 273.49 L153.91 273.52 L154.21 273.55 L154.51 273.57 L154.81 273.6 L155.11 273.62 L155.4 273.64 L155.7 273.66 L156 273.68 L156.3 273.7 L156.6 273.71 L156.9 273.72 L157.19 273.73 L157.49 273.75 L157.79 273.76 L158.09 273.77 L158.39 273.78 L158.68 273.8 L158.98 273.81 L159.28 273.82 L159.58 273.83 L159.88 273.84 L160.18 273.85 L160.47 273.86 L160.77 273.87 L161.07 273.88 L161.37 273.89 L161.67 273.9 L161.96 273.91 L162.26 273.92 L162.56 273.93 L162.86 273.94 L163.16 273.95 L163.46 273.96 L163.75 273.97 L164.05 273.98 L164.35 273.98 L164.65 273.99 L164.95 274 L165.25 274.01 L165.54 274.01 L165.84 274.02 L166.14 274.03 L166.44 274.03 L166.74 274.04 L167.03 274.05 L167.33 274.05 L167.63 274.06 L167.93 274.06 L168.23 274.07 L168.53 274.07 L168.82 274.07 L169.12 274.08 L169.42 274.08 L169.72 274.08 L170.02 274.09 L170.31 274.09 L170.61 274.09 L170.91 274.09 L171.21 274.1 L171.51 274.1 L171.81 274.1 L172.1 274.1 L172.4 274.1 L172.7 274.1" stroke="#000" stroke-width="2.8" fill="none" stroke-linejoin="round"/>
<text x="28.8" y="178" font-size="10.2" text-anchor="start" fill="#000" stroke="#000">Without Al<tspan font-size="6.8" dy="3.4">2</tspan><tspan dy="-3.4">O</tspan><tspan font-size="6.8" dy="3.4">3</tspan><tspan dy="-3.4"> passivation layer</tspan></text>
<text x="26.4" y="237.8" font-size="10.1" text-anchor="start" fill="#000" stroke="#000">X-ray on</text>
<text x="26.4" y="261.4" font-size="10.1" text-anchor="start" fill="#ff0000" stroke="#ff0000">X-ray off</text>
<line x1="211.4" y1="284.4" x2="211.4" y2="288.6" stroke="#1a1a1a" stroke-width="1.2"/>
<line x1="211.4" y1="166.5" x2="211.4" y2="170.7" stroke="#1a1a1a" stroke-width="1.2"/>
<line x1="263.7" y1="284.4" x2="263.7" y2="288.6" stroke="#1a1a1a" stroke-width="1.2"/>
<line x1="263.7" y1="166.5" x2="263.7" y2="170.7" stroke="#1a1a1a" stroke-width="1.2"/>
<line x1="316" y1="284.4" x2="316" y2="288.6" stroke="#1a1a1a" stroke-width="1.2"/>
<line x1="316" y1="166.5" x2="316" y2="170.7" stroke="#1a1a1a" stroke-width="1.2"/>
<line x1="368.3" y1="284.4" x2="368.3" y2="288.6" stroke="#1a1a1a" stroke-width="1.2"/>
<line x1="368.3" y1="166.5" x2="368.3" y2="170.7" stroke="#1a1a1a" stroke-width="1.2"/>
<line x1="420.6" y1="284.4" x2="420.6" y2="288.6" stroke="#1a1a1a" stroke-width="1.2"/>
<line x1="420.6" y1="166.5" x2="420.6" y2="170.7" stroke="#1a1a1a" stroke-width="1.2"/>
<line x1="237.55" y1="284.4" x2="237.55" y2="286.8" stroke="#1a1a1a" stroke-width="1.2"/>
<line x1="237.55" y1="166.5" x2="237.55" y2="168.9" stroke="#1a1a1a" stroke-width="1.2"/>
<line x1="289.85" y1="284.4" x2="289.85" y2="286.8" stroke="#1a1a1a" stroke-width="1.2"/>
<line x1="289.85" y1="166.5" x2="289.85" y2="168.9" stroke="#1a1a1a" stroke-width="1.2"/>
<line x1="342.15" y1="284.4" x2="342.15" y2="286.8" stroke="#1a1a1a" stroke-width="1.2"/>
<line x1="342.15" y1="166.5" x2="342.15" y2="168.9" stroke="#1a1a1a" stroke-width="1.2"/>
<line x1="394.45" y1="284.4" x2="394.45" y2="286.8" stroke="#1a1a1a" stroke-width="1.2"/>
<line x1="394.45" y1="166.5" x2="394.45" y2="168.9" stroke="#1a1a1a" stroke-width="1.2"/>
<line x1="198.6" y1="263" x2="202.8" y2="263" stroke="#1a1a1a" stroke-width="1.2"/>
<line x1="416.7" y1="263" x2="420.9" y2="263" stroke="#1a1a1a" stroke-width="1.2"/>
<line x1="198.6" y1="220.2" x2="202.8" y2="220.2" stroke="#1a1a1a" stroke-width="1.2"/>
<line x1="416.7" y1="220.2" x2="420.9" y2="220.2" stroke="#1a1a1a" stroke-width="1.2"/>
<line x1="198.6" y1="177.4" x2="202.8" y2="177.4" stroke="#1a1a1a" stroke-width="1.2"/>
<line x1="416.7" y1="177.4" x2="420.9" y2="177.4" stroke="#1a1a1a" stroke-width="1.2"/>
<line x1="200.4" y1="241.6" x2="202.8" y2="241.6" stroke="#1a1a1a" stroke-width="1.2"/>
<line x1="418.5" y1="241.6" x2="420.9" y2="241.6" stroke="#1a1a1a" stroke-width="1.2"/>
<line x1="200.4" y1="198.8" x2="202.8" y2="198.8" stroke="#1a1a1a" stroke-width="1.2"/>
<line x1="418.5" y1="198.8" x2="420.9" y2="198.8" stroke="#1a1a1a" stroke-width="1.2"/>
<rect x="202.8" y="166.5" width="218.1" height="117.9" fill="none" stroke="#1a1a1a" stroke-width="1.2"/>
<text x="211.4" y="297.5" font-size="8.3" text-anchor="middle" fill="#000" stroke="#000">0</text>
<text x="263.7" y="297.5" font-size="8.3" text-anchor="middle" fill="#000" stroke="#000">5</text>
<text x="316" y="297.5" font-size="8.3" text-anchor="middle" fill="#000" stroke="#000">10</text>
<text x="368.3" y="297.5" font-size="8.3" text-anchor="middle" fill="#000" stroke="#000">15</text>
<text x="420.6" y="297.5" font-size="8.3" text-anchor="middle" fill="#000" stroke="#000">20</text>
<text x="197.4" y="265.7" font-size="8.3" text-anchor="end" fill="#000" stroke="#000">2</text>
<text x="197.4" y="222.9" font-size="8.3" text-anchor="end" fill="#000" stroke="#000">3</text>
<text x="197.4" y="180.1" font-size="8.3" text-anchor="end" fill="#000" stroke="#000">4</text>
<text x="190" y="163.2" font-size="9.8" text-anchor="start" fill="#000" stroke="#000">(f)</text>
<text x="190" y="224" font-size="10.2" text-anchor="middle" fill="#000" stroke="#000" transform="rotate(-90 190 224)">Resistivity (k&#937;)</text>
<text x="312" y="307.6" font-size="10" text-anchor="middle" fill="#000" stroke="#000">Time (minutes)</text>
<line x1="211.5" y1="272.4" x2="211.5" y2="284.4" stroke="#000" stroke-width="1.3" stroke-dasharray="1.3 1.2"/>
<line x1="200.9" y1="272.4" x2="211" y2="272.4" stroke="#0000f0" stroke-width="3.8" stroke-linecap="round"/>
<line x1="212.2" y1="272" x2="212.2" y2="176" stroke="#7070ff" stroke-width="0.9"/>
<circle cx="212.2" cy="270.2" r="2" fill="#fff" stroke="#4040ff" stroke-width="0.7"/>
<circle cx="212.2" cy="267.6" r="2" fill="#fff" stroke="#4040ff" stroke-width="0.7"/>
<circle cx="212.2" cy="260.3" r="2" fill="#fff" stroke="#4040ff" stroke-width="0.7"/>
<circle cx="212.2" cy="246.1" r="2" fill="#fff" stroke="#4040ff" stroke-width="0.7"/>
<circle cx="212.2" cy="229.1" r="2" fill="#fff" stroke="#4040ff" stroke-width="0.7"/>
<circle cx="212.2" cy="213.3" r="2" fill="#fff" stroke="#4040ff" stroke-width="0.7"/>
<circle cx="212.2" cy="201.3" r="2" fill="#fff" stroke="#4040ff" stroke-width="0.7"/>
<circle cx="212.2" cy="194" r="2" fill="#fff" stroke="#4040ff" stroke-width="0.7"/>
<circle cx="212.2" cy="188.4" r="2" fill="#fff" stroke="#4040ff" stroke-width="0.7"/>
<circle cx="212.2" cy="184.8" r="2" fill="#fff" stroke="#4040ff" stroke-width="0.7"/>
<circle cx="212.2" cy="182" r="2" fill="#fff" stroke="#4040ff" stroke-width="0.7"/>
<circle cx="212.2" cy="179.7" r="2" fill="#fff" stroke="#4040ff" stroke-width="0.7"/>
<circle cx="212.2" cy="178" r="2" fill="#fff" stroke="#4040ff" stroke-width="0.7"/>
<circle cx="212.2" cy="176.4" r="2" fill="#fff" stroke="#4040ff" stroke-width="0.7"/>
<path d="M213.2 175 L213.95 175.27 L214.66 175.59 L215.25 175.96 L215.73 176.41 L216.17 176.93 L216.56 177.53 L216.93 178.18 L217.27 178.87 L217.6 179.59 L217.92 180.33 L218.23 181.08 L218.54 181.81 L218.87 182.53 L219.21 183.22 L219.56 183.88 L219.9 184.55 L220.24 185.22 L220.58 185.9 L220.92 186.57 L221.25 187.24 L221.59 187.91 L221.94 188.58 L222.28 189.25 L222.63 189.92 L222.99 190.58 L223.35 191.24 L223.7 191.91 L224.06 192.58 L224.41 193.26 L224.77 193.93 L225.13 194.61 L225.5 195.27 L225.87 195.93 L226.25 196.58 L226.65 197.22 L227.05 197.85 L227.47 198.46 L227.91 199.05 L228.36 199.62 L228.83 200.19 L229.32 200.76 L229.83 201.32 L230.35 201.88 L230.89 202.43 L231.45 202.96 L232.01 203.49 L232.59 204 L233.17 204.49 L233.77 204.97 L234.37 205.42 L234.97 205.85 L235.58 206.26 L236.2 206.65 L236.83 207.03 L237.47 207.4 L238.13 207.77 L238.8 208.12 L239.48 208.47 L240.16 208.8 L240.86 209.13 L241.56 209.44 L242.27 209.73 L242.98 210.01 L243.7 210.28 L244.41 210.52 L245.12 210.75 L245.84 210.96 L246.55 211.15 L247.27 211.33 L247.99 211.5 L248.71 211.67 L249.44 211.83 L250.18 211.99 L250.91 212.14 L251.65 212.29 L252.4 212.42 L253.14 212.56 L253.89 212.69 L254.64 212.81 L255.38 212.94 L256.13 213.05 L256.88 213.17 L257.63 213.28 L258.38 213.39 L259.13 213.49 L259.88 213.6 L260.63 213.7 L261.37 213.8 L262.12 213.9 L262.86 213.99 L263.61 214.09 L264.36 214.18 L265.1 214.28 L265.85 214.37 L266.6 214.46 L267.35 214.54 L268.09 214.63 L268.84 214.71 L269.59 214.79 L270.34 214.87 L271.09 214.94 L271.84 215.02 L272.59 215.08 L273.34 215.15 L274.09 215.21 L274.84 215.27 L275.59 215.33 L276.34 215.38 L277.09 215.42 L277.84 215.47 L278.59 215.52 L279.34 215.56 L280.09 215.6 L280.84 215.64 L281.59 215.68 L282.34 215.72 L283.1 215.76 L283.85 215.8 L284.6 215.83 L285.35 215.87 L286.1 215.9 L286.85 215.94 L287.61 215.97 L288.36 216 L289.11 216.03 L289.86 216.06 L290.61 216.09 L291.37 216.12 L292.12 216.15 L292.87 216.18 L293.62 216.2 L294.38 216.23 L295.13 216.25 L295.88 216.28 L296.63 216.3 L297.38 216.33 L298.14 216.35 L298.89 216.38 L299.64 216.4 L300.39 216.42 L301.14 216.44 L301.9 216.47 L302.65 216.49 L303.4 216.51 L304.15 216.53 L304.9 216.55 L305.66 216.57 L306.41 216.59 L307.16 216.61 L307.91 216.63 L308.66 216.65 L309.42 216.67 L310.17 216.69 L310.92 216.71 L311.67 216.73 L312.42 216.74 L313.18 216.76 L313.93 216.78 L314.68 216.8 L315.43 216.81 L316.19 216.83 L316.94 216.85 L317.69 216.87 L318.44 216.88 L319.19 216.9 L319.95 216.91 L320.7 216.93 L321.45 216.95 L322.2 216.96 L322.96 216.98 L323.71 216.99 L324.46 217.01 L325.21 217.02 L325.96 217.04 L326.72 217.05 L327.47 217.07 L328.22 217.08 L328.97 217.1 L329.73 217.11 L330.48 217.13 L331.23 217.14 L331.98 217.15 L332.73 217.17 L333.49 217.18 L334.24 217.2 L334.99 217.21 L335.74 217.22 L336.5 217.24 L337.25 217.25 L338 217.26 L338.75 217.28 L339.51 217.29 L340.26 217.3 L341.01 217.32 L341.76 217.33 L342.51 217.34 L343.27 217.36 L344.02 217.37 L344.77 217.38 L345.52 217.4 L346.28 217.41 L347.03 217.42 L347.78 217.43 L348.53 217.45 L349.28 217.46 L350.04 217.47 L350.79 217.48 L351.54 217.49 L352.29 217.51 L353.05 217.52 L353.8 217.53 L354.55 217.54 L355.3 217.55 L356.05 217.56 L356.81 217.57 L357.56 217.59 L358.31 217.6 L359.06 217.61 L359.82 217.62 L360.57 217.63 L361.32 217.64 L362.07 217.65 L362.83 217.66 L363.58 217.67 L364.33 217.68 L365.08 217.69 L365.83 217.71 L366.59 217.72 L367.34 217.73 L368.09 217.74 L368.84 217.75 L369.6 217.76 L370.35 217.77 L371.1 217.78 L371.85 217.79 L372.61 217.8 L373.36 217.81 L374.11 217.82 L374.86 217.83 L375.61 217.84 L376.37 217.85 L377.12 217.86 L377.87 217.87 L378.62 217.88 L379.38 217.89 L380.13 217.9 L380.88 217.91 L381.63 217.92 L382.38 217.93 L383.14 217.94 L383.89 217.95 L384.64 217.96 L385.39 217.97 L386.15 217.98 L386.9 217.99 L387.65 218 L388.4 218.01 L389.16 218.02 L389.91 218.03 L390.66 218.04 L391.41 218.05 L392.16 218.06 L392.92 218.07 L393.67 218.08 L394.42 218.09 L395.17 218.1 L395.93 218.11 L396.68 218.12 L397.43 218.13 L398.18 218.14 L398.94 218.15 L399.69 218.16 L400.44 218.17 L401.19 218.18 L401.94 218.19 L402.7 218.2 L403.45 218.2 L404.2 218.21 L404.95 218.22 L405.71 218.23 L406.46 218.24 L407.21 218.25 L407.96 218.26 L408.72 218.27 L409.47 218.28 L410.22 218.29 L410.97 218.3 L411.72 218.3 L412.48 218.31 L413.23 218.32 L413.98 218.33 L414.73 218.34 L415.49 218.35 L416.24 218.36 L416.99 218.37 L417.74 218.37 L418.5 218.38 L419.25 218.39 L420 218.4" stroke="#0000f0" stroke-width="5" fill="none" stroke-linecap="round" stroke-linejoin="round"/>
<text x="219" y="179.5" font-size="10.3" text-anchor="start" fill="#000" stroke="#000">V<tspan font-size="6.39" dy="3.6">BG</tspan><tspan dy="-3.6"> = - 70 V</tspan></text>
<text x="249.4" y="206.2" font-size="10.2" text-anchor="start" fill="#000" stroke="#000">Holes</text>
<text x="224.6" y="226.2" font-size="9.9" text-anchor="middle" fill="#000" stroke="#000" transform="rotate(-90 224.6 226.2)">Electrons</text>
<text x="215.4" y="281.7" font-size="9.8" text-anchor="start" fill="#000" stroke="#000">X-ray on</text>
<rect x="317.6" y="221" width="103.3" height="48.5" fill="#fff"/>
<line x1="343.43" y1="221" x2="343.43" y2="269.5" stroke="#a2a2a2" stroke-width="0.9"/>
<line x1="369.25" y1="221" x2="369.25" y2="269.5" stroke="#a2a2a2" stroke-width="0.9"/>
<line x1="395.07" y1="221" x2="395.07" y2="269.5" stroke="#a2a2a2" stroke-width="0.9"/>
<line x1="317.6" y1="261.1" x2="420.9" y2="261.1" stroke="#a2a2a2" stroke-width="0.9"/>
<line x1="317.6" y1="245.25" x2="420.9" y2="245.25" stroke="#a2a2a2" stroke-width="0.9"/>
<line x1="317.6" y1="229.4" x2="420.9" y2="229.4" stroke="#a2a2a2" stroke-width="0.9"/>
<line x1="317.6" y1="269.5" x2="317.6" y2="273.7" stroke="#1a1a1a" stroke-width="1.2"/>
<line x1="343.43" y1="269.5" x2="343.43" y2="273.7" stroke="#1a1a1a" stroke-width="1.2"/>
<line x1="369.25" y1="269.5" x2="369.25" y2="273.7" stroke="#1a1a1a" stroke-width="1.2"/>
<line x1="395.07" y1="269.5" x2="395.07" y2="273.7" stroke="#1a1a1a" stroke-width="1.2"/>
<line x1="420.9" y1="269.5" x2="420.9" y2="273.7" stroke="#1a1a1a" stroke-width="1.2"/>
<line x1="330.51" y1="269.5" x2="330.51" y2="271.9" stroke="#1a1a1a" stroke-width="1.2"/>
<line x1="356.34" y1="269.5" x2="356.34" y2="271.9" stroke="#1a1a1a" stroke-width="1.2"/>
<line x1="382.16" y1="269.5" x2="382.16" y2="271.9" stroke="#1a1a1a" stroke-width="1.2"/>
<line x1="407.99" y1="269.5" x2="407.99" y2="271.9" stroke="#1a1a1a" stroke-width="1.2"/>
<line x1="313.4" y1="261.1" x2="317.6" y2="261.1" stroke="#1a1a1a" stroke-width="1.2"/>
<line x1="313.4" y1="245.25" x2="317.6" y2="245.25" stroke="#1a1a1a" stroke-width="1.2"/>
<line x1="313.4" y1="229.4" x2="317.6" y2="229.4" stroke="#1a1a1a" stroke-width="1.2"/>
<line x1="315.2" y1="253.18" x2="317.6" y2="253.18" stroke="#1a1a1a" stroke-width="1.2"/>
<line x1="315.2" y1="237.33" x2="317.6" y2="237.33" stroke="#1a1a1a" stroke-width="1.2"/>
<rect x="317.6" y="221" width="103.3" height="48.5" fill="none" stroke="#1a1a1a" stroke-width="1.2"/>
<text x="317.6" y="282.3" font-size="8.3" text-anchor="middle" fill="#000" stroke="#000">-80</text>
<text x="343.43" y="282.3" font-size="8.3" text-anchor="middle" fill="#000" stroke="#000">-40</text>
<text x="395.07" y="282.3" font-size="8.3" text-anchor="middle" fill="#000" stroke="#000">40</text>
<text x="356.8" y="281.4" font-size="9.6" text-anchor="start" fill="#000" stroke="#000">V<tspan font-size="5.95" dy="3.36">BG</tspan><tspan dy="-3.36"> (V)</tspan></text>
<text x="312.6" y="263.8" font-size="8.3" text-anchor="end" fill="#000" stroke="#000">2</text>
<text x="312.6" y="247.95" font-size="8.3" text-anchor="end" fill="#000" stroke="#000">3</text>
<text x="312.6" y="232.1" font-size="8.3" text-anchor="end" fill="#000" stroke="#000">4</text>
<text x="302" y="253" font-size="9" text-anchor="middle" fill="#000" stroke="#000" transform="rotate(-90 302 253)">Resistivity (k&#937;)</text>
<circle cx="324.06" cy="222.5" r="1.05" fill="#0000f0" stroke="none" stroke-width="0"/>
<circle cx="324.06" cy="225.1" r="1.05" fill="#0000f0" stroke="none" stroke-width="0"/>
<circle cx="324.06" cy="227.7" r="1.05" fill="#0000f0" stroke="none" stroke-width="0"/>
<circle cx="324.06" cy="230.3" r="1.05" fill="#0000f0" stroke="none" stroke-width="0"/>
<circle cx="324.06" cy="232.9" r="1.05" fill="#0000f0" stroke="none" stroke-width="0"/>
<circle cx="324.06" cy="235.5" r="1.05" fill="#0000f0" stroke="none" stroke-width="0"/>
<circle cx="324.06" cy="238.1" r="1.05" fill="#0000f0" stroke="none" stroke-width="0"/>
<circle cx="324.06" cy="240.7" r="1.05" fill="#0000f0" stroke="none" stroke-width="0"/>
<circle cx="324.06" cy="243.3" r="1.05" fill="#0000f0" stroke="none" stroke-width="0"/>
<circle cx="324.06" cy="245.9" r="1.05" fill="#0000f0" stroke="none" stroke-width="0"/>
<circle cx="324.06" cy="248.5" r="1.05" fill="#0000f0" stroke="none" stroke-width="0"/>
<circle cx="324.06" cy="251.1" r="1.05" fill="#0000f0" stroke="none" stroke-width="0"/>
<circle cx="324.06" cy="253.7" r="1.05" fill="#0000f0" stroke="none" stroke-width="0"/>
<circle cx="324.06" cy="256.3" r="1.05" fill="#0000f0" stroke="none" stroke-width="0"/>
<circle cx="324.06" cy="258.9" r="1.05" fill="#0000f0" stroke="none" stroke-width="0"/>
<circle cx="324.06" cy="261.5" r="1.05" fill="#0000f0" stroke="none" stroke-width="0"/>
<circle cx="324.06" cy="264.1" r="1.05" fill="#0000f0" stroke="none" stroke-width="0"/>
<circle cx="324.06" cy="266.7" r="1.05" fill="#0000f0" stroke="none" stroke-width="0"/>
<path d="M317.6 262.4 L420.9 267.7" stroke="#ff0000" stroke-width="1.8" fill="none"/>
<path d="M317.6 240.4 L318.23 240.21 L318.85 240 L319.48 239.79 L320.09 239.57 L320.71 239.34 L321.32 239.11 L321.92 238.86 L322.52 238.61 L323.12 238.36 L323.71 238.1 L324.3 237.83 L324.89 237.55 L325.47 237.27 L326.05 236.98 L326.63 236.68 L327.21 236.37 L327.79 236.05 L328.36 235.72 L328.92 235.38 L329.48 235.04 L330.03 234.68 L330.58 234.32 L331.11 233.95 L331.63 233.57 L332.15 233.19 L332.65 232.78 L333.13 232.36 L333.61 231.92 L334.08 231.47 L334.55 231.01 L335.01 230.54 L335.46 230.06 L335.92 229.59 L336.38 229.12 L336.84 228.66 L337.3 228.18 L337.75 227.61 L338.19 227.01 L338.63 226.4 L339.08 225.83 L339.53 225.35 L340.01 225 L340.51 224.82 L341.06 224.84 L341.7 225.01 L342.37 225.3 L342.99 225.64 L343.48 225.99 L343.87 226.36 L344.22 226.8 L344.54 227.3 L344.84 227.86 L345.12 228.46 L345.38 229.09 L345.63 229.74 L345.87 230.41 L346.1 231.08 L346.34 231.76 L346.57 232.41 L346.82 233.05 L347.07 233.66 L347.32 234.26 L347.56 234.87 L347.8 235.47 L348.04 236.08 L348.27 236.69 L348.49 237.31 L348.72 237.92 L348.94 238.54 L349.17 239.15 L349.39 239.77 L349.62 240.38 L349.85 240.99 L350.08 241.6 L350.31 242.21 L350.56 242.81 L350.8 243.41 L351.06 244.01 L351.32 244.6 L351.59 245.19 L351.86 245.79 L352.14 246.39 L352.41 247 L352.69 247.61 L352.98 248.22 L353.27 248.84 L353.56 249.45 L353.86 250.05 L354.16 250.66 L354.47 251.25 L354.79 251.83 L355.12 252.4 L355.46 252.96 L355.81 253.51 L356.16 254.03 L356.53 254.54 L356.91 255.02 L357.3 255.48 L357.71 255.92 L358.15 256.36 L358.61 256.78 L359.09 257.21 L359.6 257.62 L360.13 258.03 L360.67 258.42 L361.23 258.81 L361.81 259.18 L362.39 259.53 L362.97 259.87 L363.57 260.19 L364.16 260.5 L364.76 260.78 L365.35 261.04 L365.94 261.28 L366.53 261.5 L367.13 261.71 L367.73 261.92 L368.35 262.12 L368.97 262.31 L369.6 262.49 L370.23 262.67 L370.87 262.84 L371.51 263 L372.16 263.16 L372.8 263.3 L373.45 263.44 L374.1 263.57 L374.75 263.69 L375.39 263.81 L376.04 263.91 L376.68 264.01 L377.32 264.1 L377.96 264.19 L378.6 264.28 L379.25 264.37 L379.89 264.45 L380.54 264.53 L381.18 264.61 L381.83 264.68 L382.48 264.75 L383.13 264.82 L383.78 264.89 L384.43 264.96 L385.08 265.02 L385.73 265.08 L386.38 265.14 L387.03 265.2 L387.68 265.26 L388.33 265.31 L388.98 265.37 L389.64 265.42 L390.29 265.47 L390.94 265.52 L391.59 265.57 L392.24 265.61 L392.9 265.66 L393.55 265.7 L394.2 265.75 L394.85 265.79 L395.5 265.83 L396.15 265.87 L396.8 265.91 L397.45 265.96 L398.1 266 L398.75 266.04 L399.4 266.08 L400.05 266.12 L400.7 266.16 L401.35 266.19 L402 266.23 L402.65 266.27 L403.3 266.31 L403.95 266.34 L404.61 266.38 L405.26 266.42 L405.91 266.45 L406.56 266.48 L407.21 266.52 L407.86 266.55 L408.51 266.58 L409.16 266.61 L409.81 266.64 L410.47 266.67 L411.12 266.7 L411.77 266.73 L412.42 266.76 L413.07 266.78 L413.72 266.81 L414.38 266.83 L415.03 266.85 L415.68 266.87 L416.33 266.89 L416.99 266.91 L417.64 266.93 L418.29 266.95 L418.94 266.96 L419.59 266.98 L420.25 266.99 L420.9 267" stroke="#000" stroke-width="1.6" fill="none" stroke-linejoin="round"/>
<text x="349" y="236.8" font-size="9.6" text-anchor="start" fill="#000" stroke="#000">X-ray on</text>
<text x="319.2" y="261.5" font-size="9.6" text-anchor="start" fill="#ff0000" stroke="#ff0000">X-ray off</text>
<defs>
<linearGradient id="gtop" x1="16" y1="0" x2="167" y2="0" gradientUnits="userSpaceOnUse">
<stop offset="0" stop-color="#1ea2e4"/><stop offset="0.55" stop-color="#52b8ea"/><stop offset="1" stop-color="#a4daf5"/></linearGradient>
<linearGradient id="gsa" x1="124" y1="0" x2="167" y2="0" gradientUnits="userSpaceOnUse">
<stop offset="0" stop-color="#10a0e4"/><stop offset="0.5" stop-color="#6cc3ee"/><stop offset="1" stop-color="#eef8fd"/></linearGradient>
<linearGradient id="gss" x1="124" y1="0" x2="167" y2="0" gradientUnits="userSpaceOnUse">
<stop offset="0" stop-color="#b2508e"/><stop offset="0.5" stop-color="#d690bc"/><stop offset="1" stop-color="#faf0f6"/></linearGradient>
<linearGradient id="gsi" x1="124" y1="0" x2="167" y2="0" gradientUnits="userSpaceOnUse">
<stop offset="0" stop-color="#c8c8c8"/><stop offset="1" stop-color="#f8f8f8"/></linearGradient>
</defs>
<path d="M123.8 72.3 L166.7 44.4 L166.7 63.7 L123.8 94.2Z" stroke="none" stroke-width="0" fill="url(#gsa)"/>
<path d="M123.8 94.2 L166.7 63.7 L166.7 79.5 L123.8 110.2Z" stroke="none" stroke-width="0" fill="url(#gss)"/>
<path d="M123.8 110.2 L166.7 79.5 L166.7 95.3 L123.8 124.3Z" stroke="none" stroke-width="0" fill="url(#gsi)"/>
<path d="M16.6 72.3 L70.1 43.9 L166.7 44.4 L123.8 72.3Z" stroke="none" stroke-width="0" fill="url(#gtop)"/>
<rect x="16.6" y="72.3" width="107.2" height="21.9" fill="#05a0e4"/>
<rect x="16.6" y="94.2" width="107.2" height="16" fill="#ae4a89"/>
<rect x="16.6" y="110.2" width="107.2" height="14.1" fill="#b3b3b3"/>
<path d="M22.6 93.6 L22.6 88.6 L23.5 87.7 L35.2 87.7 L37.2 90.2 L104.5 90.2 L106.5 87.7 L117.8 87.7 L118.8 88.6 L118.8 93.6Z" stroke="none" stroke-width="0" fill="#000"/>
<rect x="24.2" y="91.0" width="10.4" height="2.2" fill="#ffee00"/>
<rect x="105.6" y="91.0" width="11.0" height="2.2" fill="#ffee00"/>
<path d="M16.6 72.3 L70.1 43.9 L166.7 44.4 L166.7 95.3 L123.8 124.3 L16.6 124.3Z" stroke="#111" stroke-width="1.1" fill="none" stroke-linejoin="round"/>
<line x1="16.6" y1="72.3" x2="123.8" y2="72.3" stroke="#111" stroke-width="1.1"/>
<line x1="123.8" y1="72.3" x2="166.7" y2="44.4" stroke="#111" stroke-width="1.1"/>
<line x1="16.6" y1="94.2" x2="123.8" y2="94.2" stroke="#111" stroke-width="1.1"/>
<line x1="123.8" y1="94.2" x2="166.7" y2="63.7" stroke="#111" stroke-width="1.1"/>
<line x1="16.6" y1="110.2" x2="123.8" y2="110.2" stroke="#111" stroke-width="1.1"/>
<line x1="123.8" y1="110.2" x2="166.7" y2="79.5" stroke="#111" stroke-width="1.1"/>
<line x1="123.8" y1="72.3" x2="123.8" y2="124.3" stroke="#111" stroke-width="1.1"/>
<line x1="38.4" y1="39.8" x2="51" y2="89.5" stroke="#000" stroke-width="0.9"/>
<line x1="23.2" y1="57" x2="29" y2="88" stroke="#000" stroke-width="0.9"/>
<path d="M58.2 35.2 L58 35.38 L57.8 35.55 L57.6 35.73 L57.41 35.91 L57.21 36.1 L57.03 36.3 L56.86 36.5 L56.7 36.71 L56.55 36.94 L56.43 37.18 L56.34 37.43 L56.31 37.69 L56.31 37.96 L56.36 38.22 L56.45 38.47 L56.58 38.71 L56.73 38.93 L56.89 39.14 L57.07 39.35 L57.26 39.54 L57.45 39.73 L57.64 39.91 L57.84 40.09 L58.04 40.26 L58.24 40.44 L58.44 40.61 L58.64 40.79 L58.84 40.97 L59.04 41.15 L59.23 41.34 L59.41 41.54 L59.58 41.74 L59.74 41.96 L59.88 42.19 L59.99 42.43 L60.07 42.69 L60.09 42.95 L60.09 43.22 L60.02 43.48 L59.92 43.73 L59.79 43.96 L59.64 44.18 L59.47 44.39 L59.29 44.59 L59.1 44.78 L58.91 44.96 L58.71 45.15 L58.52 45.32 L58.31 45.5 L58.11 45.68 L57.91 45.85 L57.71 46.03 L57.52 46.21 L57.32 46.39 L57.13 46.59 L56.95 46.78 L56.79 46.99 L56.63 47.21 L56.5 47.44 L56.39 47.69 L56.32 47.94 L56.31 48.21 L56.32 48.48 L56.4 48.73 L56.51 48.98 L56.64 49.21 L56.8 49.43 L56.97 49.63 L57.15 49.83 L57.34 50.02 L57.53 50.2 L57.73 50.38 L57.93 50.56 L58.13 50.74 L58.33 50.91 L58.53 51.09 L58.73 51.27 L58.93 51.45 L59.12 51.64 L59.3 51.83 L59.48 52.03 L59.65 52.24 L59.8 52.46 L59.93 52.69 L60.03 52.94 L60.09 53.2 L60.09 53.47 L60.07 53.73 L59.98 53.99 L59.87 54.23 L59.73 54.46 L59.57 54.67 L59.39 54.88 L59.21 55.07 L59.02 55.26 L58.83 55.44 L58.63 55.62 L58.39 55.79 L58.2 55.97 L58.2 56.18 L58.2 56.38 L58.2 56.6 L58.2 56.82 L58.2 57.04 L58.21 57.27 L58.21 57.51 L58.22 57.75 L58.23 58.01 L58.24 58.26 L58.25 58.53 L58.26 58.8 L58.28 59.09 L58.3 59.37 L58.33 59.67 L58.35 59.98 L58.38 60.3 L58.42 60.62 L58.46 60.96 L58.5 61.3" stroke="#000" stroke-width="0.9" fill="none" stroke-linecap="round"/>
<path d="M58.5 67 L56.1 60.8 L60.9 60.8Z" stroke="none" stroke-width="0" fill="#000"/>
<path d="M88 23.2 L87.8 23.39 L87.6 23.57 L87.4 23.77 L87.21 23.96 L87.02 24.16 L86.84 24.37 L86.67 24.58 L86.51 24.81 L86.38 25.05 L86.28 25.31 L86.21 25.58 L86.21 25.85 L86.23 26.12 L86.31 26.39 L86.43 26.64 L86.57 26.87 L86.73 27.1 L86.9 27.31 L87.09 27.51 L87.29 27.7 L87.48 27.89 L87.69 28.08 L87.89 28.26 L88.1 28.44 L88.31 28.62 L88.52 28.8 L88.72 28.98 L88.93 29.17 L89.13 29.36 L89.32 29.55 L89.51 29.75 L89.68 29.97 L89.84 30.19 L89.98 30.43 L90.09 30.68 L90.17 30.94 L90.19 31.22 L90.18 31.49 L90.12 31.76 L90.01 32.01 L89.88 32.25 L89.72 32.48 L89.55 32.7 L89.37 32.9 L89.18 33.1 L88.99 33.3 L88.79 33.49 L88.59 33.68 L88.39 33.86 L88.19 34.05 L87.99 34.24 L87.79 34.43 L87.59 34.62 L87.4 34.82 L87.23 35.03 L87.06 35.25 L86.9 35.48 L86.77 35.72 L86.67 35.98 L86.61 36.24 L86.61 36.52 L86.63 36.79 L86.72 37.05 L86.83 37.3 L86.98 37.54 L87.14 37.76 L87.32 37.97 L87.5 38.17 L87.7 38.37 L87.9 38.56 L88.1 38.74 L88.31 38.92 L88.52 39.1 L88.72 39.28 L88.93 39.46 L89.14 39.64 L89.34 39.83 L89.54 40.02 L89.73 40.21 L89.92 40.42 L90.09 40.63 L90.25 40.85 L90.39 41.09 L90.5 41.34 L90.58 41.61 L90.59 41.88 L90.58 42.16 L90.51 42.42 L90.4 42.68 L90.27 42.92 L90.11 43.14 L89.94 43.36 L89.76 43.57 L89.57 43.76 L89.38 43.96 L89.18 44.15 L88.93 44.33 L88.8 44.53 L88.8 44.74 L88.8 44.96 L88.8 45.18 L88.8 45.41 L88.8 45.65 L88.81 45.89 L88.81 46.13 L88.82 46.38 L88.82 46.64 L88.83 46.9 L88.84 47.18 L88.86 47.45 L88.87 47.74 L88.89 48.03 L88.91 48.33 L88.93 48.64 L88.96 48.95 L88.99 49.28 L89.02 49.61 L89.06 49.95 L89.1 50.3" stroke="#000" stroke-width="0.9" fill="none" stroke-linecap="round"/>
<path d="M89.1 56 L86.7 49.8 L91.5 49.8Z" stroke="none" stroke-width="0" fill="#000"/>
<path d="M129.8 28.5 L129.6 28.67 L129.4 28.84 L129.2 29.01 L129 29.19 L128.81 29.37 L128.62 29.56 L128.45 29.76 L128.28 29.97 L128.14 30.19 L128.02 30.43 L127.93 30.68 L127.91 30.94 L127.91 31.2 L127.98 31.46 L128.08 31.7 L128.22 31.93 L128.37 32.15 L128.54 32.35 L128.72 32.54 L128.91 32.73 L129.11 32.91 L129.31 33.08 L129.51 33.25 L129.71 33.42 L129.91 33.59 L130.11 33.76 L130.31 33.94 L130.51 34.11 L130.71 34.29 L130.89 34.48 L131.08 34.67 L131.24 34.87 L131.4 35.09 L131.53 35.32 L131.63 35.56 L131.69 35.82 L131.69 36.09 L131.66 36.35 L131.57 36.6 L131.45 36.83 L131.3 37.05 L131.14 37.26 L130.96 37.46 L130.77 37.65 L130.58 37.83 L130.38 38 L130.18 38.18 L129.98 38.35 L129.78 38.52 L129.58 38.69 L129.38 38.86 L129.18 39.03 L128.98 39.21 L128.79 39.39 L128.6 39.58 L128.43 39.78 L128.27 39.99 L128.13 40.21 L128.01 40.45 L127.93 40.71 L127.91 40.97 L127.92 41.23 L127.99 41.49 L128.1 41.73 L128.23 41.96 L128.39 42.17 L128.56 42.37 L128.74 42.56 L128.93 42.75 L129.13 42.93 L129.33 43.1 L129.53 43.27 L129.73 43.44 L129.93 43.61 L130.14 43.78 L130.34 43.95 L130.53 44.13 L130.73 44.31 L130.91 44.5 L131.09 44.69 L131.26 44.9 L131.41 45.11 L131.54 45.34 L131.64 45.59 L131.69 45.85 L131.69 46.11 L131.65 46.37 L131.56 46.62 L131.43 46.86 L131.28 47.08 L131.12 47.28 L130.94 47.48 L130.75 47.66 L130.56 47.85 L130.36 48.02 L130.16 48.19 L129.9 48.36 L129.8 48.54 L129.8 48.74 L129.8 48.94 L129.8 49.15 L129.8 49.37 L129.8 49.59 L129.81 49.82 L129.81 50.05 L129.82 50.29 L129.82 50.54 L129.83 50.79 L129.84 51.05 L129.86 51.32 L129.87 51.59 L129.89 51.88 L129.91 52.17 L129.93 52.47 L129.96 52.78 L129.99 53.09 L130.02 53.42 L130.06 53.76 L130.1 54.1" stroke="#000" stroke-width="0.9" fill="none" stroke-linecap="round"/>
<path d="M130.1 59.8 L127.7 53.6 L132.5 53.6Z" stroke="none" stroke-width="0" fill="#000"/>
<text x="1" y="9.4" font-size="9.8" text-anchor="start" fill="#000" stroke="#000">(a)</text>
<text x="73.4" y="19.4" font-size="9.8" text-anchor="start" fill="#000" stroke="#000">X-rays</text>
<text x="5.6" y="34.4" font-size="9.9" text-anchor="start" fill="#000" stroke="#000">Graphene</text>
<text x="9.8" y="53.6" font-size="9.9" text-anchor="start" fill="#000" stroke="#000">Ti/Au</text>
<text x="61.5" y="106.6" font-size="10" text-anchor="start" fill="#111" stroke="#111">SiO<tspan font-size="6.2" dy="2.6">2</tspan></text>
<text x="63.8" y="121.2" font-size="10" text-anchor="start" fill="#111" stroke="#111">Si</text>
<text x="136.8" y="75.2" font-size="10" transform="rotate(-31 136.8 75.2)" fill="#111" stroke="#111">Al<tspan font-size="6.2" dy="2.6">2</tspan><tspan dy="-2.6">O</tspan><tspan font-size="6.2" dy="2.6">3</tspan></text>
<path d="M533.5 168.6 L546 187 L557.5 205 L564.5 220 L569 234 L569 294 L533.5 236Z" stroke="none" stroke-width="0" fill="#8e8e8e"/>
<path d="M436.8 236.8 L436.8 173.97 L437.71 173.53 L438.61 173.18 L439.52 172.91 L440.42 172.73 L441.33 172.63 L442.23 172.61 L443.14 172.68 L444.04 172.83 L444.95 173.07 L445.85 173.4 L446.76 173.8 L447.66 174.28 L448.57 174.84 L449.47 175.47 L450.38 176.17 L451.28 176.93 L452.19 177.76 L453.09 178.64 L454 179.58 L454.9 180.56 L455.81 181.59 L456.71 182.66 L457.62 183.75 L458.52 184.88 L459.43 186.04 L460.33 187.21 L461.24 188.4 L462.14 189.6 L463.05 190.81 L463.95 192.03 L464.86 193.24 L465.76 194.45 L466.67 195.66 L467.57 196.86 L468.48 198.04 L469.38 199.22 L470.29 200.37 L471.19 201.51 L472.1 202.63 L473 203.73 L473.91 204.81 L474.81 205.87 L475.72 206.9 L476.62 207.9 L477.53 208.88 L478.43 209.84 L479.34 210.77 L480.24 211.67 L481.15 212.55 L482.05 213.4 L482.96 214.23 L483.86 215.03 L484.77 215.8 L485.67 216.55 L486.58 217.28 L487.48 217.98 L488.39 218.65 L489.29 219.3 L490.2 219.93 L491.1 220.54 L492.01 221.13 L492.91 221.69 L493.82 222.24 L494.72 222.76 L495.63 223.27 L496.53 223.75 L497.44 224.22 L498.34 224.67 L499.25 225.11 L500.15 225.53 L501.06 225.93 L501.96 226.31 L502.87 226.69 L503.77 227.04 L504.68 227.39 L505.58 227.72 L506.49 228.04 L507.39 228.35 L508.3 228.64 L509.2 228.92 L510.11 229.2 L511.01 229.46 L511.92 229.71 L512.82 229.96 L513.73 230.19 L514.63 230.41 L515.54 230.63 L516.44 230.84 L517.35 231.04 L518.25 231.23 L519.16 231.42 L520.06 231.6 L520.97 231.77 L521.87 231.94 L522.78 232.1 L523.68 232.25 L524.59 232.4 L525.49 232.54 L526.4 232.68 L527.3 232.81 L528.21 232.94 L529.11 233.06 L530.02 233.18 L530.92 233.3 L531.83 233.41 L532.73 233.51 L533.64 233.62 L534.54 233.72 L535.45 233.81 L536.35 233.91 L537.26 233.99 L538.16 234.08 L539.07 234.16 L539.97 234.24 L540.88 234.32 L541.78 234.4 L542.69 234.47 L543.59 234.54 L544.5 234.61 L545.4 234.67 L546.31 234.74 L547.21 234.8 L548.12 234.86 L549.02 234.92 L549.93 234.97 L550.83 235.03 L551.74 235.08 L552.64 235.13 L553.55 235.18 L554.45 235.22 L555.36 235.27 L556.26 235.31 L557.17 235.36 L558.07 235.4 L558.98 235.44 L559.88 235.48 L560.79 235.52 L561.69 235.55 L562.6 235.59 L563.5 235.62 L564.41 235.66 L565.31 235.69 L566.22 235.72 L567.12 235.75 L568.03 235.78 L568.93 235.81 L569.84 235.84 L570.74 235.87 L571.65 235.89 L572.55 235.92 L573.46 235.95 L574.36 235.97 L575.27 235.99 L576.17 236.02 L577.08 236.04 L577.98 236.06 L578.89 236.08 L579.79 236.1 L580.7 236.12 L581.6 236.14 L582.51 236.16 L583.41 236.18 L584.32 236.2 L585.22 236.22 L586.13 236.23 L587.03 236.25 L587.94 236.27 L588.84 236.28 L589.75 236.3 L590.65 236.31 L591.56 236.33 L592.46 236.34 L593.37 236.36 L594.27 236.37 L595.18 236.38 L596.08 236.4 L596.99 236.41 L597.89 236.42 L598.8 236.43 L599.7 236.45 L600.61 236.46 L601.51 236.47 L602.42 236.48 L603.32 236.49 L604.23 236.5 L605.13 236.51 L606.04 236.52 L606.94 236.53 L607.85 236.54 L608.75 236.55 L609.66 236.56 L610.56 236.57 L611.47 236.58 L612.37 236.59 L613.28 236.6 L614.18 236.6 L615.09 236.61 L615.99 236.62 L616.9 236.63 L617.8 236.64 L618.71 236.64 L619.61 236.65 L620.52 236.66 L621.42 236.66 L622.33 236.67 L623.23 236.68 L624.14 236.68 L625.04 236.69 L625.95 236.7 L626.85 236.7 L627.76 236.71 L628.66 236.72 L629.57 236.72 L630.47 236.73 L631.38 236.73 L632.28 236.74 L633.19 236.74 L634.09 236.75 L635 236.75 L635 237" stroke="#000" stroke-width="1.1" fill="none" stroke-linejoin="round"/>
<path d="M440.04 242.24 L440.04 226.11 L440.95 225.86 L441.85 225.6 L442.76 225.32 L443.66 225.03 L444.57 224.73 L445.47 224.41 L446.38 224.08 L447.28 223.73 L448.19 223.36 L449.09 222.98 L450 222.58 L450.9 222.17 L451.81 221.73 L452.71 221.28 L453.62 220.8 L454.52 220.31 L455.43 219.8 L456.33 219.26 L457.24 218.7 L458.14 218.12 L459.05 217.52 L459.95 216.9 L460.86 216.25 L461.76 215.57 L462.67 214.87 L463.57 214.15 L464.48 213.4 L465.38 212.63 L466.29 211.83 L467.19 211.01 L468.1 210.16 L469 209.29 L469.91 208.39 L470.81 207.46 L471.72 206.52 L472.62 205.55 L473.53 204.55 L474.43 203.54 L475.34 202.5 L476.24 201.45 L477.15 200.38 L478.05 199.3 L478.96 198.2 L479.86 197.09 L480.77 195.97 L481.67 194.84 L482.58 193.71 L483.48 192.58 L484.39 191.46 L485.29 190.34 L486.2 189.23 L487.1 188.14 L488.01 187.06 L488.91 186 L489.82 184.98 L490.72 183.98 L491.63 183.02 L492.53 182.1 L493.44 181.22 L494.34 180.39 L495.25 179.62 L496.15 178.9 L497.06 178.25 L497.96 177.66 L498.87 177.13 L499.77 176.68 L500.68 176.31 L501.58 176.01 L502.49 175.79 L503.39 175.65 L504.3 175.59 L505.2 175.62 L506.11 175.73 L507.01 175.92 L507.92 176.2 L508.82 176.55 L509.73 176.99 L510.63 177.5 L511.54 178.08 L512.44 178.74 L513.35 179.47 L514.25 180.26 L515.16 181.12 L516.06 182.03 L516.97 183 L517.87 184.01 L518.78 185.08 L519.68 186.18 L520.59 187.31 L521.49 188.48 L522.4 189.68 L523.3 190.9 L524.21 192.13 L525.11 193.38 L526.02 194.65 L526.92 195.92 L527.83 197.19 L528.73 198.46 L529.64 199.7 L530.54 200.89 L531.45 202.07 L532.35 203.25 L533.26 204.41 L534.16 205.55 L535.07 206.68 L535.97 207.79 L536.88 208.88 L537.78 209.95 L538.69 210.99 L539.59 212.01 L540.5 213.01 L541.4 213.99 L542.31 214.94 L543.21 215.86 L544.12 216.76 L545.02 217.63 L545.93 218.48 L546.83 219.31 L547.74 220.1 L548.64 220.88 L549.55 221.63 L550.45 222.35 L551.36 223.05 L552.26 223.73 L553.17 224.38 L554.07 225.02 L554.98 225.63 L555.88 226.22 L556.79 226.79 L557.69 227.33 L558.6 227.86 L559.5 228.37 L560.41 228.86 L561.31 229.34 L562.22 229.79 L563.12 230.23 L564.03 230.66 L564.93 231.07 L565.84 231.46 L566.74 231.84 L567.65 232.2 L568.55 232.55 L569.46 232.89 L570.36 233.21 L571.27 233.53 L572.17 233.83 L573.08 234.12 L573.98 234.4 L574.89 234.66 L575.79 234.92 L576.7 235.17 L577.6 235.41 L578.51 235.64 L579.41 235.86 L580.32 236.08 L581.22 236.28 L582.13 236.48 L583.03 236.67 L583.94 236.86 L584.84 237.04 L585.75 237.21 L586.65 237.37 L587.56 237.53 L588.46 237.68 L589.37 237.83 L590.27 237.97 L591.18 238.11 L592.08 238.24 L592.99 238.37 L593.89 238.5 L594.8 238.61 L595.7 238.73 L596.61 238.84 L597.51 238.95 L598.42 239.05 L599.32 239.15 L600.23 239.25 L601.13 239.34 L602.04 239.43 L602.94 239.52 L603.85 239.6 L604.75 239.68 L605.66 239.76 L606.56 239.84 L607.47 239.91 L608.37 239.98 L609.28 240.05 L610.18 240.11 L611.09 240.18 L611.99 240.24 L612.9 240.3 L613.8 240.36 L614.71 240.42 L615.61 240.47 L616.52 240.52 L617.42 240.57 L618.33 240.62 L619.23 240.67 L620.14 240.72 L621.04 240.76 L621.95 240.81 L622.85 240.85 L623.76 240.89 L624.66 240.93 L625.57 240.97 L626.47 241.01 L627.38 241.04 L628.28 241.08 L629.19 241.11 L630.09 241.15 L631 241.18 L631.9 241.21 L632.81 241.24 L633.71 241.27 L634.62 241.3 L635.52 241.33 L636.43 241.36 L637.33 241.38 L638.24 241.41 L638.24 242.44" stroke="#000" stroke-width="1.1" fill="none" stroke-linejoin="round"/>
<path d="M441.66 244.96 L441.66 242.71 L442.57 242.64 L443.47 242.57 L444.38 242.5 L445.28 242.43 L446.19 242.35 L447.09 242.27 L448 242.18 L448.9 242.09 L449.81 242 L450.71 241.91 L451.62 241.81 L452.52 241.71 L453.43 241.6 L454.33 241.49 L455.24 241.37 L456.14 241.26 L457.05 241.13 L457.95 241 L458.86 240.87 L459.76 240.73 L460.67 240.58 L461.57 240.43 L462.48 240.28 L463.38 240.11 L464.29 239.94 L465.19 239.76 L466.1 239.58 L467 239.39 L467.91 239.19 L468.81 238.98 L469.72 238.76 L470.62 238.54 L471.53 238.3 L472.43 238.06 L473.34 237.8 L474.24 237.54 L475.15 237.26 L476.05 236.97 L476.96 236.67 L477.86 236.36 L478.77 236.03 L479.67 235.69 L480.58 235.33 L481.48 234.96 L482.39 234.58 L483.29 234.18 L484.2 233.76 L485.1 233.33 L486.01 232.87 L486.91 232.4 L487.82 231.91 L488.72 231.4 L489.63 230.86 L490.53 230.31 L491.44 229.73 L492.34 229.14 L493.25 228.51 L494.15 227.87 L495.06 227.19 L495.96 226.5 L496.87 225.77 L497.77 225.02 L498.68 224.24 L499.58 223.44 L500.49 222.6 L501.39 221.74 L502.3 220.85 L503.2 219.93 L504.11 218.98 L505.01 218 L505.92 216.99 L506.82 215.95 L507.73 214.89 L508.63 213.8 L509.54 212.68 L510.44 211.54 L511.35 210.37 L512.25 209.18 L513.16 207.97 L514.06 206.75 L514.97 205.5 L515.87 204.24 L516.78 202.98 L517.68 201.7 L518.59 200.42 L519.49 199.14 L520.4 197.87 L521.3 196.6 L522.21 195.35 L523.11 194.11 L524.02 192.9 L524.92 191.72 L525.83 190.57 L526.73 189.46 L527.64 188.4 L528.54 187.38 L529.45 186.42 L530.35 185.52 L531.26 184.69 L532.16 183.93 L533.07 183.24 L533.97 182.64 L534.88 182.12 L535.78 181.68 L536.69 181.34 L537.59 181.08 L538.5 180.92 L539.4 180.86 L540.31 180.89 L541.21 181.02 L542.12 181.24 L543.02 181.55 L543.93 181.95 L544.83 182.45 L545.74 183.02 L546.64 183.68 L547.55 184.42 L548.45 185.22 L549.36 186.1 L550.26 187.04 L551.17 188.04 L552.07 189.08 L552.98 190.18 L553.88 191.32 L554.79 192.49 L555.69 193.69 L556.6 194.92 L557.5 196.17 L558.41 197.43 L559.31 198.71 L560.22 199.99 L561.12 201.27 L562.03 202.55 L562.93 203.82 L563.84 205.08 L564.74 206.34 L565.65 207.57 L566.55 208.79 L567.46 209.99 L568.36 211.17 L569.27 212.32 L570.17 213.45 L571.08 214.55 L571.98 215.63 L572.89 216.68 L573.79 217.7 L574.7 218.69 L575.6 219.65 L576.51 220.58 L577.41 221.49 L578.32 222.36 L579.22 223.21 L580.13 224.03 L581.03 224.82 L581.94 225.58 L582.84 226.32 L583.75 227.03 L584.65 227.71 L585.56 228.37 L586.46 229 L587.37 229.61 L588.27 230.2 L589.18 230.76 L590.08 231.3 L590.99 231.82 L591.89 232.33 L592.8 232.81 L593.7 233.27 L594.61 233.71 L595.51 234.14 L596.42 234.55 L597.32 234.94 L598.23 235.32 L599.13 235.68 L600.04 236.03 L600.94 236.36 L601.85 236.68 L602.75 236.99 L603.66 237.28 L604.56 237.57 L605.47 237.84 L606.37 238.1 L607.28 238.35 L608.18 238.59 L609.09 238.82 L609.99 239.04 L610.9 239.26 L611.8 239.46 L612.71 239.66 L613.61 239.85 L614.52 240.03 L615.42 240.2 L616.33 240.37 L617.23 240.53 L618.14 240.69 L619.04 240.84 L619.95 240.98 L620.85 241.12 L621.76 241.25 L622.66 241.38 L623.57 241.5 L624.47 241.62 L625.38 241.73 L626.28 241.84 L627.19 241.95 L628.09 242.05 L629 242.15 L629.9 242.24 L630.81 242.33 L631.71 242.42 L632.62 242.5 L633.52 242.59 L634.43 242.66 L635.33 242.74 L636.24 242.81 L637.14 242.88 L638.05 242.95 L638.95 243.02 L639.86 243.08 L639.86 245.16" stroke="#000" stroke-width="1.1" fill="none" stroke-linejoin="round"/>
<path d="M443.28 247.68 L443.28 245.72 L444.19 245.69 L445.09 245.66 L446 245.62 L446.9 245.59 L447.81 245.55 L448.71 245.51 L449.62 245.47 L450.52 245.43 L451.43 245.39 L452.33 245.34 L453.24 245.29 L454.14 245.25 L455.05 245.2 L455.95 245.14 L456.86 245.09 L457.76 245.03 L458.67 244.97 L459.57 244.91 L460.48 244.85 L461.38 244.78 L462.29 244.71 L463.19 244.64 L464.1 244.56 L465 244.49 L465.91 244.41 L466.81 244.32 L467.72 244.23 L468.62 244.14 L469.53 244.05 L470.43 243.95 L471.34 243.85 L472.24 243.74 L473.15 243.63 L474.05 243.51 L474.96 243.39 L475.86 243.27 L476.77 243.14 L477.67 243 L478.58 242.86 L479.48 242.71 L480.39 242.56 L481.29 242.4 L482.2 242.23 L483.1 242.05 L484.01 241.87 L484.91 241.68 L485.82 241.49 L486.72 241.28 L487.63 241.07 L488.53 240.84 L489.44 240.61 L490.34 240.37 L491.25 240.11 L492.15 239.85 L493.06 239.57 L493.96 239.29 L494.87 238.99 L495.77 238.67 L496.68 238.35 L497.58 238.01 L498.49 237.66 L499.39 237.29 L500.3 236.9 L501.2 236.5 L502.11 236.08 L503.01 235.65 L503.92 235.19 L504.82 234.72 L505.73 234.23 L506.63 233.72 L507.54 233.18 L508.44 232.63 L509.35 232.05 L510.25 231.45 L511.16 230.82 L512.06 230.18 L512.97 229.5 L513.87 228.8 L514.78 228.07 L515.68 227.32 L516.59 226.54 L517.49 225.73 L518.4 224.89 L519.3 224.02 L520.21 223.12 L521.11 222.2 L522.02 221.24 L522.92 220.26 L523.83 219.25 L524.73 218.2 L525.64 217.13 L526.54 216.03 L527.45 214.91 L528.35 213.76 L529.26 212.59 L530.16 211.39 L531.07 210.17 L531.97 208.94 L532.88 207.69 L533.78 206.42 L534.69 205.15 L535.59 203.86 L536.5 202.58 L537.4 201.29 L538.31 200.01 L539.21 198.74 L540.12 197.48 L541.02 196.24 L541.93 195.02 L542.83 193.83 L543.74 192.68 L544.64 191.56 L545.55 190.5 L546.45 189.48 L547.36 188.52 L548.26 187.62 L549.17 186.79 L550.07 186.03 L550.98 185.34 L551.88 184.74 L552.79 184.22 L553.69 183.79 L554.6 183.45 L555.5 183.2 L556.41 183.05 L557.31 183 L558.22 183.03 L559.12 183.16 L560.03 183.38 L560.93 183.69 L561.84 184.1 L562.74 184.59 L563.65 185.17 L564.55 185.83 L565.46 186.56 L566.36 187.37 L567.27 188.25 L568.17 189.19 L569.08 190.19 L569.98 191.24 L570.89 192.34 L571.79 193.47 L572.7 194.65 L573.6 195.85 L574.51 197.08 L575.41 198.32 L576.32 199.59 L577.22 200.86 L578.13 202.14 L579.03 203.42 L579.94 204.69 L580.84 205.96 L581.75 207.22 L582.65 208.47 L583.56 209.7 L584.46 210.91 L585.37 212.1 L586.27 213.27 L587.18 214.42 L588.08 215.54 L588.99 216.63 L589.89 217.7 L590.8 218.74 L591.7 219.75 L592.61 220.73 L593.51 221.68 L594.42 222.6 L595.32 223.5 L596.23 224.36 L597.13 225.19 L598.04 226 L598.94 226.77 L599.85 227.52 L600.75 228.24 L601.66 228.94 L602.56 229.6 L603.47 230.25 L604.37 230.86 L605.28 231.45 L606.18 232.02 L607.09 232.57 L607.99 233.09 L608.9 233.6 L609.8 234.08 L610.71 234.54 L611.61 234.98 L612.52 235.41 L613.42 235.81 L614.33 236.2 L615.23 236.57 L616.14 236.93 L617.04 237.27 L617.95 237.59 L618.85 237.9 L619.76 238.2 L620.66 238.49 L621.57 238.76 L622.47 239.02 L623.38 239.27 L624.28 239.5 L625.19 239.73 L626.09 239.95 L627 240.15 L627.9 240.35 L628.81 240.54 L629.71 240.72 L630.62 240.89 L631.52 241.05 L632.43 241.21 L633.33 241.36 L634.24 241.5 L635.14 241.63 L636.05 241.76 L636.95 241.88 L637.86 242 L638.76 242.11 L639.67 242.21 L640.57 242.31 L641.48 242.41 L641.48 247.88" stroke="#000" stroke-width="1.1" fill="none" stroke-linejoin="round"/>
<path d="M444.9 250.4 L444.9 248.12 L445.81 248.11 L446.71 248.09 L447.62 248.07 L448.52 248.05 L449.43 248.02 L450.33 248 L451.24 247.98 L452.14 247.95 L453.05 247.92 L453.95 247.9 L454.86 247.87 L455.76 247.84 L456.67 247.81 L457.57 247.77 L458.48 247.74 L459.38 247.7 L460.29 247.66 L461.19 247.62 L462.1 247.58 L463 247.54 L463.91 247.5 L464.81 247.45 L465.72 247.4 L466.62 247.35 L467.53 247.3 L468.43 247.24 L469.34 247.19 L470.24 247.13 L471.15 247.06 L472.05 247 L472.96 246.93 L473.86 246.86 L474.77 246.79 L475.67 246.71 L476.58 246.63 L477.48 246.54 L478.39 246.46 L479.29 246.37 L480.2 246.27 L481.1 246.17 L482.01 246.07 L482.91 245.96 L483.82 245.85 L484.72 245.73 L485.63 245.61 L486.53 245.49 L487.44 245.35 L488.34 245.22 L489.25 245.07 L490.15 244.92 L491.06 244.76 L491.96 244.6 L492.87 244.43 L493.77 244.25 L494.68 244.07 L495.58 243.87 L496.49 243.67 L497.39 243.46 L498.3 243.24 L499.2 243.01 L500.11 242.77 L501.01 242.52 L501.92 242.26 L502.82 241.99 L503.73 241.71 L504.63 241.41 L505.54 241.1 L506.44 240.78 L507.35 240.45 L508.25 240.1 L509.16 239.73 L510.06 239.35 L510.97 238.95 L511.87 238.54 L512.78 238.11 L513.68 237.66 L514.59 237.19 L515.49 236.7 L516.4 236.19 L517.3 235.66 L518.21 235.11 L519.11 234.53 L520.02 233.94 L520.92 233.31 L521.83 232.67 L522.73 232 L523.64 231.3 L524.54 230.57 L525.45 229.82 L526.35 229.04 L527.26 228.23 L528.16 227.4 L529.07 226.53 L529.97 225.64 L530.88 224.71 L531.78 223.76 L532.69 222.78 L533.59 221.76 L534.5 220.72 L535.4 219.65 L536.31 218.55 L537.21 217.43 L538.12 216.27 L539.02 215.1 L539.93 213.9 L540.83 212.68 L541.74 211.44 L542.64 210.18 L543.55 208.91 L544.45 207.63 L545.36 206.34 L546.26 205.05 L547.17 203.75 L548.07 202.46 L548.98 201.18 L549.88 199.91 L550.79 198.66 L551.69 197.43 L552.6 196.23 L553.5 195.06 L554.41 193.93 L555.31 192.85 L556.22 191.82 L557.12 190.84 L558.03 189.92 L558.93 189.07 L559.84 188.29 L560.74 187.59 L561.65 186.97 L562.55 186.44 L563.46 185.99 L564.36 185.63 L565.27 185.37 L566.17 185.2 L567.08 185.13 L567.98 185.14 L568.89 185.25 L569.79 185.45 L570.7 185.74 L571.6 186.12 L572.51 186.59 L573.41 187.15 L574.32 187.79 L575.22 188.5 L576.13 189.3 L577.03 190.15 L577.94 191.08 L578.84 192.06 L579.75 193.1 L580.65 194.18 L581.56 195.3 L582.46 196.46 L583.37 197.66 L584.27 198.87 L585.18 200.11 L586.08 201.36 L586.99 202.63 L587.89 203.9 L588.8 205.17 L589.7 206.44 L590.61 207.7 L591.51 208.95 L592.42 210.19 L593.32 211.42 L594.23 212.62 L595.13 213.81 L596.04 214.97 L596.94 216.11 L597.85 217.23 L598.75 218.31 L599.66 219.37 L600.56 220.4 L601.47 221.4 L602.37 222.37 L603.28 223.31 L604.18 224.22 L605.09 225.1 L605.99 225.95 L606.9 226.78 L607.8 227.57 L608.71 228.33 L609.61 229.06 L610.52 229.77 L611.42 230.45 L612.33 231.1 L613.23 231.72 L614.14 232.32 L615.04 232.89 L615.95 233.44 L616.85 233.97 L617.76 234.47 L618.66 234.95 L619.57 235.41 L620.47 235.85 L621.38 236.27 L622.28 236.67 L623.19 237.05 L624.09 237.42 L625 237.76 L625.9 238.09 L626.81 238.41 L627.71 238.71 L628.62 238.99 L629.52 239.26 L630.43 239.52 L631.33 239.76 L632.24 239.99 L633.14 240.21 L634.05 240.42 L634.95 240.61 L635.86 240.8 L636.76 240.97 L637.67 241.14 L638.57 241.3 L639.48 241.44 L640.38 241.58 L641.29 241.71 L642.19 241.83 L643.1 241.95 L643.1 250.6" stroke="#000" stroke-width="1.1" fill="none" stroke-linejoin="round"/>
<path d="M446.52 253.12 L446.52 250.38 L447.43 250.37 L448.33 250.35 L449.24 250.34 L450.14 250.33 L451.05 250.32 L451.95 250.3 L452.86 250.29 L453.76 250.27 L454.67 250.25 L455.57 250.24 L456.48 250.22 L457.38 250.2 L458.29 250.18 L459.19 250.15 L460.1 250.13 L461 250.1 L461.91 250.08 L462.81 250.05 L463.72 250.02 L464.62 249.99 L465.53 249.96 L466.43 249.93 L467.34 249.89 L468.24 249.85 L469.15 249.82 L470.05 249.78 L470.96 249.73 L471.86 249.69 L472.77 249.64 L473.67 249.59 L474.58 249.54 L475.48 249.49 L476.39 249.44 L477.29 249.38 L478.2 249.32 L479.1 249.25 L480.01 249.19 L480.91 249.12 L481.82 249.05 L482.72 248.97 L483.63 248.89 L484.53 248.81 L485.44 248.72 L486.34 248.63 L487.25 248.54 L488.15 248.44 L489.06 248.34 L489.96 248.23 L490.87 248.12 L491.77 248 L492.68 247.88 L493.58 247.76 L494.49 247.62 L495.39 247.48 L496.3 247.34 L497.2 247.19 L498.11 247.03 L499.01 246.87 L499.92 246.69 L500.82 246.51 L501.73 246.33 L502.63 246.13 L503.54 245.93 L504.44 245.71 L505.35 245.49 L506.25 245.26 L507.16 245.01 L508.06 244.76 L508.97 244.5 L509.87 244.22 L510.78 243.93 L511.68 243.63 L512.59 243.31 L513.49 242.99 L514.4 242.64 L515.3 242.29 L516.21 241.91 L517.11 241.52 L518.02 241.12 L518.92 240.69 L519.83 240.25 L520.73 239.79 L521.64 239.31 L522.54 238.81 L523.45 238.29 L524.35 237.75 L525.26 237.18 L526.16 236.6 L527.07 235.98 L527.97 235.35 L528.88 234.69 L529.78 234 L530.69 233.28 L531.59 232.54 L532.5 231.77 L533.4 230.97 L534.31 230.15 L535.21 229.29 L536.12 228.41 L537.02 227.49 L537.93 226.55 L538.83 225.57 L539.74 224.57 L540.64 223.53 L541.55 222.47 L542.45 221.38 L543.36 220.26 L544.26 219.11 L545.17 217.94 L546.07 216.75 L546.98 215.53 L547.88 214.29 L548.79 213.04 L549.69 211.76 L550.6 210.48 L551.5 209.19 L552.41 207.89 L553.31 206.58 L554.22 205.28 L555.12 203.99 L556.03 202.7 L556.93 201.43 L557.84 200.19 L558.74 198.96 L559.65 197.77 L560.55 196.62 L561.46 195.51 L562.36 194.44 L563.27 193.43 L564.17 192.48 L565.08 191.59 L565.98 190.78 L566.89 190.04 L567.79 189.37 L568.7 188.8 L569.6 188.31 L570.51 187.9 L571.41 187.6 L572.32 187.39 L573.22 187.27 L574.13 187.25 L575.03 187.31 L575.94 187.46 L576.84 187.7 L577.75 188.03 L578.65 188.46 L579.56 188.97 L580.46 189.56 L581.37 190.24 L582.27 190.99 L583.18 191.81 L584.08 192.69 L584.99 193.64 L585.89 194.64 L586.8 195.7 L587.7 196.8 L588.61 197.93 L589.51 199.1 L590.42 200.3 L591.32 201.52 L592.23 202.76 L593.13 204.01 L594.04 205.27 L594.94 206.53 L595.85 207.79 L596.75 209.04 L597.66 210.29 L598.56 211.52 L599.47 212.74 L600.37 213.94 L601.28 215.12 L602.18 216.28 L603.09 217.42 L603.99 218.53 L604.9 219.61 L605.8 220.67 L606.71 221.69 L607.61 222.69 L608.52 223.65 L609.42 224.59 L610.33 225.49 L611.23 226.37 L612.14 227.21 L613.04 228.02 L613.95 228.81 L614.85 229.56 L615.76 230.28 L616.66 230.97 L617.57 231.64 L618.47 232.28 L619.38 232.89 L620.28 233.47 L621.19 234.03 L622.09 234.56 L623 235.07 L623.9 235.55 L624.81 236.02 L625.71 236.46 L626.62 236.87 L627.52 237.27 L628.43 237.65 L629.33 238.01 L630.24 238.35 L631.14 238.67 L632.05 238.97 L632.95 239.26 L633.86 239.53 L634.76 239.79 L635.67 240.03 L636.57 240.26 L637.48 240.47 L638.38 240.67 L639.29 240.86 L640.19 241.03 L641.1 241.2 L642 241.35 L642.91 241.49 L643.81 241.62 L644.72 241.74 L644.72 253.32" stroke="#000" stroke-width="1.1" fill="none" stroke-linejoin="round"/>
<path d="M448.14 255.84 L448.14 252.43 L449.05 252.42 L449.95 252.41 L450.86 252.4 L451.76 252.39 L452.67 252.38 L453.57 252.37 L454.48 252.36 L455.38 252.35 L456.29 252.33 L457.19 252.32 L458.1 252.3 L459 252.28 L459.91 252.26 L460.81 252.25 L461.72 252.22 L462.62 252.2 L463.53 252.18 L464.43 252.15 L465.34 252.13 L466.24 252.1 L467.15 252.07 L468.05 252.04 L468.96 252.01 L469.86 251.98 L470.77 251.94 L471.67 251.9 L472.58 251.86 L473.48 251.82 L474.39 251.78 L475.29 251.74 L476.2 251.69 L477.1 251.64 L478.01 251.59 L478.91 251.53 L479.82 251.48 L480.72 251.42 L481.63 251.36 L482.53 251.29 L483.44 251.22 L484.34 251.15 L485.25 251.08 L486.15 251 L487.06 250.92 L487.96 250.83 L488.87 250.74 L489.77 250.65 L490.68 250.56 L491.58 250.46 L492.49 250.35 L493.39 250.24 L494.3 250.13 L495.2 250.01 L496.11 249.88 L497.01 249.75 L497.92 249.61 L498.82 249.47 L499.73 249.32 L500.63 249.17 L501.54 249.01 L502.44 248.84 L503.35 248.66 L504.25 248.48 L505.16 248.29 L506.06 248.09 L506.97 247.88 L507.87 247.66 L508.78 247.44 L509.68 247.2 L510.59 246.96 L511.49 246.7 L512.4 246.43 L513.3 246.15 L514.21 245.86 L515.11 245.56 L516.02 245.24 L516.92 244.91 L517.83 244.57 L518.73 244.21 L519.64 243.84 L520.54 243.45 L521.45 243.04 L522.35 242.62 L523.26 242.18 L524.16 241.73 L525.07 241.25 L525.97 240.76 L526.88 240.24 L527.78 239.71 L528.69 239.15 L529.59 238.57 L530.5 237.97 L531.4 237.35 L532.31 236.7 L533.21 236.03 L534.12 235.33 L535.02 234.61 L535.93 233.86 L536.83 233.09 L537.74 232.29 L538.64 231.46 L539.55 230.61 L540.45 229.72 L541.36 228.81 L542.26 227.87 L543.17 226.91 L544.07 225.92 L544.98 224.9 L545.88 223.85 L546.79 222.78 L547.69 221.68 L548.6 220.56 L549.5 219.42 L550.41 218.25 L551.31 217.07 L552.22 215.86 L553.12 214.65 L554.03 213.42 L554.93 212.18 L555.84 210.93 L556.74 209.67 L557.65 208.42 L558.55 207.17 L559.46 205.92 L560.36 204.69 L561.27 203.47 L562.17 202.27 L563.08 201.09 L563.98 199.95 L564.89 198.83 L565.79 197.76 L566.7 196.73 L567.6 195.75 L568.51 194.82 L569.41 193.95 L570.32 193.15 L571.22 192.41 L572.13 191.74 L573.03 191.16 L573.94 190.64 L574.84 190.22 L575.75 189.87 L576.65 189.62 L577.56 189.45 L578.46 189.38 L579.37 189.38 L580.27 189.46 L581.18 189.64 L582.08 189.92 L582.99 190.29 L583.89 190.75 L584.8 191.3 L585.7 191.94 L586.61 192.66 L587.51 193.45 L588.42 194.32 L589.32 195.26 L590.23 196.25 L591.13 197.3 L592.04 198.4 L592.94 199.54 L593.85 200.72 L594.75 201.93 L595.66 203.16 L596.56 204.42 L597.47 205.68 L598.37 206.96 L599.28 208.24 L600.18 209.52 L601.09 210.79 L601.99 212.06 L602.9 213.31 L603.8 214.55 L604.71 215.76 L605.61 216.96 L606.52 218.13 L607.42 219.28 L608.33 220.4 L609.23 221.49 L610.14 222.55 L611.04 223.58 L611.95 224.58 L612.85 225.54 L613.76 226.47 L614.66 227.37 L615.57 228.24 L616.47 229.07 L617.38 229.88 L618.28 230.65 L619.19 231.38 L620.09 232.09 L621 232.76 L621.9 233.41 L622.81 234.02 L623.71 234.61 L624.62 235.17 L625.52 235.7 L626.43 236.21 L627.33 236.69 L628.24 237.14 L629.14 237.57 L630.05 237.98 L630.95 238.36 L631.86 238.72 L632.76 239.07 L633.67 239.39 L634.57 239.69 L635.48 239.97 L636.38 240.24 L637.29 240.49 L638.19 240.72 L639.1 240.93 L640 241.13 L640.91 241.32 L641.81 241.49 L642.72 241.64 L643.62 241.79 L644.53 241.92 L645.43 242.04 L646.34 242.14 L646.34 256.04" stroke="#000" stroke-width="1.1" fill="none" stroke-linejoin="round"/>
<path d="M449.76 258.56 L449.76 254.45 L450.67 254.44 L451.57 254.43 L452.48 254.43 L453.38 254.42 L454.29 254.41 L455.19 254.4 L456.1 254.39 L457 254.38 L457.91 254.37 L458.81 254.35 L459.72 254.34 L460.62 254.32 L461.53 254.3 L462.43 254.29 L463.34 254.27 L464.24 254.25 L465.15 254.22 L466.05 254.2 L466.96 254.18 L467.86 254.15 L468.77 254.12 L469.67 254.09 L470.58 254.06 L471.48 254.03 L472.39 253.99 L473.29 253.96 L474.2 253.92 L475.1 253.88 L476.01 253.84 L476.91 253.79 L477.82 253.75 L478.72 253.7 L479.63 253.65 L480.53 253.59 L481.44 253.54 L482.34 253.48 L483.25 253.42 L484.15 253.35 L485.06 253.28 L485.96 253.21 L486.87 253.14 L487.77 253.06 L488.68 252.98 L489.58 252.9 L490.49 252.81 L491.39 252.72 L492.3 252.62 L493.2 252.52 L494.11 252.42 L495.01 252.31 L495.92 252.19 L496.82 252.07 L497.73 251.95 L498.63 251.82 L499.54 251.68 L500.44 251.54 L501.35 251.4 L502.25 251.24 L503.16 251.08 L504.06 250.92 L504.97 250.74 L505.87 250.56 L506.78 250.37 L507.68 250.17 L508.59 249.97 L509.49 249.76 L510.4 249.53 L511.3 249.3 L512.21 249.06 L513.11 248.81 L514.02 248.54 L514.92 248.27 L515.83 247.99 L516.73 247.69 L517.64 247.38 L518.54 247.06 L519.45 246.73 L520.35 246.38 L521.26 246.02 L522.16 245.64 L523.07 245.25 L523.97 244.84 L524.88 244.41 L525.78 243.97 L526.69 243.52 L527.59 243.04 L528.5 242.54 L529.4 242.03 L530.31 241.5 L531.21 240.94 L532.12 240.37 L533.02 239.77 L533.93 239.16 L534.83 238.52 L535.74 237.85 L536.64 237.17 L537.55 236.45 L538.45 235.72 L539.36 234.96 L540.26 234.18 L541.17 233.37 L542.07 232.53 L542.98 231.67 L543.88 230.78 L544.79 229.87 L545.69 228.93 L546.6 227.97 L547.5 226.98 L548.41 225.97 L549.31 224.94 L550.22 223.88 L551.12 222.79 L552.03 221.69 L552.93 220.57 L553.84 219.43 L554.74 218.27 L555.65 217.1 L556.55 215.92 L557.46 214.72 L558.36 213.52 L559.27 212.31 L560.17 211.1 L561.08 209.89 L561.98 208.69 L562.89 207.49 L563.79 206.31 L564.7 205.14 L565.6 203.99 L566.51 202.87 L567.41 201.77 L568.32 200.71 L569.22 199.68 L570.13 198.7 L571.03 197.76 L571.94 196.87 L572.84 196.04 L573.75 195.26 L574.65 194.55 L575.56 193.91 L576.46 193.33 L577.37 192.83 L578.27 192.41 L579.18 192.06 L580.08 191.8 L580.99 191.61 L581.89 191.51 L582.8 191.49 L583.7 191.54 L584.61 191.68 L585.51 191.92 L586.42 192.27 L587.32 192.71 L588.23 193.24 L589.13 193.86 L590.04 194.58 L590.94 195.37 L591.85 196.24 L592.75 197.18 L593.66 198.18 L594.56 199.24 L595.47 200.36 L596.37 201.52 L597.28 202.71 L598.18 203.94 L599.09 205.2 L599.99 206.47 L600.9 207.76 L601.8 209.06 L602.71 210.36 L603.61 211.66 L604.52 212.95 L605.42 214.23 L606.33 215.5 L607.23 216.75 L608.14 217.98 L609.04 219.19 L609.95 220.37 L610.85 221.52 L611.76 222.64 L612.66 223.73 L613.57 224.78 L614.47 225.81 L615.38 226.8 L616.28 227.75 L617.19 228.67 L618.09 229.55 L619 230.4 L619.9 231.22 L620.81 232 L621.71 232.74 L622.62 233.45 L623.52 234.13 L624.43 234.78 L625.33 235.39 L626.24 235.98 L627.14 236.53 L628.05 237.05 L628.95 237.55 L629.86 238.02 L630.76 238.46 L631.67 238.87 L632.57 239.26 L633.48 239.63 L634.38 239.97 L635.29 240.29 L636.19 240.59 L637.1 240.87 L638 241.12 L638.91 241.36 L639.81 241.58 L640.72 241.78 L641.62 241.97 L642.53 242.13 L643.43 242.28 L644.34 242.42 L645.24 242.54 L646.15 242.65 L647.05 242.74 L647.96 242.83 L647.96 258.76" stroke="#000" stroke-width="1.1" fill="none" stroke-linejoin="round"/>
<path d="M451.38 261.28 L451.38 257.05 L452.29 257.04 L453.19 257.03 L454.1 257.02 L455 257.01 L455.91 257 L456.81 256.99 L457.72 256.97 L458.62 256.96 L459.53 256.94 L460.43 256.93 L461.34 256.91 L462.24 256.89 L463.15 256.87 L464.05 256.85 L464.96 256.82 L465.86 256.8 L466.77 256.78 L467.67 256.75 L468.58 256.72 L469.48 256.69 L470.39 256.66 L471.29 256.63 L472.2 256.59 L473.1 256.55 L474.01 256.52 L474.91 256.48 L475.82 256.43 L476.72 256.39 L477.63 256.34 L478.53 256.29 L479.44 256.24 L480.34 256.19 L481.25 256.14 L482.15 256.08 L483.06 256.02 L483.96 255.95 L484.87 255.89 L485.77 255.82 L486.68 255.74 L487.58 255.67 L488.49 255.59 L489.39 255.51 L490.3 255.42 L491.2 255.33 L492.11 255.24 L493.01 255.14 L493.92 255.04 L494.82 254.94 L495.73 254.83 L496.63 254.71 L497.54 254.59 L498.44 254.47 L499.35 254.34 L500.25 254.2 L501.16 254.06 L502.06 253.92 L502.97 253.76 L503.87 253.6 L504.78 253.44 L505.68 253.27 L506.59 253.09 L507.49 252.9 L508.4 252.71 L509.3 252.51 L510.21 252.3 L511.11 252.08 L512.02 251.85 L512.92 251.62 L513.83 251.37 L514.73 251.11 L515.64 250.85 L516.54 250.57 L517.45 250.29 L518.35 249.99 L519.26 249.68 L520.16 249.35 L521.07 249.02 L521.97 248.67 L522.88 248.31 L523.78 247.93 L524.69 247.54 L525.59 247.14 L526.5 246.72 L527.4 246.28 L528.31 245.83 L529.21 245.35 L530.12 244.87 L531.02 244.36 L531.93 243.84 L532.83 243.29 L533.74 242.73 L534.64 242.15 L535.55 241.54 L536.45 240.92 L537.36 240.27 L538.26 239.61 L539.17 238.92 L540.07 238.2 L540.98 237.47 L541.88 236.71 L542.79 235.92 L543.69 235.12 L544.6 234.29 L545.5 233.43 L546.41 232.56 L547.31 231.65 L548.22 230.73 L549.12 229.78 L550.03 228.81 L550.93 227.81 L551.84 226.8 L552.74 225.76 L553.65 224.7 L554.55 223.63 L555.46 222.53 L556.36 221.42 L557.27 220.3 L558.17 219.16 L559.08 218.01 L559.98 216.85 L560.89 215.68 L561.79 214.51 L562.7 213.34 L563.6 212.17 L564.51 211 L565.41 209.84 L566.32 208.69 L567.22 207.55 L568.13 206.44 L569.03 205.34 L569.94 204.27 L570.84 203.23 L571.75 202.23 L572.65 201.26 L573.56 200.33 L574.46 199.45 L575.37 198.61 L576.27 197.83 L577.18 197.11 L578.08 196.44 L578.99 195.84 L579.89 195.31 L580.8 194.85 L581.7 194.45 L582.61 194.13 L583.51 193.89 L584.42 193.72 L585.32 193.63 L586.23 193.62 L587.13 193.67 L588.04 193.82 L588.94 194.08 L589.85 194.45 L590.75 194.91 L591.66 195.48 L592.56 196.14 L593.47 196.9 L594.37 197.74 L595.28 198.65 L596.18 199.64 L597.09 200.7 L597.99 201.82 L598.9 202.99 L599.8 204.2 L600.71 205.45 L601.61 206.73 L602.52 208.04 L603.42 209.37 L604.33 210.7 L605.23 212.05 L606.14 213.39 L607.04 214.73 L607.95 216.06 L608.85 217.38 L609.76 218.68 L610.66 219.95 L611.57 221.21 L612.47 222.43 L613.38 223.63 L614.28 224.8 L615.19 225.93 L616.09 227.03 L617 228.09 L617.9 229.12 L618.81 230.11 L619.71 231.06 L620.62 231.98 L621.52 232.86 L622.43 233.7 L623.33 234.51 L624.24 235.28 L625.14 236.01 L626.05 236.71 L626.95 237.37 L627.86 238.01 L628.76 238.6 L629.67 239.17 L630.57 239.71 L631.48 240.21 L632.38 240.69 L633.29 241.14 L634.19 241.56 L635.1 241.95 L636 242.32 L636.91 242.67 L637.81 242.99 L638.72 243.29 L639.62 243.57 L640.53 243.83 L641.43 244.06 L642.34 244.28 L643.24 244.48 L644.15 244.66 L645.05 244.82 L645.96 244.97 L646.86 245.1 L647.77 245.22 L648.67 245.32 L649.58 245.41 L649.58 261.48" stroke="#000" stroke-width="1.1" fill="none" stroke-linejoin="round"/>
<path d="M453 264 L453 259.67 L453.91 259.66 L454.81 259.65 L455.72 259.64 L456.62 259.62 L457.53 259.61 L458.43 259.59 L459.34 259.58 L460.24 259.56 L461.15 259.54 L462.05 259.53 L462.96 259.51 L463.86 259.49 L464.77 259.46 L465.67 259.44 L466.58 259.41 L467.48 259.39 L468.39 259.36 L469.29 259.33 L470.2 259.3 L471.1 259.27 L472.01 259.23 L472.91 259.2 L473.82 259.16 L474.72 259.12 L475.63 259.08 L476.53 259.04 L477.44 259 L478.34 258.95 L479.25 258.9 L480.15 258.85 L481.06 258.8 L481.96 258.74 L482.87 258.68 L483.77 258.62 L484.68 258.56 L485.58 258.49 L486.49 258.42 L487.39 258.35 L488.3 258.28 L489.2 258.2 L490.11 258.12 L491.01 258.04 L491.92 257.95 L492.82 257.86 L493.73 257.76 L494.63 257.66 L495.54 257.56 L496.44 257.45 L497.35 257.34 L498.25 257.22 L499.16 257.1 L500.06 256.98 L500.97 256.85 L501.87 256.71 L502.78 256.57 L503.68 256.42 L504.59 256.27 L505.49 256.11 L506.4 255.95 L507.3 255.78 L508.21 255.6 L509.11 255.41 L510.02 255.22 L510.92 255.02 L511.83 254.82 L512.73 254.6 L513.64 254.38 L514.54 254.14 L515.45 253.9 L516.35 253.65 L517.26 253.39 L518.16 253.12 L519.07 252.84 L519.97 252.55 L520.88 252.25 L521.78 251.93 L522.69 251.61 L523.59 251.27 L524.5 250.92 L525.4 250.55 L526.31 250.18 L527.21 249.79 L528.12 249.38 L529.02 248.96 L529.93 248.52 L530.83 248.07 L531.74 247.61 L532.64 247.12 L533.55 246.62 L534.45 246.1 L535.36 245.56 L536.26 245.01 L537.17 244.43 L538.07 243.84 L538.98 243.23 L539.88 242.59 L540.79 241.94 L541.69 241.26 L542.6 240.57 L543.5 239.85 L544.41 239.11 L545.31 238.35 L546.22 237.56 L547.12 236.76 L548.03 235.93 L548.93 235.08 L549.84 234.2 L550.74 233.31 L551.65 232.39 L552.55 231.45 L553.46 230.49 L554.36 229.51 L555.27 228.51 L556.17 227.49 L557.08 226.45 L557.98 225.4 L558.89 224.33 L559.79 223.24 L560.7 222.14 L561.6 221.03 L562.51 219.91 L563.41 218.79 L564.32 217.65 L565.22 216.52 L566.13 215.38 L567.03 214.24 L567.94 213.11 L568.84 211.98 L569.75 210.87 L570.65 209.77 L571.56 208.68 L572.46 207.62 L573.37 206.58 L574.27 205.57 L575.18 204.58 L576.08 203.64 L576.99 202.73 L577.89 201.86 L578.8 201.03 L579.7 200.26 L580.61 199.54 L581.51 198.87 L582.42 198.26 L583.32 197.71 L584.23 197.22 L585.13 196.8 L586.04 196.45 L586.94 196.16 L587.85 195.95 L588.75 195.81 L589.66 195.74 L590.56 195.74 L591.47 195.82 L592.37 196 L593.28 196.3 L594.18 196.71 L595.09 197.23 L595.99 197.85 L596.9 198.57 L597.8 199.38 L598.71 200.28 L599.61 201.26 L600.52 202.32 L601.42 203.44 L602.33 204.62 L603.23 205.86 L604.14 207.13 L605.04 208.45 L605.95 209.79 L606.85 211.15 L607.76 212.53 L608.66 213.91 L609.57 215.3 L610.47 216.69 L611.38 218.06 L612.28 219.42 L613.19 220.77 L614.09 222.09 L615 223.39 L615.9 224.66 L616.81 225.9 L617.71 227.1 L618.62 228.27 L619.52 229.41 L620.43 230.5 L621.33 231.56 L622.24 232.58 L623.14 233.56 L624.05 234.5 L624.95 235.4 L625.86 236.26 L626.76 237.09 L627.67 237.87 L628.57 238.62 L629.48 239.33 L630.38 240 L631.29 240.64 L632.19 241.25 L633.1 241.82 L634 242.36 L634.91 242.87 L635.81 243.34 L636.72 243.79 L637.62 244.21 L638.53 244.6 L639.43 244.97 L640.34 245.31 L641.24 245.63 L642.15 245.92 L643.05 246.19 L643.96 246.44 L644.86 246.67 L645.77 246.87 L646.67 247.06 L647.58 247.23 L648.48 247.39 L649.39 247.52 L650.29 247.64 L651.2 247.75 L651.2 264.2" stroke="#000" stroke-width="1.1" fill="none" stroke-linejoin="round"/>
<path d="M454.62 266.72 L454.62 262.26 L455.53 262.25 L456.43 262.24 L457.34 262.22 L458.24 262.21 L459.15 262.19 L460.05 262.17 L460.96 262.15 L461.86 262.14 L462.77 262.11 L463.67 262.09 L464.58 262.07 L465.48 262.05 L466.39 262.02 L467.29 261.99 L468.2 261.97 L469.1 261.94 L470.01 261.91 L470.91 261.87 L471.82 261.84 L472.72 261.8 L473.63 261.77 L474.53 261.73 L475.44 261.69 L476.34 261.64 L477.25 261.6 L478.15 261.55 L479.06 261.51 L479.96 261.46 L480.87 261.4 L481.77 261.35 L482.68 261.29 L483.58 261.23 L484.49 261.17 L485.39 261.1 L486.3 261.04 L487.2 260.97 L488.11 260.89 L489.01 260.82 L489.92 260.74 L490.82 260.66 L491.73 260.57 L492.63 260.48 L493.54 260.39 L494.44 260.29 L495.35 260.2 L496.25 260.09 L497.16 259.98 L498.06 259.87 L498.97 259.76 L499.87 259.64 L500.78 259.51 L501.68 259.38 L502.59 259.25 L503.49 259.1 L504.4 258.96 L505.3 258.81 L506.21 258.65 L507.11 258.49 L508.02 258.32 L508.92 258.14 L509.83 257.96 L510.73 257.77 L511.64 257.58 L512.54 257.37 L513.45 257.16 L514.35 256.94 L515.26 256.72 L516.16 256.48 L517.07 256.24 L517.97 255.98 L518.88 255.72 L519.78 255.45 L520.69 255.17 L521.59 254.87 L522.5 254.57 L523.4 254.26 L524.31 253.93 L525.21 253.59 L526.12 253.24 L527.02 252.88 L527.93 252.5 L528.83 252.12 L529.74 251.71 L530.64 251.3 L531.55 250.87 L532.45 250.42 L533.36 249.96 L534.26 249.48 L535.17 248.99 L536.07 248.48 L536.98 247.95 L537.88 247.41 L538.79 246.85 L539.69 246.27 L540.6 245.67 L541.5 245.05 L542.41 244.41 L543.31 243.75 L544.22 243.08 L545.12 242.38 L546.03 241.66 L546.93 240.92 L547.84 240.17 L548.74 239.39 L549.65 238.59 L550.55 237.76 L551.46 236.92 L552.36 236.06 L553.27 235.17 L554.17 234.27 L555.08 233.35 L555.98 232.4 L556.89 231.44 L557.79 230.46 L558.7 229.46 L559.6 228.45 L560.51 227.42 L561.41 226.37 L562.32 225.31 L563.22 224.24 L564.13 223.16 L565.03 222.07 L565.94 220.97 L566.84 219.87 L567.75 218.76 L568.65 217.66 L569.56 216.55 L570.46 215.45 L571.37 214.36 L572.27 213.27 L573.18 212.2 L574.08 211.15 L574.99 210.11 L575.89 209.09 L576.8 208.1 L577.7 207.13 L578.61 206.2 L579.51 205.3 L580.42 204.43 L581.32 203.61 L582.23 202.83 L583.13 202.1 L584.04 201.42 L584.94 200.79 L585.85 200.22 L586.75 199.7 L587.66 199.25 L588.56 198.85 L589.47 198.52 L590.37 198.26 L591.28 198.06 L592.18 197.93 L593.09 197.86 L593.99 197.86 L594.9 197.94 L595.8 198.14 L596.71 198.46 L597.61 198.89 L598.52 199.44 L599.42 200.1 L600.33 200.86 L601.23 201.72 L602.14 202.67 L603.04 203.7 L603.95 204.82 L604.85 206 L605.76 207.24 L606.66 208.53 L607.57 209.86 L608.47 211.23 L609.38 212.63 L610.28 214.05 L611.19 215.48 L612.09 216.91 L613 218.35 L613.9 219.78 L614.81 221.19 L615.71 222.59 L616.62 223.97 L617.52 225.32 L618.43 226.64 L619.33 227.93 L620.24 229.19 L621.14 230.41 L622.05 231.59 L622.95 232.73 L623.86 233.83 L624.76 234.89 L625.67 235.91 L626.57 236.89 L627.48 237.82 L628.38 238.72 L629.29 239.57 L630.19 240.38 L631.1 241.15 L632 241.89 L632.91 242.58 L633.81 243.24 L634.72 243.86 L635.62 244.45 L636.53 245 L637.43 245.52 L638.34 246 L639.24 246.46 L640.15 246.88 L641.05 247.28 L641.96 247.65 L642.86 247.99 L643.77 248.31 L644.67 248.61 L645.58 248.88 L646.48 249.12 L647.39 249.35 L648.29 249.55 L649.2 249.74 L650.1 249.9 L651.01 250.05 L651.91 250.18 L652.82 250.3 L652.82 266.92" stroke="#000" stroke-width="1.1" fill="none" stroke-linejoin="round"/>
<path d="M456.24 269.44 L456.24 264.84 L457.15 264.83 L458.05 264.81 L458.96 264.8 L459.86 264.78 L460.77 264.76 L461.67 264.74 L462.58 264.72 L463.48 264.7 L464.39 264.67 L465.29 264.65 L466.2 264.62 L467.1 264.59 L468.01 264.57 L468.91 264.54 L469.82 264.5 L470.72 264.47 L471.63 264.44 L472.53 264.4 L473.44 264.36 L474.34 264.32 L475.25 264.28 L476.15 264.24 L477.06 264.2 L477.96 264.15 L478.87 264.1 L479.77 264.05 L480.68 264 L481.58 263.94 L482.49 263.89 L483.39 263.83 L484.3 263.76 L485.2 263.7 L486.11 263.63 L487.01 263.56 L487.92 263.49 L488.82 263.42 L489.73 263.34 L490.63 263.26 L491.54 263.18 L492.44 263.09 L493.35 263 L494.25 262.9 L495.16 262.81 L496.06 262.71 L496.97 262.6 L497.87 262.49 L498.78 262.38 L499.68 262.26 L500.59 262.14 L501.49 262.01 L502.4 261.88 L503.3 261.75 L504.21 261.6 L505.11 261.46 L506.02 261.31 L506.92 261.15 L507.83 260.99 L508.73 260.82 L509.64 260.64 L510.54 260.46 L511.45 260.28 L512.35 260.08 L513.26 259.88 L514.16 259.67 L515.07 259.45 L515.97 259.23 L516.88 259 L517.78 258.76 L518.69 258.51 L519.59 258.25 L520.5 257.98 L521.4 257.7 L522.31 257.42 L523.21 257.12 L524.12 256.81 L525.02 256.5 L525.93 256.17 L526.83 255.83 L527.74 255.47 L528.64 255.11 L529.55 254.73 L530.45 254.34 L531.36 253.94 L532.26 253.53 L533.17 253.09 L534.07 252.65 L534.98 252.19 L535.88 251.72 L536.79 251.23 L537.69 250.72 L538.6 250.2 L539.5 249.66 L540.41 249.11 L541.31 248.53 L542.22 247.94 L543.12 247.33 L544.03 246.71 L544.93 246.06 L545.84 245.4 L546.74 244.72 L547.65 244.02 L548.55 243.3 L549.46 242.56 L550.36 241.8 L551.27 241.02 L552.17 240.22 L553.08 239.4 L553.98 238.57 L554.89 237.71 L555.79 236.83 L556.7 235.94 L557.6 235.03 L558.51 234.1 L559.41 233.15 L560.32 232.19 L561.22 231.21 L562.13 230.22 L563.03 229.21 L563.94 228.19 L564.84 227.16 L565.75 226.12 L566.65 225.07 L567.56 224.02 L568.46 222.95 L569.37 221.89 L570.27 220.82 L571.18 219.76 L572.08 218.69 L572.99 217.63 L573.89 216.58 L574.8 215.54 L575.7 214.51 L576.61 213.5 L577.51 212.5 L578.42 211.53 L579.32 210.58 L580.23 209.65 L581.13 208.76 L582.04 207.89 L582.94 207.07 L583.85 206.28 L584.75 205.53 L585.66 204.82 L586.56 204.16 L587.47 203.56 L588.37 203 L589.28 202.49 L590.18 202.04 L591.09 201.65 L591.99 201.32 L592.9 201.04 L593.8 200.83 L594.71 200.69 L595.61 200.6 L596.52 200.58 L597.42 200.62 L598.33 200.77 L599.23 201.05 L600.14 201.46 L601.04 201.98 L601.95 202.62 L602.85 203.38 L603.76 204.23 L604.66 205.19 L605.57 206.24 L606.47 207.37 L607.38 208.57 L608.28 209.84 L609.19 211.16 L610.09 212.52 L611 213.93 L611.9 215.36 L612.81 216.82 L613.71 218.29 L614.62 219.76 L615.52 221.23 L616.43 222.7 L617.33 224.15 L618.24 225.58 L619.14 226.99 L620.05 228.37 L620.95 229.72 L621.86 231.03 L622.76 232.31 L623.67 233.55 L624.57 234.75 L625.48 235.91 L626.38 237.02 L627.29 238.09 L628.19 239.12 L629.1 240.1 L630 241.04 L630.91 241.93 L631.81 242.79 L632.72 243.59 L633.62 244.36 L634.53 245.09 L635.43 245.78 L636.34 246.43 L637.24 247.04 L638.15 247.62 L639.05 248.16 L639.96 248.66 L640.86 249.14 L641.77 249.58 L642.67 249.99 L643.58 250.38 L644.48 250.73 L645.39 251.06 L646.29 251.36 L647.2 251.64 L648.1 251.89 L649.01 252.12 L649.91 252.33 L650.82 252.52 L651.72 252.69 L652.63 252.84 L653.53 252.97 L654.44 253.09 L654.44 269.64" stroke="#000" stroke-width="1.1" fill="none" stroke-linejoin="round"/>
<path d="M457.86 272.16 L457.86 267.6 L458.77 267.59 L459.67 267.57 L460.58 267.55 L461.48 267.54 L462.39 267.52 L463.29 267.5 L464.2 267.48 L465.1 267.46 L466.01 267.44 L466.91 267.41 L467.82 267.39 L468.72 267.36 L469.63 267.33 L470.53 267.31 L471.44 267.28 L472.34 267.24 L473.25 267.21 L474.15 267.18 L475.06 267.14 L475.96 267.1 L476.87 267.06 L477.77 267.02 L478.68 266.98 L479.58 266.93 L480.49 266.89 L481.39 266.84 L482.3 266.79 L483.2 266.74 L484.11 266.68 L485.01 266.62 L485.92 266.57 L486.82 266.5 L487.73 266.44 L488.63 266.37 L489.54 266.3 L490.44 266.23 L491.35 266.16 L492.25 266.08 L493.16 266 L494.06 265.91 L494.97 265.83 L495.87 265.74 L496.78 265.64 L497.68 265.54 L498.59 265.44 L499.49 265.34 L500.4 265.23 L501.3 265.12 L502.21 265 L503.11 264.88 L504.02 264.75 L504.92 264.62 L505.83 264.48 L506.73 264.34 L507.64 264.2 L508.54 264.05 L509.45 263.89 L510.35 263.73 L511.26 263.56 L512.16 263.38 L513.07 263.2 L513.97 263.01 L514.88 262.82 L515.78 262.62 L516.69 262.41 L517.59 262.19 L518.5 261.97 L519.4 261.74 L520.31 261.49 L521.21 261.25 L522.12 260.99 L523.02 260.72 L523.93 260.44 L524.83 260.16 L525.74 259.86 L526.64 259.55 L527.55 259.24 L528.45 258.91 L529.36 258.57 L530.26 258.22 L531.17 257.85 L532.07 257.47 L532.98 257.09 L533.88 256.68 L534.79 256.27 L535.69 255.84 L536.6 255.39 L537.5 254.93 L538.41 254.46 L539.31 253.97 L540.22 253.46 L541.12 252.94 L542.03 252.4 L542.93 251.85 L543.84 251.28 L544.74 250.69 L545.65 250.08 L546.55 249.45 L547.46 248.81 L548.36 248.15 L549.27 247.47 L550.17 246.76 L551.08 246.04 L551.98 245.31 L552.89 244.55 L553.79 243.77 L554.7 242.97 L555.6 242.15 L556.51 241.32 L557.41 240.46 L558.32 239.59 L559.22 238.69 L560.13 237.78 L561.03 236.85 L561.94 235.91 L562.84 234.94 L563.75 233.97 L564.65 232.97 L565.56 231.97 L566.46 230.95 L567.37 229.92 L568.27 228.88 L569.18 227.83 L570.08 226.77 L570.99 225.71 L571.89 224.64 L572.8 223.58 L573.7 222.51 L574.61 221.45 L575.51 220.39 L576.42 219.34 L577.32 218.29 L578.23 217.26 L579.13 216.25 L580.04 215.25 L580.94 214.28 L581.85 213.33 L582.75 212.4 L583.66 211.5 L584.56 210.64 L585.47 209.81 L586.37 209.02 L587.28 208.27 L588.18 207.56 L589.09 206.9 L589.99 206.29 L590.9 205.73 L591.8 205.23 L592.71 204.78 L593.61 204.38 L594.52 204.05 L595.42 203.77 L596.33 203.56 L597.23 203.41 L598.14 203.32 L599.04 203.3 L599.95 203.34 L600.85 203.49 L601.76 203.76 L602.66 204.16 L603.57 204.68 L604.47 205.32 L605.38 206.07 L606.28 206.92 L607.19 207.87 L608.09 208.92 L609 210.04 L609.9 211.24 L610.81 212.5 L611.71 213.82 L612.62 215.18 L613.52 216.58 L614.43 218.02 L615.33 219.47 L616.24 220.93 L617.14 222.4 L618.05 223.87 L618.95 225.33 L619.86 226.78 L620.76 228.21 L621.67 229.62 L622.57 231 L623.48 232.34 L624.38 233.66 L625.29 234.93 L626.19 236.17 L627.1 237.37 L628 238.52 L628.91 239.63 L629.81 240.7 L630.72 241.72 L631.62 242.7 L632.53 243.64 L633.43 244.53 L634.34 245.38 L635.24 246.18 L636.15 246.95 L637.05 247.67 L637.96 248.36 L638.86 249.01 L639.77 249.61 L640.67 250.19 L641.58 250.72 L642.48 251.23 L643.39 251.7 L644.29 252.14 L645.2 252.54 L646.1 252.92 L647.01 253.27 L647.91 253.6 L648.82 253.9 L649.72 254.17 L650.63 254.42 L651.53 254.65 L652.44 254.85 L653.34 255.04 L654.25 255.2 L655.15 255.35 L656.06 255.47 L656.06 272.36" stroke="#000" stroke-width="1.1" fill="none" stroke-linejoin="round"/>
<path d="M459.48 274.88 L459.48 270.34 L460.39 270.33 L461.29 270.32 L462.2 270.3 L463.1 270.28 L464.01 270.27 L464.91 270.25 L465.82 270.23 L466.72 270.21 L467.63 270.19 L468.53 270.16 L469.44 270.14 L470.34 270.11 L471.25 270.09 L472.15 270.06 L473.06 270.03 L473.96 270 L474.87 269.97 L475.77 269.93 L476.68 269.9 L477.58 269.86 L478.49 269.83 L479.39 269.79 L480.3 269.74 L481.2 269.7 L482.11 269.66 L483.01 269.61 L483.92 269.56 L484.82 269.51 L485.73 269.45 L486.63 269.4 L487.54 269.34 L488.44 269.28 L489.35 269.22 L490.25 269.15 L491.16 269.09 L492.06 269.02 L492.97 268.94 L493.87 268.87 L494.78 268.79 L495.68 268.71 L496.59 268.62 L497.49 268.53 L498.4 268.44 L499.3 268.35 L500.21 268.25 L501.11 268.15 L502.02 268.04 L502.92 267.93 L503.83 267.82 L504.73 267.7 L505.64 267.57 L506.54 267.45 L507.45 267.31 L508.35 267.18 L509.26 267.03 L510.16 266.89 L511.07 266.73 L511.97 266.58 L512.88 266.41 L513.78 266.24 L514.69 266.06 L515.59 265.88 L516.5 265.69 L517.4 265.5 L518.31 265.29 L519.21 265.08 L520.12 264.86 L521.02 264.64 L521.93 264.4 L522.83 264.16 L523.74 263.91 L524.64 263.65 L525.55 263.38 L526.45 263.1 L527.36 262.81 L528.26 262.51 L529.17 262.2 L530.07 261.88 L530.98 261.55 L531.88 261.2 L532.79 260.85 L533.69 260.48 L534.6 260.1 L535.5 259.71 L536.41 259.3 L537.31 258.88 L538.22 258.45 L539.12 258 L540.03 257.54 L540.93 257.06 L541.84 256.56 L542.74 256.06 L543.65 255.53 L544.55 254.99 L545.46 254.43 L546.36 253.85 L547.27 253.26 L548.17 252.64 L549.08 252.01 L549.98 251.36 L550.89 250.7 L551.79 250.01 L552.7 249.3 L553.6 248.58 L554.51 247.83 L555.41 247.07 L556.32 246.28 L557.22 245.48 L558.13 244.66 L559.03 243.82 L559.94 242.96 L560.84 242.08 L561.75 241.18 L562.65 240.26 L563.56 239.33 L564.46 238.38 L565.37 237.41 L566.27 236.43 L567.18 235.43 L568.08 234.42 L568.99 233.4 L569.89 232.37 L570.8 231.32 L571.7 230.27 L572.61 229.21 L573.51 228.15 L574.42 227.09 L575.32 226.02 L576.23 224.95 L577.13 223.89 L578.04 222.83 L578.94 221.78 L579.85 220.74 L580.75 219.72 L581.66 218.71 L582.56 217.72 L583.47 216.75 L584.37 215.8 L585.28 214.88 L586.18 214 L587.09 213.14 L587.99 212.32 L588.9 211.54 L589.8 210.8 L590.71 210.11 L591.61 209.46 L592.52 208.86 L593.42 208.32 L594.33 207.82 L595.23 207.39 L596.14 207.01 L597.04 206.69 L597.95 206.43 L598.85 206.24 L599.76 206.1 L600.66 206.03 L601.57 206.02 L602.47 206.08 L603.38 206.27 L604.28 206.57 L605.19 207 L606.09 207.55 L607 208.22 L607.9 209 L608.81 209.88 L609.71 210.85 L610.62 211.91 L611.52 213.06 L612.43 214.27 L613.33 215.55 L614.24 216.88 L615.14 218.25 L616.05 219.66 L616.95 221.09 L617.86 222.55 L618.76 224.01 L619.67 225.48 L620.57 226.95 L621.48 228.4 L622.38 229.85 L623.29 231.27 L624.19 232.66 L625.1 234.03 L626 235.37 L626.91 236.67 L627.81 237.93 L628.72 239.16 L629.62 240.34 L630.53 241.48 L631.43 242.58 L632.34 243.63 L633.24 244.64 L634.15 245.6 L635.05 246.52 L635.96 247.4 L636.86 248.24 L637.77 249.03 L638.67 249.78 L639.58 250.49 L640.48 251.16 L641.39 251.8 L642.29 252.39 L643.2 252.95 L644.1 253.48 L645.01 253.97 L645.91 254.43 L646.82 254.85 L647.72 255.25 L648.63 255.62 L649.53 255.96 L650.44 256.27 L651.34 256.56 L652.25 256.82 L653.15 257.06 L654.06 257.28 L654.96 257.48 L655.87 257.65 L656.77 257.81 L657.68 257.95 L657.68 275.08" stroke="#000" stroke-width="1.1" fill="none" stroke-linejoin="round"/>
<path d="M461.1 277.6 L461.1 273.08 L462.01 273.07 L462.91 273.05 L463.82 273.04 L464.72 273.02 L465.63 273.01 L466.53 272.99 L467.44 272.97 L468.34 272.95 L469.25 272.93 L470.15 272.91 L471.06 272.88 L471.96 272.86 L472.87 272.83 L473.77 272.8 L474.68 272.78 L475.58 272.75 L476.49 272.71 L477.39 272.68 L478.3 272.65 L479.2 272.61 L480.11 272.57 L481.01 272.54 L481.92 272.49 L482.82 272.45 L483.73 272.41 L484.63 272.36 L485.54 272.31 L486.44 272.26 L487.35 272.21 L488.25 272.16 L489.16 272.1 L490.06 272.04 L490.97 271.98 L491.87 271.92 L492.78 271.85 L493.68 271.78 L494.59 271.71 L495.49 271.64 L496.4 271.56 L497.3 271.48 L498.21 271.4 L499.11 271.31 L500.02 271.22 L500.92 271.13 L501.83 271.03 L502.73 270.93 L503.64 270.82 L504.54 270.72 L505.45 270.6 L506.35 270.49 L507.26 270.37 L508.16 270.24 L509.07 270.11 L509.97 269.98 L510.88 269.84 L511.78 269.69 L512.69 269.54 L513.59 269.39 L514.5 269.23 L515.4 269.06 L516.31 268.89 L517.21 268.71 L518.12 268.52 L519.02 268.33 L519.93 268.13 L520.83 267.92 L521.74 267.7 L522.64 267.48 L523.55 267.25 L524.45 267.01 L525.36 266.77 L526.26 266.51 L527.17 266.25 L528.07 265.97 L528.98 265.69 L529.88 265.39 L530.79 265.09 L531.69 264.77 L532.6 264.45 L533.5 264.11 L534.41 263.76 L535.31 263.4 L536.22 263.03 L537.12 262.64 L538.03 262.24 L538.93 261.83 L539.84 261.4 L540.74 260.96 L541.65 260.51 L542.55 260.04 L543.46 259.55 L544.36 259.05 L545.27 258.53 L546.17 258 L547.08 257.45 L547.98 256.88 L548.89 256.3 L549.79 255.69 L550.7 255.07 L551.6 254.43 L552.51 253.77 L553.41 253.1 L554.32 252.4 L555.22 251.69 L556.13 250.95 L557.03 250.2 L557.94 249.42 L558.84 248.63 L559.75 247.82 L560.65 246.99 L561.56 246.14 L562.46 245.27 L563.37 244.38 L564.27 243.47 L565.18 242.55 L566.08 241.6 L566.99 240.65 L567.89 239.67 L568.8 238.68 L569.7 237.68 L570.61 236.66 L571.51 235.64 L572.42 234.6 L573.32 233.55 L574.23 232.5 L575.13 231.44 L576.04 230.37 L576.94 229.3 L577.85 228.24 L578.75 227.17 L579.66 226.11 L580.56 225.06 L581.47 224.01 L582.37 222.98 L583.28 221.96 L584.18 220.96 L585.09 219.98 L585.99 219.02 L586.9 218.09 L587.8 217.18 L588.71 216.31 L589.61 215.47 L590.52 214.67 L591.42 213.91 L592.33 213.19 L593.23 212.52 L594.14 211.89 L595.04 211.32 L595.95 210.8 L596.85 210.33 L597.76 209.92 L598.66 209.57 L599.57 209.28 L600.47 209.05 L601.38 208.89 L602.28 208.78 L603.19 208.74 L604.09 208.76 L605 208.87 L605.9 209.12 L606.81 209.48 L607.71 209.97 L608.62 210.57 L609.52 211.29 L610.43 212.12 L611.33 213.04 L612.24 214.06 L613.14 215.16 L614.05 216.33 L614.95 217.58 L615.86 218.88 L616.76 220.23 L617.67 221.62 L618.57 223.04 L619.48 224.48 L620.38 225.94 L621.29 227.41 L622.19 228.87 L623.1 230.33 L624 231.78 L624.91 233.21 L625.81 234.62 L626.72 236 L627.62 237.36 L628.53 238.67 L629.43 239.95 L630.34 241.2 L631.24 242.4 L632.15 243.56 L633.05 244.68 L633.96 245.75 L634.86 246.78 L635.77 247.77 L636.67 248.71 L637.58 249.61 L638.48 250.47 L639.39 251.28 L640.29 252.05 L641.2 252.78 L642.1 253.47 L643.01 254.12 L643.91 254.73 L644.82 255.31 L645.72 255.85 L646.63 256.35 L647.53 256.83 L648.44 257.27 L649.34 257.68 L650.25 258.06 L651.15 258.41 L652.06 258.74 L652.96 259.04 L653.87 259.31 L654.77 259.56 L655.68 259.79 L656.58 259.99 L657.49 260.17 L658.39 260.34 L659.3 260.48 L659.3 277.8" stroke="#000" stroke-width="1.1" fill="none" stroke-linejoin="round"/>
<path d="M462.72 280.32 L462.72 275.81 L463.63 275.8 L464.53 275.79 L465.44 275.77 L466.34 275.76 L467.25 275.74 L468.15 275.72 L469.06 275.7 L469.96 275.68 L470.87 275.66 L471.77 275.64 L472.68 275.62 L473.58 275.59 L474.49 275.57 L475.39 275.54 L476.3 275.51 L477.2 275.48 L478.11 275.45 L479.01 275.42 L479.92 275.39 L480.82 275.35 L481.73 275.32 L482.63 275.28 L483.54 275.24 L484.44 275.2 L485.35 275.15 L486.25 275.11 L487.16 275.06 L488.06 275.01 L488.97 274.96 L489.87 274.9 L490.78 274.85 L491.68 274.79 L492.59 274.73 L493.49 274.67 L494.4 274.6 L495.3 274.53 L496.21 274.46 L497.11 274.39 L498.02 274.31 L498.92 274.23 L499.83 274.15 L500.73 274.07 L501.64 273.98 L502.54 273.89 L503.45 273.79 L504.35 273.69 L505.26 273.59 L506.16 273.48 L507.07 273.37 L507.97 273.26 L508.88 273.14 L509.78 273.01 L510.69 272.89 L511.59 272.75 L512.5 272.62 L513.4 272.47 L514.31 272.32 L515.21 272.17 L516.12 272.01 L517.02 271.85 L517.93 271.68 L518.83 271.5 L519.74 271.32 L520.64 271.12 L521.55 270.93 L522.45 270.72 L523.36 270.51 L524.26 270.29 L525.17 270.06 L526.07 269.83 L526.98 269.59 L527.88 269.33 L528.79 269.07 L529.69 268.8 L530.6 268.52 L531.5 268.23 L532.41 267.93 L533.31 267.62 L534.22 267.3 L535.12 266.96 L536.03 266.62 L536.93 266.26 L537.84 265.89 L538.74 265.51 L539.65 265.12 L540.55 264.71 L541.46 264.29 L542.36 263.85 L543.27 263.41 L544.17 262.94 L545.08 262.46 L545.98 261.97 L546.89 261.45 L547.79 260.93 L548.7 260.38 L549.6 259.82 L550.51 259.24 L551.41 258.65 L552.32 258.03 L553.22 257.4 L554.13 256.75 L555.03 256.08 L555.94 255.39 L556.84 254.68 L557.75 253.95 L558.65 253.21 L559.56 252.44 L560.46 251.66 L561.37 250.85 L562.27 250.03 L563.18 249.18 L564.08 248.32 L564.99 247.44 L565.89 246.54 L566.8 245.62 L567.7 244.68 L568.61 243.73 L569.51 242.76 L570.42 241.78 L571.32 240.78 L572.23 239.77 L573.13 238.75 L574.04 237.71 L574.94 236.67 L575.85 235.62 L576.75 234.56 L577.66 233.5 L578.56 232.43 L579.47 231.36 L580.37 230.3 L581.28 229.23 L582.18 228.18 L583.09 227.13 L583.99 226.09 L584.9 225.07 L585.8 224.06 L586.71 223.07 L587.61 222.1 L588.52 221.16 L589.42 220.24 L590.33 219.36 L591.23 218.5 L592.14 217.69 L593.04 216.91 L593.95 216.18 L594.85 215.49 L595.76 214.84 L596.66 214.25 L597.57 213.71 L598.47 213.22 L599.38 212.79 L600.28 212.42 L601.19 212.1 L602.09 211.85 L603 211.66 L603.9 211.53 L604.81 211.47 L605.71 211.47 L606.62 211.54 L607.52 211.73 L608.43 212.05 L609.33 212.49 L610.24 213.05 L611.14 213.72 L612.05 214.51 L612.95 215.4 L613.86 216.38 L614.76 217.45 L615.67 218.59 L616.57 219.81 L617.48 221.09 L618.38 222.42 L619.29 223.8 L620.19 225.21 L621.1 226.64 L622 228.1 L622.91 229.56 L623.81 231.02 L624.72 232.49 L625.62 233.94 L626.53 235.38 L627.43 236.79 L628.34 238.18 L629.24 239.55 L630.15 240.87 L631.05 242.17 L631.96 243.43 L632.86 244.64 L633.77 245.82 L634.67 246.95 L635.58 248.04 L636.48 249.08 L637.39 250.09 L638.29 251.04 L639.2 251.96 L640.1 252.83 L641.01 253.65 L641.91 254.44 L642.82 255.18 L643.72 255.88 L644.63 256.55 L645.53 257.17 L646.44 257.76 L647.34 258.31 L648.25 258.83 L649.15 259.32 L650.06 259.77 L650.96 260.19 L651.87 260.58 L652.77 260.94 L653.68 261.27 L654.58 261.58 L655.49 261.86 L656.39 262.12 L657.3 262.35 L658.2 262.56 L659.11 262.75 L660.01 262.92 L660.92 263.07 L660.92 280.52" stroke="#000" stroke-width="1.1" fill="none" stroke-linejoin="round"/>
<path d="M464.34 283.04 L464.34 278.54 L465.25 278.53 L466.15 278.52 L467.06 278.5 L467.96 278.49 L468.87 278.47 L469.77 278.45 L470.68 278.43 L471.58 278.41 L472.49 278.39 L473.39 278.37 L474.3 278.35 L475.2 278.33 L476.11 278.3 L477.01 278.27 L477.92 278.25 L478.82 278.22 L479.73 278.19 L480.63 278.16 L481.54 278.12 L482.44 278.09 L483.35 278.05 L484.25 278.01 L485.16 277.97 L486.06 277.93 L486.97 277.89 L487.87 277.84 L488.78 277.8 L489.68 277.75 L490.59 277.7 L491.49 277.64 L492.4 277.59 L493.3 277.53 L494.21 277.47 L495.11 277.41 L496.02 277.34 L496.92 277.28 L497.83 277.21 L498.73 277.13 L499.64 277.06 L500.54 276.98 L501.45 276.9 L502.35 276.81 L503.26 276.73 L504.16 276.64 L505.07 276.54 L505.97 276.44 L506.88 276.34 L507.78 276.24 L508.69 276.13 L509.59 276.01 L510.5 275.89 L511.4 275.77 L512.31 275.65 L513.21 275.51 L514.12 275.38 L515.02 275.24 L515.93 275.09 L516.83 274.94 L517.74 274.78 L518.64 274.62 L519.55 274.45 L520.45 274.27 L521.36 274.09 L522.26 273.9 L523.17 273.7 L524.07 273.5 L524.98 273.29 L525.88 273.08 L526.79 272.85 L527.69 272.62 L528.6 272.38 L529.5 272.13 L530.41 271.87 L531.31 271.6 L532.22 271.32 L533.12 271.03 L534.03 270.74 L534.93 270.43 L535.84 270.11 L536.74 269.78 L537.65 269.44 L538.55 269.08 L539.46 268.72 L540.36 268.34 L541.27 267.95 L542.17 267.55 L543.08 267.13 L543.98 266.7 L544.89 266.25 L545.79 265.79 L546.7 265.31 L547.6 264.82 L548.51 264.32 L549.41 263.79 L550.32 263.25 L551.22 262.7 L552.13 262.12 L553.03 261.53 L553.94 260.92 L554.84 260.29 L555.75 259.65 L556.65 258.98 L557.56 258.3 L558.46 257.6 L559.37 256.88 L560.27 256.13 L561.18 255.37 L562.08 254.59 L562.99 253.79 L563.89 252.97 L564.8 252.13 L565.7 251.28 L566.61 250.4 L567.51 249.51 L568.42 248.59 L569.32 247.66 L570.23 246.71 L571.13 245.75 L572.04 244.77 L572.94 243.78 L573.85 242.77 L574.75 241.75 L575.66 240.72 L576.56 239.67 L577.47 238.62 L578.37 237.57 L579.28 236.5 L580.18 235.44 L581.09 234.37 L581.99 233.31 L582.9 232.24 L583.8 231.18 L584.71 230.13 L585.61 229.09 L586.52 228.06 L587.42 227.05 L588.33 226.05 L589.23 225.08 L590.14 224.13 L591.04 223.21 L591.95 222.31 L592.85 221.45 L593.76 220.63 L594.66 219.84 L595.57 219.09 L596.47 218.39 L597.38 217.73 L598.28 217.13 L599.19 216.57 L600.09 216.07 L601 215.62 L601.9 215.23 L602.81 214.9 L603.71 214.63 L604.62 214.43 L605.52 214.28 L606.43 214.2 L607.33 214.18 L608.24 214.23 L609.14 214.39 L610.05 214.67 L610.95 215.08 L611.86 215.6 L612.76 216.25 L613.67 217 L614.57 217.86 L615.48 218.82 L616.38 219.87 L617.29 220.99 L618.19 222.19 L619.1 223.45 L620 224.77 L620.91 226.14 L621.81 227.54 L622.72 228.96 L623.62 230.41 L624.53 231.87 L625.43 233.34 L626.34 234.8 L627.24 236.25 L628.15 237.7 L629.05 239.12 L629.96 240.51 L630.86 241.88 L631.77 243.22 L632.67 244.52 L633.58 245.79 L634.48 247.02 L635.39 248.2 L636.29 249.35 L637.2 250.45 L638.1 251.5 L639.01 252.51 L639.91 253.48 L640.82 254.41 L641.72 255.29 L642.63 256.12 L643.53 256.92 L644.44 257.67 L645.34 258.38 L646.25 259.06 L647.15 259.69 L648.06 260.29 L648.96 260.85 L649.87 261.37 L650.77 261.87 L651.68 262.32 L652.58 262.75 L653.49 263.15 L654.39 263.52 L655.3 263.86 L656.2 264.17 L657.11 264.45 L658.01 264.72 L658.92 264.95 L659.82 265.17 L660.73 265.36 L661.63 265.54 L662.54 265.69 L662.54 283.24" stroke="#000" stroke-width="1.1" fill="none" stroke-linejoin="round"/>
<path d="M465.96 285.76 L465.96 281.27 L466.87 281.26 L467.77 281.24 L468.68 281.23 L469.58 281.21 L470.49 281.2 L471.39 281.18 L472.3 281.16 L473.2 281.14 L474.11 281.12 L475.01 281.1 L475.92 281.08 L476.82 281.05 L477.73 281.03 L478.63 281 L479.54 280.98 L480.44 280.95 L481.35 280.92 L482.25 280.88 L483.16 280.85 L484.06 280.82 L484.97 280.78 L485.87 280.74 L486.78 280.7 L487.68 280.66 L488.59 280.62 L489.49 280.58 L490.4 280.53 L491.3 280.48 L492.21 280.43 L493.11 280.38 L494.02 280.32 L494.92 280.26 L495.83 280.21 L496.73 280.14 L497.64 280.08 L498.54 280.01 L499.45 279.94 L500.35 279.87 L501.26 279.8 L502.16 279.72 L503.07 279.64 L503.97 279.55 L504.88 279.47 L505.78 279.38 L506.69 279.28 L507.59 279.19 L508.5 279.08 L509.4 278.98 L510.31 278.87 L511.21 278.76 L512.12 278.64 L513.02 278.52 L513.93 278.39 L514.83 278.26 L515.74 278.13 L516.64 277.99 L517.55 277.84 L518.45 277.69 L519.36 277.53 L520.26 277.37 L521.17 277.2 L522.07 277.03 L522.98 276.85 L523.88 276.66 L524.79 276.47 L525.69 276.26 L526.6 276.06 L527.5 275.84 L528.41 275.62 L529.31 275.39 L530.22 275.15 L531.12 274.9 L532.03 274.64 L532.93 274.37 L533.84 274.1 L534.74 273.81 L535.65 273.52 L536.55 273.21 L537.46 272.89 L538.36 272.57 L539.27 272.23 L540.17 271.88 L541.08 271.51 L541.98 271.14 L542.89 270.75 L543.79 270.35 L544.7 269.93 L545.6 269.5 L546.51 269.06 L547.41 268.6 L548.32 268.13 L549.22 267.64 L550.13 267.14 L551.03 266.62 L551.94 266.08 L552.84 265.53 L553.75 264.96 L554.65 264.37 L555.56 263.76 L556.46 263.14 L557.37 262.5 L558.27 261.84 L559.18 261.16 L560.08 260.46 L560.99 259.74 L561.89 259 L562.8 258.24 L563.7 257.47 L564.61 256.67 L565.51 255.86 L566.42 255.02 L567.32 254.17 L568.23 253.29 L569.13 252.4 L570.04 251.49 L570.94 250.56 L571.85 249.62 L572.75 248.66 L573.66 247.68 L574.56 246.69 L575.47 245.69 L576.37 244.67 L577.28 243.64 L578.18 242.6 L579.09 241.55 L579.99 240.49 L580.9 239.43 L581.8 238.37 L582.71 237.3 L583.61 236.23 L584.52 235.17 L585.42 234.11 L586.33 233.06 L587.23 232.01 L588.14 230.98 L589.04 229.97 L589.95 228.97 L590.85 227.99 L591.76 227.03 L592.66 226.1 L593.57 225.2 L594.47 224.34 L595.38 223.5 L596.28 222.71 L597.19 221.95 L598.09 221.24 L599 220.58 L599.9 219.96 L600.81 219.4 L601.71 218.88 L602.62 218.43 L603.52 218.03 L604.43 217.68 L605.33 217.4 L606.24 217.18 L607.14 217.03 L608.05 216.93 L608.95 216.9 L609.86 216.93 L610.76 217.06 L611.67 217.32 L612.57 217.71 L613.48 218.21 L614.38 218.83 L615.29 219.57 L616.19 220.41 L617.1 221.34 L618 222.37 L618.91 223.48 L619.81 224.67 L620.72 225.92 L621.62 227.23 L622.53 228.58 L623.43 229.98 L624.34 231.4 L625.24 232.84 L626.15 234.3 L627.05 235.76 L627.96 237.23 L628.86 238.68 L629.77 240.13 L630.67 241.55 L631.58 242.95 L632.48 244.33 L633.39 245.67 L634.29 246.98 L635.2 248.25 L636.1 249.49 L637.01 250.68 L637.91 251.83 L638.82 252.94 L639.72 254 L640.63 255.02 L641.53 256 L642.44 256.93 L643.34 257.82 L644.25 258.66 L645.15 259.46 L646.06 260.23 L646.96 260.94 L647.87 261.62 L648.77 262.27 L649.68 262.87 L650.58 263.44 L651.49 263.97 L652.39 264.46 L653.3 264.93 L654.2 265.36 L655.11 265.76 L656.01 266.13 L656.92 266.48 L657.82 266.79 L658.73 267.08 L659.63 267.35 L660.54 267.59 L661.44 267.81 L662.35 268.01 L663.25 268.18 L664.16 268.34 L664.16 285.96" stroke="#000" stroke-width="1.1" fill="none" stroke-linejoin="round"/>
<path d="M467.58 288.48 L467.58 283.99 L468.49 283.98 L469.39 283.97 L470.3 283.95 L471.2 283.94 L472.11 283.92 L473.01 283.91 L473.92 283.89 L474.82 283.87 L475.73 283.85 L476.63 283.83 L477.54 283.8 L478.44 283.78 L479.35 283.76 L480.25 283.73 L481.16 283.7 L482.06 283.67 L482.97 283.64 L483.87 283.61 L484.78 283.58 L485.68 283.54 L486.59 283.51 L487.49 283.47 L488.4 283.43 L489.3 283.39 L490.21 283.35 L491.11 283.3 L492.02 283.26 L492.92 283.21 L493.83 283.16 L494.73 283.11 L495.64 283.05 L496.54 283 L497.45 282.94 L498.35 282.87 L499.26 282.81 L500.16 282.74 L501.07 282.68 L501.97 282.6 L502.88 282.53 L503.78 282.45 L504.69 282.37 L505.59 282.29 L506.5 282.2 L507.4 282.11 L508.31 282.02 L509.21 281.92 L510.12 281.82 L511.02 281.72 L511.93 281.61 L512.83 281.5 L513.74 281.38 L514.64 281.26 L515.55 281.13 L516.45 281 L517.36 280.87 L518.26 280.73 L519.17 280.58 L520.07 280.43 L520.98 280.28 L521.88 280.12 L522.79 279.95 L523.69 279.77 L524.6 279.59 L525.5 279.41 L526.41 279.21 L527.31 279.01 L528.22 278.81 L529.12 278.59 L530.03 278.37 L530.93 278.14 L531.84 277.9 L532.74 277.65 L533.65 277.4 L534.55 277.13 L535.46 276.86 L536.36 276.57 L537.27 276.28 L538.17 275.97 L539.08 275.66 L539.98 275.33 L540.89 275 L541.79 274.65 L542.7 274.28 L543.6 273.91 L544.51 273.52 L545.41 273.13 L546.32 272.71 L547.22 272.29 L548.13 271.84 L549.03 271.39 L549.94 270.92 L550.84 270.43 L551.75 269.93 L552.65 269.41 L553.56 268.88 L554.46 268.33 L555.37 267.76 L556.27 267.17 L557.18 266.57 L558.08 265.95 L558.99 265.31 L559.89 264.65 L560.8 263.97 L561.7 263.28 L562.61 262.56 L563.51 261.83 L564.42 261.07 L565.32 260.3 L566.23 259.5 L567.13 258.69 L568.04 257.86 L568.94 257.01 L569.85 256.14 L570.75 255.25 L571.66 254.34 L572.56 253.42 L573.47 252.47 L574.37 251.51 L575.28 250.54 L576.18 249.55 L577.09 248.55 L577.99 247.53 L578.9 246.5 L579.8 245.46 L580.71 244.42 L581.61 243.36 L582.52 242.3 L583.42 241.24 L584.33 240.17 L585.23 239.1 L586.14 238.04 L587.04 236.98 L587.95 235.92 L588.85 234.88 L589.76 233.84 L590.66 232.83 L591.57 231.83 L592.47 230.84 L593.38 229.89 L594.28 228.95 L595.19 228.05 L596.09 227.18 L597 226.34 L597.9 225.54 L598.81 224.78 L599.71 224.06 L600.62 223.39 L601.52 222.76 L602.43 222.19 L603.33 221.67 L604.24 221.21 L605.14 220.8 L606.05 220.45 L606.95 220.16 L607.86 219.93 L608.76 219.76 L609.67 219.66 L610.57 219.62 L611.48 219.64 L612.38 219.76 L613.29 220 L614.19 220.37 L615.1 220.85 L616 221.46 L616.91 222.18 L617.81 223 L618.72 223.93 L619.62 224.94 L620.53 226.04 L621.43 227.22 L622.34 228.46 L623.24 229.76 L624.15 231.11 L625.05 232.5 L625.96 233.91 L626.86 235.36 L627.77 236.81 L628.67 238.28 L629.58 239.74 L630.48 241.2 L631.39 242.64 L632.29 244.07 L633.2 245.47 L634.1 246.85 L635.01 248.2 L635.91 249.51 L636.82 250.79 L637.72 252.03 L638.63 253.23 L639.53 254.38 L640.44 255.49 L641.34 256.56 L642.25 257.59 L643.15 258.57 L644.06 259.51 L644.96 260.4 L645.87 261.25 L646.77 262.06 L647.68 262.83 L648.58 263.55 L649.49 264.23 L650.39 264.88 L651.3 265.49 L652.2 266.06 L653.11 266.59 L654.01 267.1 L654.92 267.56 L655.82 268 L656.73 268.4 L657.63 268.78 L658.54 269.13 L659.44 269.45 L660.35 269.74 L661.25 270.01 L662.16 270.25 L663.06 270.47 L663.97 270.67 L664.87 270.85 L665.78 271.01 L665.78 288.68" stroke="#000" stroke-width="1.1" fill="none" stroke-linejoin="round"/>
<path d="M469.2 291.2 L469.2 286.72 L470.11 286.7 L471.01 286.69 L471.92 286.68 L472.82 286.66 L473.73 286.65 L474.63 286.63 L475.54 286.61 L476.44 286.59 L477.35 286.57 L478.25 286.55 L479.16 286.53 L480.06 286.5 L480.97 286.48 L481.87 286.45 L482.78 286.43 L483.68 286.4 L484.59 286.37 L485.49 286.34 L486.4 286.3 L487.3 286.27 L488.21 286.23 L489.11 286.2 L490.02 286.16 L490.92 286.12 L491.83 286.07 L492.73 286.03 L493.64 285.98 L494.54 285.94 L495.45 285.89 L496.35 285.83 L497.26 285.78 L498.16 285.72 L499.07 285.66 L499.97 285.6 L500.88 285.54 L501.78 285.47 L502.69 285.4 L503.59 285.33 L504.5 285.26 L505.4 285.18 L506.31 285.1 L507.21 285.02 L508.12 284.93 L509.02 284.84 L509.93 284.75 L510.83 284.65 L511.74 284.55 L512.64 284.45 L513.55 284.34 L514.45 284.23 L515.36 284.11 L516.26 283.99 L517.17 283.87 L518.07 283.74 L518.98 283.6 L519.88 283.46 L520.79 283.32 L521.69 283.17 L522.6 283.01 L523.5 282.85 L524.41 282.69 L525.31 282.51 L526.22 282.33 L527.12 282.15 L528.03 281.96 L528.93 281.76 L529.84 281.55 L530.74 281.34 L531.65 281.11 L532.55 280.88 L533.46 280.65 L534.36 280.4 L535.27 280.14 L536.17 279.88 L537.08 279.61 L537.98 279.32 L538.89 279.03 L539.79 278.73 L540.7 278.41 L541.6 278.09 L542.51 277.75 L543.41 277.4 L544.32 277.04 L545.22 276.67 L546.13 276.28 L547.03 275.89 L547.94 275.47 L548.84 275.05 L549.75 274.61 L550.65 274.16 L551.56 273.69 L552.46 273.2 L553.37 272.7 L554.27 272.19 L555.18 271.65 L556.08 271.1 L556.99 270.54 L557.89 269.95 L558.8 269.35 L559.7 268.73 L560.61 268.09 L561.51 267.44 L562.42 266.76 L563.32 266.07 L564.23 265.35 L565.13 264.62 L566.04 263.87 L566.94 263.1 L567.85 262.3 L568.75 261.49 L569.66 260.66 L570.56 259.81 L571.47 258.94 L572.37 258.06 L573.28 257.15 L574.18 256.23 L575.09 255.29 L575.99 254.33 L576.9 253.36 L577.8 252.37 L578.71 251.37 L579.61 250.35 L580.52 249.33 L581.42 248.29 L582.33 247.24 L583.23 246.19 L584.14 245.13 L585.04 244.06 L585.95 243 L586.85 241.93 L587.76 240.86 L588.66 239.8 L589.57 238.75 L590.47 237.7 L591.38 236.67 L592.28 235.65 L593.19 234.64 L594.09 233.66 L595 232.7 L595.9 231.76 L596.81 230.86 L597.71 229.98 L598.62 229.14 L599.52 228.34 L600.43 227.57 L601.33 226.85 L602.24 226.17 L603.14 225.54 L604.05 224.97 L604.95 224.44 L605.86 223.97 L606.76 223.56 L607.67 223.2 L608.57 222.9 L609.48 222.67 L610.38 222.5 L611.29 222.39 L612.19 222.34 L613.1 222.35 L614 222.46 L614.91 222.69 L615.81 223.04 L616.72 223.52 L617.62 224.11 L618.53 224.82 L619.43 225.63 L620.34 226.55 L621.24 227.56 L622.15 228.65 L623.05 229.82 L623.96 231.05 L624.86 232.35 L625.77 233.69 L626.67 235.07 L627.58 236.49 L628.48 237.93 L629.39 239.38 L630.29 240.85 L631.2 242.31 L632.1 243.77 L633.01 245.21 L633.91 246.64 L634.82 248.05 L635.72 249.43 L636.63 250.78 L637.53 252.1 L638.44 253.38 L639.34 254.62 L640.25 255.82 L641.15 256.98 L642.06 258.1 L642.96 259.17 L643.87 260.2 L644.77 261.19 L645.68 262.13 L646.58 263.02 L647.49 263.88 L648.39 264.69 L649.3 265.46 L650.2 266.19 L651.11 266.87 L652.01 267.52 L652.92 268.13 L653.82 268.71 L654.73 269.25 L655.63 269.75 L656.54 270.22 L657.44 270.66 L658.35 271.07 L659.25 271.45 L660.16 271.8 L661.06 272.12 L661.97 272.41 L662.87 272.68 L663.78 272.93 L664.68 273.15 L665.59 273.35 L666.49 273.53 L667.4 273.69 L667.4 291.4" stroke="#000" stroke-width="1.1" fill="none" stroke-linejoin="round"/>
<path d="M470.82 293.92 L470.82 289.44 L471.73 289.43 L472.63 289.41 L473.54 289.4 L474.44 289.38 L475.35 289.37 L476.25 289.35 L477.16 289.33 L478.06 289.31 L478.97 289.29 L479.87 289.27 L480.78 289.25 L481.68 289.23 L482.59 289.2 L483.49 289.18 L484.4 289.15 L485.3 289.12 L486.21 289.09 L487.11 289.06 L488.02 289.03 L488.92 288.99 L489.83 288.96 L490.73 288.92 L491.64 288.88 L492.54 288.84 L493.45 288.8 L494.35 288.75 L495.26 288.71 L496.16 288.66 L497.07 288.61 L497.97 288.56 L498.88 288.5 L499.78 288.45 L500.69 288.39 L501.59 288.33 L502.5 288.26 L503.4 288.2 L504.31 288.13 L505.21 288.06 L506.12 287.98 L507.02 287.91 L507.93 287.83 L508.83 287.75 L509.74 287.66 L510.64 287.57 L511.55 287.48 L512.45 287.38 L513.36 287.28 L514.26 287.18 L515.17 287.07 L516.07 286.96 L516.98 286.84 L517.88 286.72 L518.79 286.6 L519.69 286.47 L520.6 286.33 L521.5 286.19 L522.41 286.05 L523.31 285.9 L524.22 285.75 L525.12 285.59 L526.03 285.42 L526.93 285.25 L527.84 285.07 L528.74 284.88 L529.65 284.69 L530.55 284.49 L531.46 284.29 L532.36 284.07 L533.27 283.85 L534.17 283.62 L535.08 283.38 L535.98 283.14 L536.89 282.88 L537.79 282.62 L538.7 282.35 L539.6 282.06 L540.51 281.77 L541.41 281.47 L542.32 281.16 L543.22 280.83 L544.13 280.5 L545.03 280.15 L545.94 279.79 L546.84 279.42 L547.75 279.03 L548.65 278.64 L549.56 278.23 L550.46 277.8 L551.37 277.36 L552.27 276.91 L553.18 276.44 L554.08 275.96 L554.99 275.46 L555.89 274.94 L556.8 274.41 L557.7 273.86 L558.61 273.3 L559.51 272.72 L560.42 272.12 L561.32 271.5 L562.23 270.86 L563.13 270.21 L564.04 269.53 L564.94 268.84 L565.85 268.13 L566.75 267.39 L567.66 266.64 L568.56 265.87 L569.47 265.08 L570.37 264.27 L571.28 263.44 L572.18 262.6 L573.09 261.73 L573.99 260.84 L574.9 259.94 L575.8 259.02 L576.71 258.08 L577.61 257.12 L578.52 256.15 L579.42 255.16 L580.33 254.16 L581.23 253.15 L582.14 252.12 L583.04 251.08 L583.95 250.04 L584.85 248.98 L585.76 247.92 L586.66 246.86 L587.57 245.79 L588.47 244.73 L589.38 243.66 L590.28 242.6 L591.19 241.54 L592.09 240.5 L593 239.46 L593.9 238.44 L594.81 237.44 L595.71 236.45 L596.62 235.49 L597.52 234.55 L598.43 233.64 L599.33 232.76 L600.24 231.92 L601.14 231.11 L602.05 230.34 L602.95 229.62 L603.86 228.94 L604.76 228.31 L605.67 227.73 L606.57 227.2 L607.48 226.72 L608.38 226.3 L609.29 225.94 L610.19 225.64 L611.1 225.4 L612 225.23 L612.91 225.11 L613.81 225.06 L614.72 225.07 L615.62 225.17 L616.53 225.39 L617.43 225.73 L618.34 226.2 L619.24 226.79 L620.15 227.49 L621.05 228.29 L621.96 229.2 L622.86 230.2 L623.77 231.29 L624.67 232.45 L625.58 233.68 L626.48 234.97 L627.39 236.31 L628.29 237.69 L629.2 239.11 L630.1 240.54 L631.01 242 L631.91 243.46 L632.82 244.92 L633.72 246.38 L634.63 247.83 L635.53 249.26 L636.44 250.66 L637.34 252.05 L638.25 253.4 L639.15 254.72 L640.06 256 L640.96 257.25 L641.87 258.45 L642.77 259.61 L643.68 260.73 L644.58 261.81 L645.49 262.84 L646.39 263.83 L647.3 264.77 L648.2 265.67 L649.11 266.53 L650.01 267.34 L650.92 268.12 L651.82 268.85 L652.73 269.54 L653.63 270.19 L654.54 270.8 L655.44 271.38 L656.35 271.92 L657.25 272.43 L658.16 272.9 L659.06 273.34 L659.97 273.75 L660.87 274.13 L661.78 274.48 L662.68 274.8 L663.59 275.1 L664.49 275.37 L665.4 275.62 L666.3 275.84 L667.21 276.04 L668.11 276.22 L669.02 276.38 L669.02 294.12" stroke="#000" stroke-width="1.1" fill="none" stroke-linejoin="round"/>
<path d="M435.2 236.5 L435.2 229.3 L439.2 229.5 L439.2 237" stroke="#000" stroke-width="0.8" fill="none"/>
<path d="M439.2 229.5 L480 232 L530 234.6 L580 236 L632 236.6" stroke="#000" stroke-width="0.85" fill="none"/>
<line x1="436.8" y1="236.8" x2="470.82" y2="293.92" stroke="#000" stroke-width="1.1"/>
<line x1="470.82" y1="293.92" x2="669.02" y2="294.12" stroke="#000" stroke-width="1.3"/>
<path d="M534.71 233.73 L535.5 230.9 L537.95 210.14 L539.57 180.86 L541.19 196.01 L542.81 209.95 L544.43 218.9 L546.05 223.65 L547.67 226.8 L549.29 229.6 L550.91 233.14 L552.53 235.9 L554.15 238.41 L555.77 242 L557.39 245.33 L559.01 248.48 L560.63 251.51 L562.25 254.45 L563.87 257.32 L565.49 260.15 L567.11 262.95 L568.73 265.73" stroke="#1a1aff" stroke-width="1.6" fill="none" stroke-linejoin="round"/>
<circle cx="534.71" cy="233.73" r="2.1" fill="#fff" stroke="#4a4aff" stroke-width="0.9"/>
<circle cx="535.5" cy="230.9" r="2.1" fill="#fff" stroke="#4a4aff" stroke-width="0.9"/>
<circle cx="537.95" cy="210.14" r="2.1" fill="#fff" stroke="#4a4aff" stroke-width="0.9"/>
<circle cx="539.57" cy="180.86" r="2.1" fill="#fff" stroke="#4a4aff" stroke-width="0.9"/>
<circle cx="541.19" cy="196.01" r="2.1" fill="#fff" stroke="#4a4aff" stroke-width="0.9"/>
<circle cx="542.81" cy="209.95" r="2.1" fill="#fff" stroke="#4a4aff" stroke-width="0.9"/>
<circle cx="544.43" cy="218.9" r="2.1" fill="#fff" stroke="#4a4aff" stroke-width="0.9"/>
<circle cx="546.05" cy="223.65" r="2.1" fill="#fff" stroke="#4a4aff" stroke-width="0.9"/>
<circle cx="547.67" cy="226.8" r="2.1" fill="#fff" stroke="#4a4aff" stroke-width="0.9"/>
<circle cx="549.29" cy="229.6" r="2.1" fill="#fff" stroke="#4a4aff" stroke-width="0.9"/>
<circle cx="550.91" cy="233.14" r="2.1" fill="#fff" stroke="#4a4aff" stroke-width="0.9"/>
<circle cx="552.53" cy="235.9" r="2.1" fill="#fff" stroke="#4a4aff" stroke-width="0.9"/>
<circle cx="554.15" cy="238.41" r="2.1" fill="#fff" stroke="#4a4aff" stroke-width="0.9"/>
<circle cx="555.77" cy="242" r="2.1" fill="#fff" stroke="#4a4aff" stroke-width="0.9"/>
<circle cx="557.39" cy="245.33" r="2.1" fill="#fff" stroke="#4a4aff" stroke-width="0.9"/>
<circle cx="559.01" cy="248.48" r="2.1" fill="#fff" stroke="#4a4aff" stroke-width="0.9"/>
<circle cx="560.63" cy="251.51" r="2.1" fill="#fff" stroke="#4a4aff" stroke-width="0.9"/>
<circle cx="562.25" cy="254.45" r="2.1" fill="#fff" stroke="#4a4aff" stroke-width="0.9"/>
<circle cx="563.87" cy="257.32" r="2.1" fill="#fff" stroke="#4a4aff" stroke-width="0.9"/>
<circle cx="565.49" cy="260.15" r="2.1" fill="#fff" stroke="#4a4aff" stroke-width="0.9"/>
<circle cx="567.11" cy="262.95" r="2.1" fill="#fff" stroke="#4a4aff" stroke-width="0.9"/>
<circle cx="568.73" cy="265.73" r="2.1" fill="#fff" stroke="#4a4aff" stroke-width="0.9"/>
<line x1="543.2" y1="177" x2="543.2" y2="167.5" stroke="#000" stroke-width="1"/>
<path d="M543.2 163 L544.8 168 L541.6 168Z" stroke="none" stroke-width="0" fill="#000"/>
<text x="548" y="173.8" font-size="9.8" text-anchor="start" fill="#000" stroke="#000">Resistivity</text>
<text x="563.3" y="306.9" font-size="10.2" text-anchor="start" fill="#000" stroke="#000">V<tspan font-size="6.32" dy="3.57">BG</tspan><tspan dy="-3.57"></tspan></text>
<text x="573.3" y="285.6" font-size="10.2" stroke="#000">Fixed V<tspan font-size="6.2" dy="3.6">BG</tspan></text>
<line x1="651.5" y1="303.7" x2="663.1" y2="303.7" stroke="#000" stroke-width="1"/>
<path d="M667.6 303.7 L662.6 305.3 L662.6 302.1Z" stroke="none" stroke-width="0" fill="#000"/>
<line x1="434" y1="247" x2="455.9" y2="284.97" stroke="#000" stroke-width="1.1"/>
<path d="M458.4 289.3 L454.18 285.39 L457.12 283.69Z" stroke="none" stroke-width="0" fill="#000"/>
<text x="432.2" y="264" font-size="10.3" text-anchor="start" fill="#000" stroke="#000" transform="rotate(60 432.2 264)">Time</text>
<text x="423.2" y="173.6" font-size="9.8" text-anchor="start" fill="#000" stroke="#000">(g)</text>
</svg>
</body></html>
